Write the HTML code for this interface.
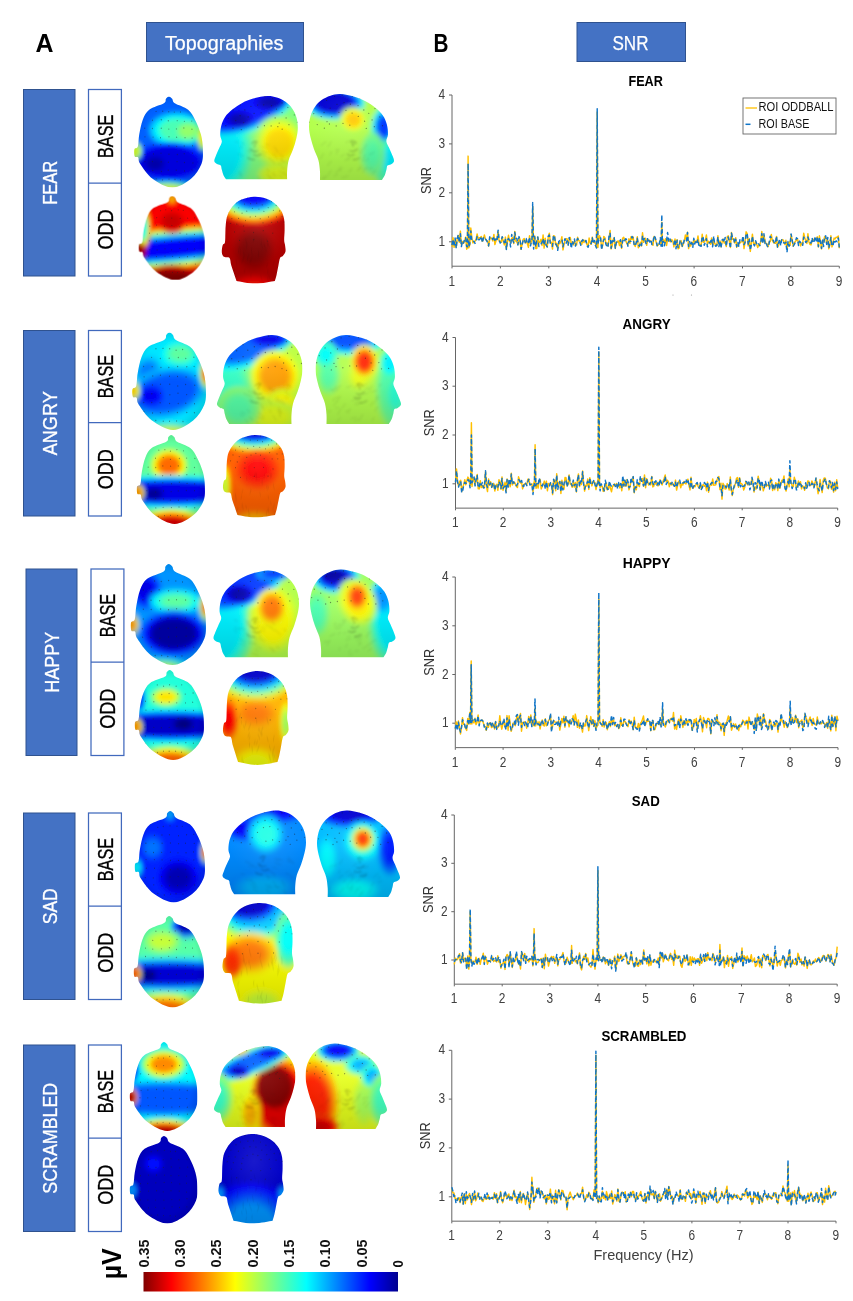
<!DOCTYPE html>
<html><head><meta charset="utf-8"><title>Figure</title>
<style>html,body{margin:0;padding:0;background:#fff}svg{display:block;font-family:"Liberation Sans", sans-serif}</style>
</head><body>
<svg width="853" height="1301" viewBox="0 0 853 1301">
<rect width="853" height="1301" fill="#fff"/>
<text x="44.5" y="51.7" font-size="25" fill="#000" font-weight="bold" text-anchor="middle" textLength="18" lengthAdjust="spacingAndGlyphs">A</text>
<text x="441" y="52" font-size="25" fill="#000" font-weight="bold" text-anchor="middle" textLength="15" lengthAdjust="spacingAndGlyphs">B</text>
<rect x="146.5" y="22.5" width="157" height="39" fill="#4472C4" stroke="#2F528F" stroke-width="1"/>
<text x="224.2" y="50" font-size="20" fill="#fff" font-weight="normal" text-anchor="middle" textLength="118.5" lengthAdjust="spacingAndGlyphs" stroke="#fff" stroke-width="0.25">Topographies</text>
<rect x="577" y="22.5" width="108.5" height="39" fill="#4472C4" stroke="#2F528F" stroke-width="1"/>
<text x="630.5" y="50" font-size="20" fill="#fff" font-weight="normal" text-anchor="middle" textLength="36" lengthAdjust="spacingAndGlyphs" stroke="#fff" stroke-width="0.25">SNR</text>
<rect x="23.5" y="89.5" width="51.5" height="186.5" fill="#4472C4" stroke="#2F528F" stroke-width="1"/>
<text x="56.75" y="182.75" font-size="21" fill="#fff" font-weight="normal" text-anchor="middle" transform="rotate(-90 56.75 182.75)" textLength="44" lengthAdjust="spacingAndGlyphs" stroke="#fff" stroke-width="0.3">FEAR</text>
<rect x="88.5" y="89.5" width="32.900000000000006" height="186.5" fill="#fff" stroke="#4169BD" stroke-width="1.25"/>
<line x1="88.5" x2="121.4" y1="183" y2="183" stroke="#4169BD" stroke-width="1.25"/>
<text x="112.75" y="136.25" font-size="21.5" fill="#000" font-weight="normal" text-anchor="middle" transform="rotate(-90 112.75 136.25)" textLength="43.5" lengthAdjust="spacingAndGlyphs" stroke="#000" stroke-width="0.35">BASE</text>
<text x="112.75" y="229.5" font-size="21.5" fill="#000" font-weight="normal" text-anchor="middle" transform="rotate(-90 112.75 229.5)" textLength="40" lengthAdjust="spacingAndGlyphs" stroke="#000" stroke-width="0.35">ODD</text>
<rect x="23.5" y="330.5" width="51.5" height="185.5" fill="#4472C4" stroke="#2F528F" stroke-width="1"/>
<text x="56.75" y="423.25" font-size="21" fill="#fff" font-weight="normal" text-anchor="middle" transform="rotate(-90 56.75 423.25)" textLength="64" lengthAdjust="spacingAndGlyphs" stroke="#fff" stroke-width="0.3">ANGRY</text>
<rect x="88.5" y="330.5" width="32.900000000000006" height="185.5" fill="#fff" stroke="#4169BD" stroke-width="1.25"/>
<line x1="88.5" x2="121.4" y1="422.5" y2="422.5" stroke="#4169BD" stroke-width="1.25"/>
<text x="112.75" y="376.5" font-size="21.5" fill="#000" font-weight="normal" text-anchor="middle" transform="rotate(-90 112.75 376.5)" textLength="43.5" lengthAdjust="spacingAndGlyphs" stroke="#000" stroke-width="0.35">BASE</text>
<text x="112.75" y="469.25" font-size="21.5" fill="#000" font-weight="normal" text-anchor="middle" transform="rotate(-90 112.75 469.25)" textLength="40" lengthAdjust="spacingAndGlyphs" stroke="#000" stroke-width="0.35">ODD</text>
<rect x="26" y="569" width="51" height="186.5" fill="#4472C4" stroke="#2F528F" stroke-width="1"/>
<text x="59.0" y="662.25" font-size="21" fill="#fff" font-weight="normal" text-anchor="middle" transform="rotate(-90 59.0 662.25)" textLength="61" lengthAdjust="spacingAndGlyphs" stroke="#fff" stroke-width="0.3">HAPPY</text>
<rect x="91" y="569" width="32.900000000000006" height="186.5" fill="#fff" stroke="#4169BD" stroke-width="1.25"/>
<line x1="91" x2="123.9" y1="662" y2="662" stroke="#4169BD" stroke-width="1.25"/>
<text x="115.25" y="615.5" font-size="21.5" fill="#000" font-weight="normal" text-anchor="middle" transform="rotate(-90 115.25 615.5)" textLength="43.5" lengthAdjust="spacingAndGlyphs" stroke="#000" stroke-width="0.35">BASE</text>
<text x="115.25" y="708.75" font-size="21.5" fill="#000" font-weight="normal" text-anchor="middle" transform="rotate(-90 115.25 708.75)" textLength="40" lengthAdjust="spacingAndGlyphs" stroke="#000" stroke-width="0.35">ODD</text>
<rect x="23.5" y="813" width="51.5" height="186.5" fill="#4472C4" stroke="#2F528F" stroke-width="1"/>
<text x="56.75" y="906.25" font-size="21" fill="#fff" font-weight="normal" text-anchor="middle" transform="rotate(-90 56.75 906.25)" textLength="36" lengthAdjust="spacingAndGlyphs" stroke="#fff" stroke-width="0.3">SAD</text>
<rect x="88.5" y="813" width="32.900000000000006" height="186.5" fill="#fff" stroke="#4169BD" stroke-width="1.25"/>
<line x1="88.5" x2="121.4" y1="906" y2="906" stroke="#4169BD" stroke-width="1.25"/>
<text x="112.75" y="859.5" font-size="21.5" fill="#000" font-weight="normal" text-anchor="middle" transform="rotate(-90 112.75 859.5)" textLength="43.5" lengthAdjust="spacingAndGlyphs" stroke="#000" stroke-width="0.35">BASE</text>
<text x="112.75" y="952.75" font-size="21.5" fill="#000" font-weight="normal" text-anchor="middle" transform="rotate(-90 112.75 952.75)" textLength="40" lengthAdjust="spacingAndGlyphs" stroke="#000" stroke-width="0.35">ODD</text>
<rect x="23.5" y="1045" width="51.5" height="186.5" fill="#4472C4" stroke="#2F528F" stroke-width="1"/>
<text x="56.75" y="1138.25" font-size="21" fill="#fff" font-weight="normal" text-anchor="middle" transform="rotate(-90 56.75 1138.25)" textLength="111" lengthAdjust="spacingAndGlyphs" stroke="#fff" stroke-width="0.3">SCRAMBLED</text>
<rect x="88.5" y="1045" width="32.900000000000006" height="186.5" fill="#fff" stroke="#4169BD" stroke-width="1.25"/>
<line x1="88.5" x2="121.4" y1="1138" y2="1138" stroke="#4169BD" stroke-width="1.25"/>
<text x="112.75" y="1091.5" font-size="21.5" fill="#000" font-weight="normal" text-anchor="middle" transform="rotate(-90 112.75 1091.5)" textLength="43.5" lengthAdjust="spacingAndGlyphs" stroke="#000" stroke-width="0.35">BASE</text>
<text x="112.75" y="1184.75" font-size="21.5" fill="#000" font-weight="normal" text-anchor="middle" transform="rotate(-90 112.75 1184.75)" textLength="40" lengthAdjust="spacingAndGlyphs" stroke="#000" stroke-width="0.35">ODD</text>
<text x="645.65" y="86" font-size="15.3" fill="#000" font-weight="bold" text-anchor="middle" textLength="34.5" lengthAdjust="spacingAndGlyphs">FEAR</text>
<path d="M449,95 H452 V266.2083333333333 H839.3" fill="none" stroke="#666" stroke-width="1"/>
<path d="M449,241.8 H452 M449,192.8 H452 M449,143.9 H452 M452.0,266.2083333333333 V268.4083333333333 M500.4,266.2083333333333 V268.4083333333333 M548.8,266.2083333333333 V268.4083333333333 M597.2,266.2083333333333 V268.4083333333333 M645.6,266.2083333333333 V268.4083333333333 M694.1,266.2083333333333 V268.4083333333333 M742.5,266.2083333333333 V268.4083333333333 M790.9,266.2083333333333 V268.4083333333333 M839.3,266.2083333333333 V268.4083333333333 " fill="none" stroke="#666" stroke-width="1"/>
<text x="445.2" y="245.75" font-size="14.3" fill="#404040" font-weight="normal" text-anchor="end" textLength="6.6" lengthAdjust="spacingAndGlyphs">1</text>
<text x="445.2" y="196.83333333333334" font-size="14.3" fill="#404040" font-weight="normal" text-anchor="end" textLength="6.6" lengthAdjust="spacingAndGlyphs">2</text>
<text x="445.2" y="147.91666666666669" font-size="14.3" fill="#404040" font-weight="normal" text-anchor="end" textLength="6.6" lengthAdjust="spacingAndGlyphs">3</text>
<text x="445.2" y="99.0" font-size="14.3" fill="#404040" font-weight="normal" text-anchor="end" textLength="6.6" lengthAdjust="spacingAndGlyphs">4</text>
<text x="451.8" y="285.5083333333333" font-size="14.3" fill="#404040" font-weight="normal" text-anchor="middle" textLength="6.6" lengthAdjust="spacingAndGlyphs">1</text>
<text x="500.21250000000003" y="285.5083333333333" font-size="14.3" fill="#404040" font-weight="normal" text-anchor="middle" textLength="6.6" lengthAdjust="spacingAndGlyphs">2</text>
<text x="548.625" y="285.5083333333333" font-size="14.3" fill="#404040" font-weight="normal" text-anchor="middle" textLength="6.6" lengthAdjust="spacingAndGlyphs">3</text>
<text x="597.0374999999999" y="285.5083333333333" font-size="14.3" fill="#404040" font-weight="normal" text-anchor="middle" textLength="6.6" lengthAdjust="spacingAndGlyphs">4</text>
<text x="645.4499999999999" y="285.5083333333333" font-size="14.3" fill="#404040" font-weight="normal" text-anchor="middle" textLength="6.6" lengthAdjust="spacingAndGlyphs">5</text>
<text x="693.8625" y="285.5083333333333" font-size="14.3" fill="#404040" font-weight="normal" text-anchor="middle" textLength="6.6" lengthAdjust="spacingAndGlyphs">6</text>
<text x="742.2749999999999" y="285.5083333333333" font-size="14.3" fill="#404040" font-weight="normal" text-anchor="middle" textLength="6.6" lengthAdjust="spacingAndGlyphs">7</text>
<text x="790.6874999999999" y="285.5083333333333" font-size="14.3" fill="#404040" font-weight="normal" text-anchor="middle" textLength="6.6" lengthAdjust="spacingAndGlyphs">8</text>
<text x="839.0999999999999" y="285.5083333333333" font-size="14.3" fill="#404040" font-weight="normal" text-anchor="middle" textLength="6.6" lengthAdjust="spacingAndGlyphs">9</text>
<text x="430.7" y="180.60416666666666" font-size="14.5" fill="#333" font-weight="normal" text-anchor="middle" transform="rotate(-90 430.7 180.60416666666666)" textLength="27" lengthAdjust="spacingAndGlyphs">SNR</text>
<polyline points="452.0,246.8 453.0,237.6 454.1,247.3 455.1,239.8 456.2,246.8 457.2,238.8 458.3,235.4 459.3,242.2 460.4,231.1 461.4,245.0 462.5,241.4 463.5,243.2 464.6,240.6 465.6,237.2 466.7,249.2 467.4,247.7 468.1,156.1 468.8,247.7 468.7,247.9 469.8,245.0 470.8,228.0 471.9,238.2 472.9,242.9 474.0,242.1 475.0,241.3 476.1,239.4 477.1,234.0 478.2,238.9 479.2,237.8 480.3,237.6 481.3,236.5 482.4,241.2 483.4,238.6 484.4,234.9 485.5,239.4 486.5,240.6 487.6,241.0 488.6,246.0 489.7,239.3 490.7,237.7 491.8,238.5 492.8,241.0 493.9,234.4 494.9,244.6 496.0,240.7 497.0,238.1 498.1,231.6 499.1,241.0 500.2,241.2 501.2,242.2 502.2,237.1 503.3,241.5 504.3,244.9 505.4,237.1 506.4,249.2 507.5,240.8 508.5,235.3 509.6,241.7 510.6,242.4 511.7,238.4 512.7,237.6 513.8,243.5 514.8,231.4 515.9,241.3 516.9,242.1 517.9,244.6 519.0,238.8 520.0,239.0 521.1,249.3 522.1,244.3 523.2,239.3 524.2,238.5 525.3,243.1 526.3,240.0 527.4,243.7 528.4,247.4 529.5,235.7 530.5,243.7 531.6,241.0 532.0,239.3 532.7,206.5 533.4,237.8 533.6,245.0 534.7,235.9 535.7,248.4 536.8,248.4 537.8,237.1 538.9,242.5 539.9,242.3 541.0,239.3 542.0,245.5 543.1,234.9 544.1,248.1 545.2,238.2 546.2,244.6 547.3,246.7 548.3,236.5 549.3,233.2 550.4,242.3 551.4,242.3 552.5,249.1 553.5,235.8 554.6,236.2 555.6,244.7 556.7,243.3 557.7,248.8 558.8,241.8 559.8,243.7 560.9,241.0 561.9,236.7 563.0,249.9 564.0,244.6 565.0,240.3 566.1,238.6 567.1,238.8 568.2,244.9 569.2,238.6 570.3,237.5 571.3,244.2 572.4,242.2 573.4,244.9 574.5,240.8 575.5,245.2 576.6,244.9 577.6,237.2 578.7,240.8 579.7,240.9 580.8,243.1 581.8,244.4 582.8,239.5 583.9,242.6 584.9,240.3 586.0,240.9 587.0,244.9 588.1,245.9 589.1,238.0 590.2,242.9 591.2,244.3 592.3,237.1 593.3,242.3 594.4,242.3 595.4,243.4 596.5,247.0 596.5,247.5 597.2,112.1 597.9,247.5 598.5,240.3 599.6,235.7 600.6,238.6 601.7,248.2 602.7,245.6 603.8,236.4 604.8,237.4 605.9,243.4 606.9,243.1 608.0,245.9 609.0,239.7 610.1,230.4 611.1,248.9 612.2,245.7 613.2,239.4 614.2,237.9 615.3,248.5 616.3,242.7 617.4,241.2 618.4,241.0 619.5,245.5 620.5,240.3 621.6,248.4 622.6,238.3 623.7,237.2 624.7,240.1 625.8,240.8 626.8,243.4 627.9,245.0 628.9,238.8 629.9,243.3 631.0,236.7 632.0,239.6 633.1,236.8 634.1,244.2 635.2,246.5 636.2,242.5 637.3,236.8 638.3,247.8 639.4,246.2 640.4,242.3 641.5,245.9 642.5,232.7 643.6,242.3 644.6,238.7 645.6,238.2 646.7,245.3 647.7,239.7 648.8,239.8 649.8,241.6 650.9,240.7 651.9,243.2 653.0,245.3 654.0,236.4 655.1,238.2 656.1,241.8 657.2,246.1 658.2,244.8 659.3,244.2 660.3,240.1 661.1,245.0 661.8,222.2 662.5,245.0 662.4,238.4 663.4,239.9 664.5,242.2 665.5,238.8 666.6,245.5 667.6,238.8 668.7,240.1 669.7,241.3 670.8,241.9 671.8,239.6 672.9,241.2 673.9,246.9 675.0,239.0 676.0,245.5 677.1,239.7 678.1,248.8 679.1,248.1 680.2,241.2 681.2,240.8 682.3,246.5 683.3,243.9 684.4,240.6 685.4,235.0 686.5,240.1 687.5,232.3 688.6,248.6 689.6,243.9 690.7,246.1 691.7,242.3 692.8,244.2 693.8,239.8 694.8,242.0 695.9,240.9 696.9,242.5 698.0,235.9 699.0,244.1 700.1,244.7 701.1,245.7 702.2,234.3 703.2,242.2 704.3,242.0 705.3,240.1 706.4,234.9 707.4,244.2 708.5,241.3 709.5,242.0 710.5,244.3 711.6,237.9 712.6,245.5 713.7,240.6 714.7,243.6 715.8,244.6 716.8,245.8 717.9,235.8 718.9,243.9 720.0,240.9 721.0,246.8 722.1,241.9 723.1,239.1 724.2,243.1 725.2,241.8 726.3,246.5 727.3,236.5 728.3,235.8 729.4,241.1 730.4,247.5 731.5,232.5 732.5,239.2 733.6,239.4 734.6,242.9 735.7,237.7 736.7,247.3 737.8,244.0 738.8,244.7 739.9,243.1 740.9,241.9 742.0,241.7 743.0,237.9 744.0,248.6 745.1,241.8 746.1,231.8 747.2,233.7 748.2,246.0 749.3,238.7 750.3,251.4 751.4,242.5 752.4,234.2 753.5,243.4 754.5,245.0 755.6,241.4 756.6,243.9 757.7,247.5 758.7,244.9 759.7,245.5 760.8,240.9 761.8,231.5 762.9,242.1 763.9,235.1 765.0,240.5 766.0,243.8 767.1,243.9 768.1,246.7 769.2,241.7 770.2,241.7 771.3,234.4 772.3,240.3 773.4,242.3 774.4,243.1 775.4,243.3 776.5,236.4 777.5,247.3 778.6,245.1 779.6,240.8 780.7,242.0 781.7,239.9 782.8,239.6 783.8,241.4 784.9,244.6 785.9,240.3 787.0,248.9 788.0,244.1 789.1,242.0 790.1,245.3 791.1,234.8 792.2,240.2 793.2,246.2 794.3,243.1 795.3,241.5 796.4,240.3 797.4,238.7 798.5,242.8 799.5,242.2 800.6,245.9 801.6,243.1 802.7,243.1 803.7,233.2 804.8,237.9 805.8,240.6 806.9,243.5 807.9,233.7 808.9,241.7 810.0,244.4 811.0,245.0 812.1,239.9 813.1,240.2 814.2,239.0 815.2,238.6 816.3,239.3 817.3,236.8 818.4,246.9 819.4,235.8 820.5,241.2 821.5,248.8 822.6,240.3 823.6,242.5 824.6,236.7 825.7,237.5 826.7,243.6 827.8,240.4 828.8,248.8 829.9,244.7 830.9,235.7 832.0,246.9 833.0,242.9 834.1,238.1 835.1,238.9 836.2,237.2 837.2,237.4 838.3,236.0 839.3,248.2" fill="none" stroke="#FFC000" stroke-width="1.45" stroke-linejoin="round"/>
<polyline points="452.0,245.1 453.0,239.4 454.1,246.3 455.1,238.0 456.2,248.3 457.2,238.5 458.3,234.7 459.3,242.6 460.4,233.8 461.4,246.6 462.5,241.1 463.5,243.0 464.6,239.5 465.6,237.7 466.7,246.3 467.4,246.8 468.1,163.5 468.8,246.8 468.7,246.6 469.8,243.9 470.8,230.9 471.9,241.5 472.9,241.4 474.0,241.3 475.0,243.4 476.1,241.5 477.1,236.5 478.2,239.5 479.2,239.8 480.3,238.7 481.3,236.3 482.4,242.8 483.4,238.3 484.4,237.0 485.5,238.9 486.5,240.4 487.6,242.3 488.6,245.9 489.7,236.8 490.7,236.4 491.8,237.8 492.8,239.6 493.9,236.5 494.9,240.2 496.0,239.0 497.0,241.1 498.1,230.2 499.1,239.7 500.2,243.1 501.2,241.4 502.2,236.7 503.3,238.9 504.3,242.7 505.4,238.6 506.4,249.5 507.5,239.9 508.5,238.6 509.6,240.5 510.6,246.9 511.7,234.5 512.7,240.2 513.8,242.7 514.8,232.3 515.9,238.3 516.9,238.4 517.9,245.0 519.0,236.6 520.0,239.0 521.1,249.2 522.1,244.8 523.2,240.5 524.2,239.0 525.3,242.6 526.3,238.6 527.4,243.8 528.4,243.1 529.5,237.3 530.5,245.8 531.6,240.8 532.0,239.3 532.7,202.6 533.4,237.8 533.6,249.1 534.7,236.7 535.7,246.8 536.8,240.3 537.8,236.9 538.9,246.5 539.9,245.2 541.0,244.0 542.0,242.4 543.1,238.6 544.1,245.1 545.2,240.8 546.2,245.4 547.3,247.0 548.3,236.2 549.3,235.1 550.4,244.1 551.4,244.7 552.5,246.3 553.5,235.3 554.6,236.8 555.6,244.0 556.7,245.2 557.7,250.3 558.8,241.5 559.8,240.5 560.9,240.0 561.9,239.3 563.0,246.8 564.0,241.5 565.0,238.7 566.1,243.3 567.1,240.7 568.2,245.1 569.2,237.5 570.3,241.6 571.3,248.4 572.4,240.9 573.4,243.8 574.5,239.0 575.5,246.1 576.6,240.9 577.6,238.4 578.7,240.8 579.7,241.5 580.8,245.3 581.8,240.7 582.8,239.8 583.9,242.3 584.9,241.8 586.0,240.6 587.0,245.8 588.1,247.2 589.1,243.4 590.2,243.8 591.2,243.6 592.3,237.8 593.3,243.4 594.4,240.4 595.4,245.3 596.5,248.1 596.5,244.2 597.2,108.7 597.9,244.2 598.5,241.0 599.6,238.2 600.6,237.7 601.7,249.9 602.7,243.1 603.8,239.8 604.8,239.0 605.9,244.1 606.9,246.4 608.0,247.5 609.0,236.0 610.1,233.3 611.1,248.3 612.2,241.0 613.2,241.3 614.2,237.6 615.3,248.2 616.3,242.5 617.4,242.0 618.4,242.3 619.5,241.8 620.5,239.7 621.6,247.4 622.6,241.6 623.7,238.9 624.7,240.7 625.8,238.7 626.8,240.0 627.9,246.2 628.9,241.5 629.9,241.2 631.0,241.2 632.0,236.4 633.1,238.2 634.1,244.3 635.2,246.1 636.2,242.7 637.3,238.3 638.3,244.5 639.4,246.2 640.4,242.9 641.5,245.6 642.5,235.7 643.6,240.0 644.6,237.8 645.6,242.7 646.7,244.4 647.7,237.6 648.8,240.7 649.8,242.0 650.9,239.6 651.9,244.5 653.0,242.4 654.0,235.5 655.1,237.3 656.1,240.5 657.2,245.6 658.2,242.8 659.3,243.9 660.3,237.8 661.1,246.2 661.8,214.8 662.5,246.2 662.4,241.2 663.4,241.4 664.5,245.7 665.5,240.4 666.6,240.7 667.6,232.5 668.7,241.1 669.7,238.2 670.8,241.0 671.8,241.8 672.9,242.3 673.9,244.2 675.0,239.4 676.0,248.7 677.1,240.3 678.1,247.5 679.1,246.9 680.2,240.6 681.2,240.7 682.3,246.3 683.3,243.9 684.4,239.6 685.4,241.3 686.5,240.8 687.5,232.4 688.6,246.5 689.6,241.5 690.7,245.5 691.7,242.4 692.8,247.3 693.8,238.3 694.8,244.0 695.9,240.0 696.9,242.4 698.0,239.3 699.0,247.3 700.1,245.5 701.1,246.3 702.2,236.2 703.2,237.8 704.3,245.3 705.3,242.2 706.4,238.7 707.4,246.8 708.5,243.4 709.5,242.7 710.5,241.9 711.6,238.5 712.6,246.8 713.7,236.2 714.7,244.8 715.8,246.2 716.8,245.4 717.9,237.0 718.9,246.6 720.0,241.1 721.0,248.0 722.1,239.9 723.1,239.3 724.2,242.2 725.2,237.5 726.3,246.2 727.3,238.1 728.3,237.1 729.4,242.0 730.4,248.2 731.5,233.1 732.5,237.9 733.6,237.9 734.6,243.1 735.7,239.2 736.7,246.6 737.8,242.4 738.8,246.2 739.9,239.8 740.9,241.6 742.0,241.1 743.0,235.9 744.0,244.6 745.1,242.4 746.1,234.1 747.2,233.4 748.2,244.2 749.3,239.5 750.3,250.2 751.4,244.6 752.4,236.2 753.5,243.6 754.5,245.9 755.6,240.8 756.6,243.6 757.7,245.4 758.7,243.8 759.7,245.8 760.8,243.4 761.8,233.6 762.9,243.4 763.9,233.7 765.0,243.4 766.0,242.2 767.1,245.8 768.1,247.2 769.2,243.0 770.2,236.2 771.3,237.9 772.3,240.4 773.4,240.2 774.4,243.5 775.4,243.2 776.5,236.0 777.5,247.1 778.6,242.8 779.6,239.3 780.7,245.7 781.7,239.8 782.8,242.6 783.8,242.8 784.9,243.3 785.9,242.3 787.0,252.3 788.0,241.5 789.1,246.3 790.1,243.8 791.1,233.9 792.2,240.1 793.2,246.2 794.3,244.4 795.3,242.3 796.4,237.8 797.4,238.5 798.5,245.5 799.5,241.1 800.6,242.7 801.6,242.1 802.7,245.3 803.7,237.1 804.8,239.8 805.8,242.4 806.9,241.3 807.9,236.9 808.9,239.9 810.0,242.5 811.0,243.2 812.1,237.9 813.1,242.9 814.2,241.7 815.2,236.3 816.3,240.9 817.3,237.5 818.4,246.6 819.4,237.6 820.5,242.0 821.5,248.4 822.6,240.2 823.6,246.5 824.6,236.3 825.7,235.8 826.7,244.4 827.8,237.4 828.8,247.8 829.9,243.0 830.9,237.5 832.0,245.8 833.0,245.7 834.1,239.8 835.1,242.1 836.2,240.9 837.2,241.8 838.3,237.9 839.3,247.4" fill="none" stroke="#0F74C8" stroke-width="1.45" stroke-dasharray="4.2 2.6" stroke-linejoin="round"/>
<text x="646.6" y="328.5" font-size="15.3" fill="#000" font-weight="bold" text-anchor="middle" textLength="48" lengthAdjust="spacingAndGlyphs">ANGRY</text>
<path d="M452.5,337.5 H455.5 V508.125 H837.7" fill="none" stroke="#666" stroke-width="1"/>
<path d="M452.5,483.8 H455.5 M452.5,435.0 H455.5 M452.5,386.2 H455.5 M455.5,508.125 V510.325 M503.3,508.125 V510.325 M551.0,508.125 V510.325 M598.8,508.125 V510.325 M646.6,508.125 V510.325 M694.4,508.125 V510.325 M742.2,508.125 V510.325 M789.9,508.125 V510.325 M837.7,508.125 V510.325 " fill="none" stroke="#666" stroke-width="1"/>
<text x="448.7" y="487.75" font-size="14.3" fill="#404040" font-weight="normal" text-anchor="end" textLength="6.6" lengthAdjust="spacingAndGlyphs">1</text>
<text x="448.7" y="439.0" font-size="14.3" fill="#404040" font-weight="normal" text-anchor="end" textLength="6.6" lengthAdjust="spacingAndGlyphs">2</text>
<text x="448.7" y="390.25" font-size="14.3" fill="#404040" font-weight="normal" text-anchor="end" textLength="6.6" lengthAdjust="spacingAndGlyphs">3</text>
<text x="448.7" y="341.5" font-size="14.3" fill="#404040" font-weight="normal" text-anchor="end" textLength="6.6" lengthAdjust="spacingAndGlyphs">4</text>
<text x="455.3" y="527.425" font-size="14.3" fill="#404040" font-weight="normal" text-anchor="middle" textLength="6.6" lengthAdjust="spacingAndGlyphs">1</text>
<text x="503.075" y="527.425" font-size="14.3" fill="#404040" font-weight="normal" text-anchor="middle" textLength="6.6" lengthAdjust="spacingAndGlyphs">2</text>
<text x="550.8499999999999" y="527.425" font-size="14.3" fill="#404040" font-weight="normal" text-anchor="middle" textLength="6.6" lengthAdjust="spacingAndGlyphs">3</text>
<text x="598.625" y="527.425" font-size="14.3" fill="#404040" font-weight="normal" text-anchor="middle" textLength="6.6" lengthAdjust="spacingAndGlyphs">4</text>
<text x="646.4" y="527.425" font-size="14.3" fill="#404040" font-weight="normal" text-anchor="middle" textLength="6.6" lengthAdjust="spacingAndGlyphs">5</text>
<text x="694.175" y="527.425" font-size="14.3" fill="#404040" font-weight="normal" text-anchor="middle" textLength="6.6" lengthAdjust="spacingAndGlyphs">6</text>
<text x="741.95" y="527.425" font-size="14.3" fill="#404040" font-weight="normal" text-anchor="middle" textLength="6.6" lengthAdjust="spacingAndGlyphs">7</text>
<text x="789.725" y="527.425" font-size="14.3" fill="#404040" font-weight="normal" text-anchor="middle" textLength="6.6" lengthAdjust="spacingAndGlyphs">8</text>
<text x="837.5" y="527.425" font-size="14.3" fill="#404040" font-weight="normal" text-anchor="middle" textLength="6.6" lengthAdjust="spacingAndGlyphs">9</text>
<text x="434.2" y="422.8125" font-size="14.5" fill="#333" font-weight="normal" text-anchor="middle" transform="rotate(-90 434.2 422.8125)" textLength="27" lengthAdjust="spacingAndGlyphs">SNR</text>
<polyline points="455.5,481.5 456.5,468.9 457.6,482.9 458.6,486.0 459.6,481.4 460.7,480.2 461.7,491.5 462.7,487.5 463.8,484.1 464.8,479.7 465.8,484.8 466.9,480.5 467.9,477.1 468.9,478.6 470.0,485.6 470.7,484.3 471.4,422.8 472.1,484.3 472.0,486.5 473.1,478.0 474.1,478.9 475.1,485.1 476.2,478.9 477.2,474.5 478.2,488.7 479.3,488.9 480.3,480.7 481.3,487.6 482.4,485.4 483.4,488.0 484.4,486.1 485.5,471.9 486.5,486.5 487.5,491.6 488.6,479.0 489.6,485.3 490.6,481.7 491.7,487.4 492.7,485.6 493.7,483.3 494.8,491.0 495.8,485.4 496.8,484.2 497.9,490.3 498.9,479.7 499.9,481.0 501.0,489.2 502.0,476.9 503.0,490.3 504.0,486.2 505.1,482.1 506.1,491.4 507.1,478.9 508.2,486.3 509.2,480.7 510.2,486.8 511.3,473.3 512.3,485.0 513.3,483.1 514.4,482.0 515.4,484.1 516.4,486.5 517.5,487.5 518.5,476.7 519.5,479.8 520.6,483.1 521.6,482.4 522.6,488.9 523.7,484.7 524.7,483.7 525.7,483.9 526.8,485.0 527.8,479.2 528.8,479.2 529.9,484.7 530.9,484.8 531.9,483.7 533.0,491.9 534.0,482.0 534.4,486.0 535.1,444.8 535.8,486.0 536.1,488.3 537.1,483.5 538.1,488.1 539.2,480.4 540.2,479.6 541.2,489.0 542.3,486.4 543.3,484.2 544.3,481.1 545.4,486.3 546.4,481.1 547.4,490.8 548.5,483.4 549.5,485.3 550.5,483.0 551.6,486.0 552.6,494.6 553.6,480.7 554.7,480.1 555.7,490.7 556.7,473.8 557.8,486.7 558.8,482.9 559.8,481.4 560.9,493.5 561.9,480.2 562.9,488.6 564.0,489.2 565.0,477.5 566.0,477.7 567.1,485.9 568.1,484.3 569.1,474.9 570.2,484.0 571.2,484.5 572.2,487.3 573.3,481.6 574.3,487.1 575.3,482.4 576.4,492.0 577.4,479.9 578.4,473.9 579.5,486.6 580.5,481.6 581.5,484.6 582.6,471.0 583.6,482.9 584.6,491.1 585.7,485.3 586.7,485.9 587.7,479.0 588.8,489.4 589.8,477.7 590.8,481.5 591.9,485.9 592.9,482.0 593.9,481.2 595.0,483.2 596.0,489.6 597.0,484.3 598.1,478.9 598.1,484.8 598.8,352.1 599.5,484.8 600.1,487.4 601.1,485.9 602.2,486.2 603.2,491.4 604.2,491.0 605.3,484.4 606.3,483.1 607.3,489.9 608.4,488.8 609.4,483.4 610.4,488.3 611.5,491.8 612.5,486.4 613.5,485.6 614.6,483.9 615.6,486.6 616.6,483.4 617.7,486.5 618.7,483.5 619.7,487.9 620.8,483.8 621.8,490.8 622.8,478.4 623.9,486.2 624.9,480.5 625.9,486.3 627.0,479.5 628.0,483.9 629.0,489.9 630.1,486.4 631.1,480.2 632.1,481.7 633.2,476.7 634.2,492.8 635.2,486.4 636.3,489.8 637.3,482.9 638.3,484.8 639.4,486.7 640.4,478.3 641.4,479.3 642.5,478.5 643.5,486.1 644.5,474.9 645.6,487.7 646.6,478.6 647.6,481.2 648.7,485.1 649.7,483.1 650.7,484.9 651.8,476.4 652.8,486.9 653.8,486.1 654.9,481.7 655.9,484.2 656.9,482.2 658.0,485.9 659.0,484.2 660.0,479.7 661.1,483.3 662.1,485.0 663.1,481.1 664.2,478.3 665.2,474.9 666.2,481.9 667.3,480.2 668.3,481.4 669.3,486.8 670.4,482.8 671.4,484.9 672.4,483.2 673.5,485.8 674.5,485.4 675.5,480.1 676.6,490.1 677.6,485.5 678.6,481.3 679.7,483.1 680.7,487.7 681.7,484.0 682.8,485.1 683.8,481.4 684.8,483.2 685.9,484.0 686.9,481.0 687.9,479.2 689.0,485.5 690.0,489.9 691.0,477.2 692.1,486.6 693.1,488.4 694.1,486.0 695.1,486.8 696.2,484.3 697.2,483.0 698.2,486.7 699.3,488.4 700.3,483.5 701.3,488.9 702.4,485.6 703.4,484.6 704.4,486.3 705.5,485.1 706.5,490.7 707.5,482.1 708.6,492.2 709.6,486.2 710.6,483.5 711.7,485.3 712.7,478.9 713.7,485.2 714.8,485.1 715.8,484.8 716.8,480.5 717.9,477.6 718.9,476.5 719.9,489.6 721.0,483.3 722.0,499.1 723.0,483.2 724.1,485.4 725.1,489.1 726.1,488.8 727.2,483.4 728.2,486.6 729.2,490.0 730.3,476.9 731.3,489.8 732.3,495.5 733.4,488.3 734.4,487.2 735.4,483.4 736.5,478.3 737.5,477.5 738.5,487.3 739.6,477.7 740.6,483.7 741.6,483.7 742.7,485.1 743.7,490.1 744.7,487.6 745.8,481.3 746.8,483.0 747.8,485.0 748.9,482.3 749.9,484.9 750.9,483.7 752.0,478.8 753.0,482.6 754.0,492.0 755.1,486.8 756.1,489.1 757.1,484.3 758.2,476.2 759.2,482.1 760.2,490.1 761.3,483.1 762.3,484.3 763.3,490.9 764.4,487.4 765.4,483.2 766.4,486.4 767.5,484.9 768.5,485.4 769.5,487.9 770.6,478.3 771.6,480.9 772.6,490.5 773.7,485.5 774.7,489.7 775.7,482.8 776.8,483.5 777.8,490.6 778.8,479.9 779.9,488.1 780.9,483.5 781.9,480.2 783.0,480.3 784.0,476.0 785.0,487.6 786.1,491.1 787.1,485.0 788.1,479.0 789.2,486.8 789.2,481.3 789.9,469.1 790.6,479.9 791.2,482.7 792.2,486.0 793.3,486.6 794.3,477.3 795.3,481.3 796.4,488.2 797.4,486.5 798.4,480.9 799.5,485.0 800.5,481.8 801.5,488.9 802.6,486.0 803.6,486.7 804.6,490.3 805.7,485.1 806.7,487.2 807.7,481.0 808.8,481.3 809.8,485.8 810.8,485.1 811.9,481.0 812.9,483.4 813.9,487.0 815.0,482.8 816.0,478.4 817.0,485.8 818.1,493.7 819.1,489.3 820.1,479.4 821.2,487.0 822.2,492.5 823.2,480.2 824.3,477.9 825.3,478.1 826.3,483.4 827.4,488.0 828.4,488.8 829.4,481.0 830.5,481.1 831.5,489.2 832.5,484.6 833.6,492.1 834.6,482.3 835.6,490.7 836.7,479.7 837.7,487.8" fill="none" stroke="#FFC000" stroke-width="1.45" stroke-linejoin="round"/>
<polyline points="455.5,482.3 456.5,470.8 457.6,482.2 458.6,487.0 459.6,482.8 460.7,481.4 461.7,492.6 462.7,490.8 463.8,484.6 464.8,482.3 465.8,483.4 466.9,483.3 467.9,479.7 468.9,480.2 470.0,487.7 470.7,481.3 471.4,435.0 472.1,479.9 472.0,482.8 473.1,479.9 474.1,477.0 475.1,485.9 476.2,479.1 477.2,475.5 478.2,487.8 479.3,486.3 480.3,482.1 481.3,485.0 482.4,482.5 483.4,487.7 484.4,487.8 485.5,470.8 486.5,484.3 487.5,487.4 488.6,480.6 489.6,484.4 490.6,482.9 491.7,487.2 492.7,483.6 493.7,482.9 494.8,490.3 495.8,486.1 496.8,484.7 497.9,487.1 498.9,481.5 499.9,483.4 501.0,488.5 502.0,478.5 503.0,488.5 504.0,487.1 505.1,486.0 506.1,492.8 507.1,479.6 508.2,487.1 509.2,478.7 510.2,485.5 511.3,474.1 512.3,484.0 513.3,481.8 514.4,483.3 515.4,483.1 516.4,485.7 517.5,484.1 518.5,479.8 519.5,480.2 520.6,483.7 521.6,480.5 522.6,485.6 523.7,486.6 524.7,482.3 525.7,483.2 526.8,485.7 527.8,481.9 528.8,479.3 529.9,484.9 530.9,484.5 531.9,483.9 533.0,494.5 534.0,483.5 534.4,485.8 535.1,448.6 535.8,485.8 536.1,484.1 537.1,483.8 538.1,485.3 539.2,477.9 540.2,482.0 541.2,485.0 542.3,486.0 543.3,483.0 544.3,483.6 545.4,489.2 546.4,481.8 547.4,487.1 548.5,485.4 549.5,486.0 550.5,482.7 551.6,484.5 552.6,493.0 553.6,479.3 554.7,482.8 555.7,489.9 556.7,475.1 557.8,489.3 558.8,483.9 559.8,481.4 560.9,491.7 561.9,482.0 562.9,489.9 564.0,483.6 565.0,479.9 566.0,480.9 567.1,486.8 568.1,482.8 569.1,475.1 570.2,483.6 571.2,483.5 572.2,486.0 573.3,480.1 574.3,485.5 575.3,484.2 576.4,491.3 577.4,481.1 578.4,474.7 579.5,486.2 580.5,481.0 581.5,483.4 582.6,471.7 583.6,483.9 584.6,489.2 585.7,485.0 586.7,483.9 587.7,481.3 588.8,487.6 589.8,478.0 590.8,484.7 591.9,484.3 592.9,482.3 593.9,479.9 595.0,484.7 596.0,487.9 597.0,484.5 598.1,481.1 598.1,483.2 598.8,347.2 599.5,483.2 600.1,490.8 601.1,483.8 602.2,486.1 603.2,487.5 604.2,490.8 605.3,480.3 606.3,484.6 607.3,489.2 608.4,489.0 609.4,481.0 610.4,484.6 611.5,486.3 612.5,486.5 613.5,484.7 614.6,484.4 615.6,487.0 616.6,484.5 617.7,488.8 618.7,482.5 619.7,485.1 620.8,483.5 621.8,488.1 622.8,475.6 623.9,485.8 624.9,480.1 625.9,485.6 627.0,479.2 628.0,481.7 629.0,487.7 630.1,486.5 631.1,477.5 632.1,481.8 633.2,476.6 634.2,492.1 635.2,487.1 636.3,487.3 637.3,479.6 638.3,484.2 639.4,484.0 640.4,476.0 641.4,481.2 642.5,481.2 643.5,485.9 644.5,477.9 645.6,486.3 646.6,478.4 647.6,483.3 648.7,482.2 649.7,484.4 650.7,482.0 651.8,476.9 652.8,482.9 653.8,485.3 654.9,482.0 655.9,480.8 656.9,485.1 658.0,482.8 659.0,486.0 660.0,479.4 661.1,482.1 662.1,484.3 663.1,482.5 664.2,481.3 665.2,476.4 666.2,484.5 667.3,482.4 668.3,481.7 669.3,482.6 670.4,483.8 671.4,483.9 672.4,481.5 673.5,484.8 674.5,486.3 675.5,482.2 676.6,487.4 677.6,483.9 678.6,480.6 679.7,480.1 680.7,484.5 681.7,483.2 682.8,483.0 683.8,482.6 684.8,482.2 685.9,479.0 686.9,482.2 687.9,479.4 689.0,485.6 690.0,487.0 691.0,478.4 692.1,489.2 693.1,487.3 694.1,485.7 695.1,486.3 696.2,483.7 697.2,482.6 698.2,486.5 699.3,488.2 700.3,482.6 701.3,489.5 702.4,487.4 703.4,484.6 704.4,482.5 705.5,484.2 706.5,487.5 707.5,481.9 708.6,490.4 709.6,484.7 710.6,484.4 711.7,482.5 712.7,483.0 713.7,483.6 714.8,484.1 715.8,481.3 716.8,481.3 717.9,477.5 718.9,478.7 719.9,486.7 721.0,486.6 722.0,495.7 723.0,484.7 724.1,484.7 725.1,485.5 726.1,487.6 727.2,484.3 728.2,484.3 729.2,488.7 730.3,479.6 731.3,489.4 732.3,494.5 733.4,488.9 734.4,485.3 735.4,485.3 736.5,481.1 737.5,479.6 738.5,487.4 739.6,478.6 740.6,486.8 741.6,484.2 742.7,486.3 743.7,486.3 744.7,485.6 745.8,481.4 746.8,481.9 747.8,484.9 748.9,482.1 749.9,489.8 750.9,486.1 752.0,477.3 753.0,482.3 754.0,490.6 755.1,482.6 756.1,483.6 757.1,488.1 758.2,478.0 759.2,480.2 760.2,489.7 761.3,480.7 762.3,483.0 763.3,488.3 764.4,487.3 765.4,481.5 766.4,485.0 767.5,483.3 768.5,482.3 769.5,489.0 770.6,480.7 771.6,480.0 772.6,489.7 773.7,485.3 774.7,488.1 775.7,485.0 776.8,483.1 777.8,489.3 778.8,479.1 779.9,488.7 780.9,482.7 781.9,480.7 783.0,482.2 784.0,477.9 785.0,487.9 786.1,491.0 787.1,483.7 788.1,481.6 789.2,484.8 789.2,481.3 789.9,460.8 790.6,479.9 791.2,485.1 792.2,488.5 793.3,483.6 794.3,479.1 795.3,479.1 796.4,489.9 797.4,490.0 798.4,481.7 799.5,484.7 800.5,482.3 801.5,486.7 802.6,485.1 803.6,486.1 804.6,488.8 805.7,482.8 806.7,488.3 807.7,485.5 808.8,482.0 809.8,485.3 810.8,486.7 811.9,483.3 812.9,484.0 813.9,487.7 815.0,483.8 816.0,477.9 817.0,483.5 818.1,488.5 819.1,490.8 820.1,483.5 821.2,485.8 822.2,491.1 823.2,482.4 824.3,480.9 825.3,478.5 826.3,484.0 827.4,485.2 828.4,487.9 829.4,480.8 830.5,483.0 831.5,487.8 832.5,482.5 833.6,490.6 834.6,483.6 835.6,489.4 836.7,482.0 837.7,489.1" fill="none" stroke="#0F74C8" stroke-width="1.45" stroke-dasharray="4.2 2.6" stroke-linejoin="round"/>
<text x="646.65" y="568" font-size="15.3" fill="#000" font-weight="bold" text-anchor="middle" textLength="48" lengthAdjust="spacingAndGlyphs">HAPPY</text>
<path d="M452.3,577 H455.3 V747.625 H838" fill="none" stroke="#666" stroke-width="1"/>
<path d="M452.3,723.2 H455.3 M452.3,674.5 H455.3 M452.3,625.8 H455.3 M455.3,747.625 V749.825 M503.1,747.625 V749.825 M551.0,747.625 V749.825 M598.8,747.625 V749.825 M646.6,747.625 V749.825 M694.5,747.625 V749.825 M742.3,747.625 V749.825 M790.2,747.625 V749.825 M838.0,747.625 V749.825 " fill="none" stroke="#666" stroke-width="1"/>
<text x="448.5" y="727.25" font-size="14.3" fill="#404040" font-weight="normal" text-anchor="end" textLength="6.6" lengthAdjust="spacingAndGlyphs">1</text>
<text x="448.5" y="678.5" font-size="14.3" fill="#404040" font-weight="normal" text-anchor="end" textLength="6.6" lengthAdjust="spacingAndGlyphs">2</text>
<text x="448.5" y="629.75" font-size="14.3" fill="#404040" font-weight="normal" text-anchor="end" textLength="6.6" lengthAdjust="spacingAndGlyphs">3</text>
<text x="448.5" y="581.0" font-size="14.3" fill="#404040" font-weight="normal" text-anchor="end" textLength="6.6" lengthAdjust="spacingAndGlyphs">4</text>
<text x="455.1" y="766.925" font-size="14.3" fill="#404040" font-weight="normal" text-anchor="middle" textLength="6.6" lengthAdjust="spacingAndGlyphs">1</text>
<text x="502.9375" y="766.925" font-size="14.3" fill="#404040" font-weight="normal" text-anchor="middle" textLength="6.6" lengthAdjust="spacingAndGlyphs">2</text>
<text x="550.775" y="766.925" font-size="14.3" fill="#404040" font-weight="normal" text-anchor="middle" textLength="6.6" lengthAdjust="spacingAndGlyphs">3</text>
<text x="598.6125" y="766.925" font-size="14.3" fill="#404040" font-weight="normal" text-anchor="middle" textLength="6.6" lengthAdjust="spacingAndGlyphs">4</text>
<text x="646.4499999999999" y="766.925" font-size="14.3" fill="#404040" font-weight="normal" text-anchor="middle" textLength="6.6" lengthAdjust="spacingAndGlyphs">5</text>
<text x="694.2874999999999" y="766.925" font-size="14.3" fill="#404040" font-weight="normal" text-anchor="middle" textLength="6.6" lengthAdjust="spacingAndGlyphs">6</text>
<text x="742.125" y="766.925" font-size="14.3" fill="#404040" font-weight="normal" text-anchor="middle" textLength="6.6" lengthAdjust="spacingAndGlyphs">7</text>
<text x="789.9625" y="766.925" font-size="14.3" fill="#404040" font-weight="normal" text-anchor="middle" textLength="6.6" lengthAdjust="spacingAndGlyphs">8</text>
<text x="837.8" y="766.925" font-size="14.3" fill="#404040" font-weight="normal" text-anchor="middle" textLength="6.6" lengthAdjust="spacingAndGlyphs">9</text>
<text x="434.0" y="662.3125" font-size="14.5" fill="#333" font-weight="normal" text-anchor="middle" transform="rotate(-90 434.0 662.3125)" textLength="27" lengthAdjust="spacingAndGlyphs">SNR</text>
<polyline points="455.3,728.5 456.3,721.9 457.4,728.3 458.4,721.0 459.4,726.6 460.5,734.0 461.5,727.7 462.5,717.7 463.6,724.4 464.6,724.6 465.6,728.5 466.7,730.4 467.7,718.5 468.7,724.1 469.8,712.4 470.5,723.9 471.2,660.9 471.9,723.9 471.8,717.8 472.9,720.6 473.9,723.1 475.0,718.2 476.0,724.6 477.0,722.5 478.1,715.0 479.1,723.3 480.1,721.6 481.2,720.6 482.2,720.1 483.2,722.5 484.3,725.9 485.3,727.1 486.3,730.3 487.4,723.8 488.4,727.3 489.4,722.9 490.5,722.8 491.5,727.6 492.5,726.7 493.6,724.0 494.6,729.0 495.6,721.5 496.7,728.6 497.7,727.5 498.7,726.5 499.8,715.7 500.8,724.1 501.8,729.2 502.9,724.1 503.9,720.7 504.9,725.7 506.0,728.2 507.0,715.6 508.1,730.2 509.1,715.8 510.1,723.2 511.2,731.3 512.2,727.9 513.2,723.0 514.3,723.9 515.3,725.7 516.3,719.4 517.4,714.7 518.4,722.5 519.4,717.0 520.5,713.5 521.5,731.2 522.5,722.4 523.6,722.4 524.6,721.8 525.6,723.0 526.7,728.2 527.7,723.7 528.7,716.4 529.8,722.9 530.8,715.0 531.8,726.0 532.9,720.7 533.9,725.8 534.3,725.9 535.0,708.6 535.7,725.9 536.0,720.8 537.0,721.9 538.0,725.1 539.1,721.6 540.1,729.0 541.1,723.2 542.2,719.9 543.2,725.3 544.3,726.0 545.3,718.7 546.3,725.8 547.4,723.7 548.4,720.9 549.4,719.5 550.5,715.1 551.5,729.6 552.5,726.9 553.6,720.3 554.6,721.9 555.6,722.2 556.7,722.1 557.7,725.2 558.7,720.6 559.8,730.1 560.8,724.7 561.8,718.4 562.9,722.7 563.9,716.2 564.9,727.2 566.0,717.5 567.0,721.7 568.0,720.8 569.1,726.8 570.1,721.3 571.1,723.2 572.2,719.9 573.2,715.6 574.2,724.9 575.3,714.1 576.3,719.1 577.4,727.3 578.4,719.9 579.4,728.2 580.5,725.2 581.5,726.5 582.5,732.1 583.6,723.0 584.6,726.0 585.6,725.8 586.7,715.6 587.7,722.3 588.7,730.6 589.8,723.1 590.8,716.6 591.8,724.5 592.9,719.7 593.9,726.5 594.9,720.6 596.0,728.9 597.0,726.1 598.0,725.3 598.1,720.8 598.8,598.9 599.5,719.4 600.1,722.4 601.1,723.6 602.2,726.4 603.2,719.6 604.2,727.1 605.3,723.3 606.3,722.6 607.3,729.7 608.4,724.8 609.4,721.6 610.4,726.6 611.5,718.7 612.5,723.7 613.6,719.9 614.6,725.7 615.6,724.3 616.7,726.3 617.7,724.5 618.7,728.6 619.8,726.8 620.8,717.8 621.8,725.4 622.9,725.7 623.9,720.6 624.9,721.4 626.0,723.2 627.0,725.1 628.0,726.7 629.1,719.7 630.1,723.1 631.1,720.9 632.2,724.1 633.2,729.6 634.2,717.2 635.3,727.2 636.3,727.4 637.3,728.3 638.4,723.5 639.4,729.4 640.4,723.5 641.5,722.0 642.5,719.2 643.5,716.0 644.6,725.0 645.6,724.7 646.6,720.2 647.7,721.5 648.7,720.9 649.8,722.0 650.8,730.7 651.8,723.1 652.9,720.5 653.9,729.9 654.9,729.6 656.0,725.8 657.0,723.5 658.0,722.1 659.1,724.8 660.1,722.7 661.1,725.7 661.9,721.9 662.6,708.6 663.3,721.9 663.2,721.1 664.2,724.7 665.3,727.0 666.3,723.4 667.3,721.0 668.4,720.4 669.4,722.8 670.4,718.8 671.5,718.2 672.5,721.1 673.5,712.5 674.6,729.0 675.6,724.9 676.6,729.4 677.7,722.1 678.7,719.2 679.7,725.5 680.8,715.8 681.8,720.6 682.9,727.4 683.9,720.7 684.9,725.2 686.0,720.9 687.0,723.8 688.0,720.3 689.1,722.2 690.1,720.7 691.1,720.2 692.2,730.4 693.2,727.0 694.2,719.4 695.3,722.9 696.3,718.5 697.3,729.5 698.4,721.7 699.4,721.5 700.4,715.7 701.5,722.8 702.5,731.8 703.5,717.5 704.6,720.7 705.6,722.6 706.6,727.7 707.7,718.5 708.7,718.5 709.7,720.7 710.8,733.9 711.8,720.3 712.8,720.8 713.9,722.2 714.9,723.9 715.9,722.8 717.0,714.7 718.0,724.3 719.1,722.1 720.1,723.3 721.1,730.7 722.2,723.6 723.2,725.4 724.2,735.4 725.3,723.0 726.3,724.9 727.3,719.9 728.4,716.0 729.4,720.9 730.4,716.7 731.5,730.3 732.5,727.3 733.5,723.6 734.6,727.4 735.6,724.0 736.6,728.6 737.7,726.8 738.7,730.6 739.7,724.4 740.8,726.9 741.8,723.8 742.8,720.1 743.9,721.5 744.9,725.0 745.9,721.1 747.0,720.4 748.0,729.0 749.0,717.1 750.1,722.1 751.1,724.5 752.2,721.8 753.2,724.8 754.2,729.7 755.3,719.7 756.3,730.2 757.3,714.0 758.4,718.7 759.4,722.6 760.4,716.4 761.5,728.1 762.5,723.0 763.5,713.7 764.6,719.5 765.6,721.1 766.6,726.7 767.7,729.0 768.7,728.7 769.7,719.4 770.8,721.3 771.8,729.8 772.8,726.0 773.9,723.9 774.9,726.6 775.9,723.0 777.0,722.7 778.0,732.1 779.0,723.7 780.1,722.4 781.1,715.2 782.1,721.5 783.2,722.7 784.2,727.2 785.2,721.4 786.3,724.6 787.3,727.6 788.4,723.6 789.4,723.0 789.5,722.4 790.2,708.6 790.9,722.4 791.5,723.2 792.5,717.6 793.5,722.2 794.6,720.1 795.6,715.3 796.6,722.6 797.7,718.8 798.7,727.7 799.7,721.7 800.8,721.2 801.8,719.9 802.8,727.4 803.9,726.7 804.9,714.0 805.9,717.2 807.0,720.1 808.0,724.1 809.0,720.3 810.1,716.9 811.1,721.6 812.1,725.4 813.2,718.4 814.2,723.2 815.2,724.4 816.3,725.2 817.3,717.0 818.3,723.4 819.4,722.8 820.4,723.6 821.5,723.7 822.5,721.3 823.5,723.1 824.6,723.9 825.6,726.5 826.6,722.6 827.7,728.2 828.7,719.1 829.7,721.5 830.8,730.9 831.8,715.3 832.8,726.7 833.9,723.6 834.9,717.0 835.9,730.7 837.0,716.2 838.0,720.8" fill="none" stroke="#FFC000" stroke-width="1.45" stroke-linejoin="round"/>
<polyline points="455.3,728.7 456.3,723.6 457.4,730.6 458.4,722.1 459.4,728.1 460.5,732.0 461.5,727.2 462.5,719.8 463.6,722.6 464.6,724.3 465.6,729.5 466.7,727.3 467.7,720.5 468.7,724.8 469.8,712.7 470.5,722.4 471.2,664.8 471.9,722.4 471.8,720.8 472.9,720.0 473.9,721.6 475.0,719.1 476.0,722.5 477.0,721.8 478.1,715.8 479.1,725.8 480.1,721.1 481.2,720.0 482.2,720.2 483.2,721.4 484.3,727.1 485.3,726.0 486.3,729.7 487.4,723.0 488.4,726.2 489.4,723.9 490.5,723.1 491.5,727.3 492.5,722.3 493.6,724.9 494.6,727.7 495.6,721.7 496.7,729.4 497.7,726.2 498.7,725.9 499.8,720.7 500.8,723.9 501.8,725.9 502.9,723.1 503.9,718.4 504.9,726.3 506.0,729.6 507.0,717.9 508.1,727.3 509.1,719.1 510.1,725.8 511.2,730.0 512.2,729.2 513.2,722.2 514.3,721.3 515.3,725.8 516.3,715.8 517.4,714.5 518.4,725.2 519.4,718.3 520.5,715.2 521.5,727.3 522.5,723.5 523.6,722.5 524.6,725.5 525.6,722.1 526.7,724.6 527.7,727.5 528.7,718.5 529.8,723.2 530.8,716.5 531.8,726.6 532.9,719.9 533.9,723.4 534.3,725.0 535.0,698.9 535.7,725.0 536.0,720.7 537.0,721.5 538.0,724.2 539.1,724.3 540.1,727.1 541.1,722.8 542.2,719.8 543.2,723.7 544.3,722.0 545.3,719.5 546.3,724.2 547.4,725.0 548.4,721.1 549.4,720.5 550.5,713.2 551.5,732.2 552.5,723.1 553.6,720.5 554.6,724.4 555.6,724.3 556.7,722.8 557.7,725.7 558.7,717.3 559.8,727.2 560.8,721.3 561.8,720.9 562.9,719.9 563.9,718.6 564.9,725.7 566.0,716.7 567.0,720.8 568.0,721.1 569.1,724.6 570.1,719.8 571.1,724.1 572.2,718.8 573.2,719.6 574.2,724.9 575.3,720.3 576.3,721.4 577.4,724.8 578.4,726.6 579.4,727.1 580.5,722.5 581.5,726.3 582.5,729.2 583.6,721.5 584.6,721.8 585.6,721.8 586.7,718.9 587.7,723.7 588.7,728.0 589.8,720.5 590.8,721.2 591.8,723.4 592.9,720.1 593.9,726.3 594.9,723.6 596.0,730.3 597.0,723.0 598.0,723.6 598.1,720.8 598.8,592.6 599.5,719.4 600.1,722.9 601.1,724.2 602.2,724.9 603.2,721.5 604.2,726.5 605.3,721.9 606.3,722.6 607.3,729.4 608.4,725.8 609.4,722.0 610.4,725.2 611.5,715.1 612.5,724.6 613.6,717.4 614.6,724.0 615.6,722.4 616.7,726.6 617.7,724.6 618.7,728.1 619.8,722.5 620.8,720.1 621.8,724.3 622.9,726.3 623.9,719.1 624.9,719.1 626.0,723.5 627.0,725.6 628.0,723.3 629.1,720.8 630.1,725.0 631.1,721.8 632.2,724.7 633.2,729.5 634.2,720.1 635.3,727.0 636.3,728.6 637.3,729.3 638.4,728.1 639.4,730.9 640.4,725.4 641.5,724.0 642.5,723.5 643.5,720.0 644.6,726.8 645.6,721.7 646.6,722.0 647.7,718.7 648.7,722.1 649.8,721.5 650.8,730.4 651.8,719.7 652.9,720.7 653.9,729.5 654.9,728.2 656.0,723.8 657.0,723.5 658.0,720.6 659.1,725.5 660.1,716.9 661.1,726.9 661.9,725.2 662.6,702.8 663.3,725.2 663.2,723.8 664.2,725.0 665.3,725.4 666.3,721.5 667.3,722.4 668.4,719.8 669.4,722.5 670.4,721.0 671.5,718.8 672.5,719.5 673.5,716.4 674.6,725.8 675.6,724.6 676.6,726.1 677.7,725.4 678.7,720.2 679.7,728.5 680.8,719.1 681.8,722.4 682.9,724.7 683.9,720.0 684.9,723.8 686.0,718.7 687.0,723.0 688.0,725.4 689.1,719.5 690.1,720.5 691.1,718.4 692.2,730.3 693.2,729.0 694.2,722.0 695.3,721.8 696.3,722.3 697.3,732.0 698.4,723.9 699.4,720.0 700.4,719.2 701.5,722.8 702.5,728.7 703.5,721.2 704.6,720.7 705.6,724.8 706.6,722.3 707.7,719.2 708.7,721.5 709.7,722.2 710.8,733.8 711.8,719.4 712.8,721.4 713.9,725.6 714.9,717.8 715.9,723.9 717.0,716.7 718.0,724.0 719.1,724.8 720.1,724.1 721.1,728.8 722.2,724.7 723.2,723.1 724.2,731.4 725.3,723.1 726.3,725.3 727.3,722.4 728.4,720.0 729.4,721.9 730.4,716.7 731.5,728.1 732.5,725.7 733.5,725.4 734.6,726.5 735.6,724.5 736.6,726.9 737.7,729.9 738.7,725.5 739.7,726.0 740.8,726.9 741.8,724.0 742.8,721.9 743.9,721.8 744.9,723.3 745.9,723.2 747.0,721.7 748.0,723.9 749.0,721.9 750.1,721.8 751.1,725.9 752.2,721.6 753.2,723.0 754.2,733.4 755.3,717.4 756.3,731.0 757.3,716.1 758.4,717.2 759.4,724.7 760.4,717.1 761.5,729.5 762.5,726.2 763.5,714.4 764.6,720.8 765.6,726.0 766.6,725.2 767.7,729.9 768.7,726.1 769.7,720.7 770.8,722.3 771.8,730.5 772.8,724.6 773.9,722.0 774.9,724.6 775.9,720.5 777.0,721.3 778.0,729.4 779.0,722.4 780.1,725.1 781.1,713.2 782.1,719.2 783.2,719.2 784.2,724.4 785.2,724.7 786.3,722.8 787.3,727.9 788.4,724.2 789.4,723.0 789.5,723.7 790.2,701.3 790.9,723.7 791.5,725.4 792.5,719.5 793.5,723.1 794.6,721.9 795.6,715.9 796.6,719.9 797.7,719.5 798.7,726.3 799.7,723.4 800.8,722.2 801.8,720.9 802.8,730.6 803.9,729.5 804.9,713.2 805.9,717.7 807.0,723.7 808.0,726.5 809.0,721.0 810.1,720.1 811.1,719.9 812.1,724.5 813.2,722.4 814.2,723.8 815.2,728.6 816.3,729.2 817.3,719.0 818.3,725.0 819.4,724.5 820.4,721.8 821.5,723.1 822.5,720.4 823.5,722.7 824.6,727.4 825.6,723.2 826.6,723.0 827.7,728.4 828.7,716.2 829.7,724.1 830.8,730.2 831.8,715.5 832.8,726.3 833.9,721.1 834.9,716.1 835.9,726.9 837.0,718.6 838.0,720.4" fill="none" stroke="#0F74C8" stroke-width="1.45" stroke-dasharray="4.2 2.6" stroke-linejoin="round"/>
<text x="645.75" y="806" font-size="15.3" fill="#000" font-weight="bold" text-anchor="middle" textLength="28" lengthAdjust="spacingAndGlyphs">SAD</text>
<path d="M451.3,815 H454.3 V984.1666666666666 H837.2" fill="none" stroke="#666" stroke-width="1"/>
<path d="M451.3,960.0 H454.3 M451.3,911.7 H454.3 M451.3,863.3 H454.3 M454.3,984.1666666666666 V986.3666666666667 M502.2,984.1666666666666 V986.3666666666667 M550.0,984.1666666666666 V986.3666666666667 M597.9,984.1666666666666 V986.3666666666667 M645.8,984.1666666666666 V986.3666666666667 M693.6,984.1666666666666 V986.3666666666667 M741.5,984.1666666666666 V986.3666666666667 M789.3,984.1666666666666 V986.3666666666667 M837.2,984.1666666666666 V986.3666666666667 " fill="none" stroke="#666" stroke-width="1"/>
<text x="447.5" y="964.0" font-size="14.3" fill="#404040" font-weight="normal" text-anchor="end" textLength="6.6" lengthAdjust="spacingAndGlyphs">1</text>
<text x="447.5" y="915.6666666666666" font-size="14.3" fill="#404040" font-weight="normal" text-anchor="end" textLength="6.6" lengthAdjust="spacingAndGlyphs">2</text>
<text x="447.5" y="867.3333333333334" font-size="14.3" fill="#404040" font-weight="normal" text-anchor="end" textLength="6.6" lengthAdjust="spacingAndGlyphs">3</text>
<text x="447.5" y="819.0" font-size="14.3" fill="#404040" font-weight="normal" text-anchor="end" textLength="6.6" lengthAdjust="spacingAndGlyphs">4</text>
<text x="454.1" y="1003.4666666666666" font-size="14.3" fill="#404040" font-weight="normal" text-anchor="middle" textLength="6.6" lengthAdjust="spacingAndGlyphs">1</text>
<text x="501.96250000000003" y="1003.4666666666666" font-size="14.3" fill="#404040" font-weight="normal" text-anchor="middle" textLength="6.6" lengthAdjust="spacingAndGlyphs">2</text>
<text x="549.8249999999999" y="1003.4666666666666" font-size="14.3" fill="#404040" font-weight="normal" text-anchor="middle" textLength="6.6" lengthAdjust="spacingAndGlyphs">3</text>
<text x="597.6875" y="1003.4666666666666" font-size="14.3" fill="#404040" font-weight="normal" text-anchor="middle" textLength="6.6" lengthAdjust="spacingAndGlyphs">4</text>
<text x="645.55" y="1003.4666666666666" font-size="14.3" fill="#404040" font-weight="normal" text-anchor="middle" textLength="6.6" lengthAdjust="spacingAndGlyphs">5</text>
<text x="693.4125" y="1003.4666666666666" font-size="14.3" fill="#404040" font-weight="normal" text-anchor="middle" textLength="6.6" lengthAdjust="spacingAndGlyphs">6</text>
<text x="741.275" y="1003.4666666666666" font-size="14.3" fill="#404040" font-weight="normal" text-anchor="middle" textLength="6.6" lengthAdjust="spacingAndGlyphs">7</text>
<text x="789.1375" y="1003.4666666666666" font-size="14.3" fill="#404040" font-weight="normal" text-anchor="middle" textLength="6.6" lengthAdjust="spacingAndGlyphs">8</text>
<text x="837.0" y="1003.4666666666666" font-size="14.3" fill="#404040" font-weight="normal" text-anchor="middle" textLength="6.6" lengthAdjust="spacingAndGlyphs">9</text>
<text x="433.0" y="899.5833333333333" font-size="14.5" fill="#333" font-weight="normal" text-anchor="middle" transform="rotate(-90 433.0 899.5833333333333)" textLength="27" lengthAdjust="spacingAndGlyphs">SNR</text>
<polyline points="454.3,964.3 455.3,958.3 456.4,959.8 457.4,959.6 458.4,957.3 459.5,953.7 460.5,963.0 461.5,961.3 462.6,952.9 463.6,961.5 464.6,958.3 465.7,958.1 466.7,967.7 467.8,956.0 468.8,969.1 469.5,958.8 470.2,911.7 470.9,958.8 470.9,960.0 471.9,963.5 472.9,961.1 474.0,961.5 475.0,962.1 476.0,957.2 477.1,964.3 478.1,959.5 479.1,958.3 480.2,964.3 481.2,959.3 482.2,958.4 483.3,953.2 484.3,963.1 485.3,956.1 486.4,959.4 487.4,964.2 488.5,961.1 489.5,961.2 490.5,961.5 491.6,957.5 492.6,957.1 493.6,961.6 494.7,960.1 495.7,960.9 496.7,961.9 497.8,955.8 498.8,961.9 499.8,960.1 500.9,968.2 501.9,964.2 502.9,963.3 504.0,961.3 505.0,969.4 506.0,957.2 507.1,954.4 508.1,956.0 509.1,965.3 510.2,952.4 511.2,959.6 512.3,967.5 513.3,959.7 514.3,961.5 515.4,960.6 516.4,953.7 517.4,960.0 518.5,964.1 519.5,961.5 520.5,969.0 521.6,952.0 522.6,954.2 523.6,958.7 524.7,953.4 525.7,961.7 526.7,958.8 527.8,960.0 528.8,961.9 529.8,959.5 530.9,959.7 531.9,957.0 532.9,965.9 533.4,960.8 534.1,928.6 534.8,960.8 535.0,954.9 536.1,962.7 537.1,962.4 538.1,962.5 539.2,959.7 540.2,959.4 541.2,958.4 542.3,967.5 543.3,957.9 544.3,968.8 545.4,954.2 546.4,960.0 547.4,958.1 548.5,966.1 549.5,961.4 550.5,958.1 551.6,956.4 552.6,958.5 553.6,956.5 554.7,963.3 555.7,958.9 556.8,957.3 557.8,965.8 558.8,959.5 559.9,959.3 560.9,956.8 561.9,955.9 563.0,952.6 564.0,960.8 565.0,963.9 566.1,962.9 567.1,957.3 568.1,960.4 569.2,962.9 570.2,964.0 570.9,963.3 571.6,945.5 572.3,963.3 572.3,957.7 573.3,958.6 574.3,958.5 575.4,961.8 576.4,960.5 577.4,963.8 578.5,958.7 579.5,953.0 580.6,967.3 581.6,969.9 582.6,961.5 583.7,956.2 584.7,959.4 585.7,953.4 586.8,961.3 587.8,958.0 588.8,963.7 589.9,965.8 590.9,967.2 591.9,965.2 593.0,949.5 594.0,962.0 595.0,969.1 596.1,959.2 597.1,960.5 597.2,958.1 597.9,870.6 598.6,958.1 599.2,955.8 600.2,960.3 601.3,959.8 602.3,961.4 603.3,956.9 604.4,958.1 605.4,963.8 606.4,960.6 607.5,962.7 608.5,965.3 609.5,959.3 610.6,959.5 611.6,965.7 612.6,962.3 613.7,961.3 614.7,956.2 615.7,969.1 616.8,963.0 617.8,954.1 618.8,961.5 619.9,958.3 620.9,954.8 621.9,959.5 623.0,956.5 624.0,956.7 625.1,955.4 626.1,954.5 627.1,962.9 628.2,964.0 629.2,963.9 630.2,958.9 631.3,952.3 632.3,960.5 633.3,964.7 634.4,966.1 635.4,966.0 636.4,957.6 637.5,965.9 638.5,966.3 639.5,960.0 640.6,964.5 641.6,960.1 642.6,962.8 643.7,949.9 644.7,960.4 645.8,958.1 646.8,963.9 647.8,957.0 648.9,965.8 649.9,955.6 650.9,965.2 652.0,961.1 653.0,961.1 654.0,959.6 655.1,961.9 656.1,961.1 657.1,962.7 658.2,957.9 659.2,963.8 660.2,953.2 661.3,958.0 662.3,953.1 663.3,961.8 664.4,957.7 665.4,954.4 666.4,958.0 667.5,960.0 668.5,960.8 669.6,955.5 670.6,953.3 671.6,959.4 672.7,958.0 673.7,965.3 674.7,950.3 675.8,958.9 676.8,955.5 677.8,958.4 678.9,956.0 679.9,956.5 680.9,965.4 682.0,967.3 683.0,961.6 684.0,956.8 685.1,961.4 686.1,960.1 687.1,954.9 688.2,963.0 689.2,965.0 690.2,956.7 691.3,965.3 692.3,957.0 693.4,961.4 694.4,958.0 695.4,960.4 696.5,959.6 697.5,958.8 698.5,958.7 699.6,965.3 700.6,955.5 701.6,963.3 702.7,960.4 703.7,956.3 704.7,961.1 705.8,954.1 706.8,960.6 707.8,952.6 708.9,958.8 709.9,958.0 710.9,958.1 712.0,960.7 713.0,953.6 714.1,956.8 715.1,962.2 716.1,959.2 717.2,957.2 718.2,957.7 719.2,960.2 719.2,961.8 719.9,944.5 720.6,961.8 721.3,961.7 722.3,959.5 723.4,956.6 724.4,967.6 725.4,960.4 726.5,963.8 727.5,955.4 728.5,966.3 729.6,958.3 730.6,958.6 731.6,956.8 732.7,968.4 733.7,963.9 734.7,959.5 735.8,961.3 736.8,955.5 737.9,962.0 738.9,959.4 739.9,956.9 741.0,959.9 742.0,948.0 743.0,965.8 744.1,955.8 745.1,957.1 746.1,959.7 747.2,955.9 748.2,958.7 749.2,961.5 750.3,958.6 751.3,954.7 752.3,961.8 753.4,960.6 754.4,957.9 755.4,966.5 756.5,965.5 757.5,961.8 758.6,957.1 759.6,966.8 760.6,959.1 761.7,967.7 762.7,955.5 763.7,956.2 764.8,958.0 765.8,960.6 766.8,955.8 767.9,954.4 768.9,960.2 769.9,965.8 771.0,957.6 772.0,962.0 773.0,965.8 774.1,963.1 775.1,950.9 776.1,957.1 777.2,966.0 778.2,961.7 779.2,961.0 780.3,965.3 781.3,960.4 782.4,959.8 783.4,956.8 784.4,960.7 785.5,967.9 786.5,960.1 787.5,963.3 788.6,955.4 789.6,952.0 790.6,966.9 791.7,963.8 792.7,959.4 793.7,963.4 794.8,964.2 795.8,961.9 796.8,964.9 797.9,953.3 798.9,956.3 799.9,962.2 801.0,958.9 802.0,964.9 803.0,961.8 804.1,966.1 805.1,957.3 806.2,961.8 807.2,968.4 808.2,962.0 809.3,960.2 810.3,964.5 811.3,964.8 812.4,963.1 813.4,960.9 814.4,962.2 815.5,959.0 816.5,961.9 817.5,960.3 818.6,957.5 819.6,958.9 820.6,961.3 821.7,960.5 822.7,956.0 823.7,955.4 824.8,956.8 825.8,961.1 826.9,958.2 827.9,954.5 828.9,955.4 830.0,961.0 831.0,954.5 832.0,959.9 833.1,963.7 834.1,965.0 835.1,960.3 836.2,957.0 837.2,946.6" fill="none" stroke="#FFC000" stroke-width="1.45" stroke-linejoin="round"/>
<polyline points="454.3,962.1 455.3,959.6 456.4,959.4 457.4,959.5 458.4,955.9 459.5,955.2 460.5,961.1 461.5,962.7 462.6,952.7 463.6,961.8 464.6,958.3 465.7,958.7 466.7,969.7 467.8,956.4 468.8,966.6 469.5,957.7 470.2,909.2 470.9,957.7 470.9,959.4 471.9,966.0 472.9,960.6 474.0,964.3 475.0,963.1 476.0,960.1 477.1,964.8 478.1,957.5 479.1,961.5 480.2,960.5 481.2,960.0 482.2,957.6 483.3,954.2 484.3,964.4 485.3,957.0 486.4,958.6 487.4,960.3 488.5,961.3 489.5,960.7 490.5,961.9 491.6,955.5 492.6,960.0 493.6,958.6 494.7,959.8 495.7,957.8 496.7,962.4 497.8,959.7 498.8,956.7 499.8,959.4 500.9,966.9 501.9,964.8 502.9,962.6 504.0,959.2 505.0,968.9 506.0,957.1 507.1,956.5 508.1,955.9 509.1,967.7 510.2,951.8 511.2,961.2 512.3,966.8 513.3,956.8 514.3,961.5 515.4,958.5 516.4,951.4 517.4,958.6 518.5,964.7 519.5,959.7 520.5,967.1 521.6,951.6 522.6,956.5 523.6,960.7 524.7,955.5 525.7,963.3 526.7,956.2 527.8,960.2 528.8,959.3 529.8,958.6 530.9,959.5 531.9,956.3 532.9,964.7 533.4,959.7 534.1,933.4 534.8,959.7 535.0,957.2 536.1,964.8 537.1,959.6 538.1,959.4 539.2,960.1 540.2,960.5 541.2,958.6 542.3,967.5 543.3,958.8 544.3,965.1 545.4,957.7 546.4,958.4 547.4,957.3 548.5,962.9 549.5,962.1 550.5,956.5 551.6,958.5 552.6,961.6 553.6,958.8 554.7,961.1 555.7,960.6 556.8,954.4 557.8,964.3 558.8,959.1 559.9,957.4 560.9,957.1 561.9,957.4 563.0,954.0 564.0,959.5 565.0,965.3 566.1,959.6 567.1,959.1 568.1,960.3 569.2,963.2 570.2,965.9 570.9,960.2 571.6,950.3 572.3,960.2 572.3,958.5 573.3,961.0 574.3,959.1 575.4,960.7 576.4,956.3 577.4,963.4 578.5,959.1 579.5,954.0 580.6,967.1 581.6,967.8 582.6,960.0 583.7,958.6 584.7,959.5 585.7,954.4 586.8,961.8 587.8,961.6 588.8,964.8 589.9,963.4 590.9,962.9 591.9,965.7 593.0,954.1 594.0,961.8 595.0,968.0 596.1,957.9 597.1,959.0 597.2,960.7 597.9,866.7 598.6,960.7 599.2,955.4 600.2,960.7 601.3,959.5 602.3,962.9 603.3,957.4 604.4,956.1 605.4,962.2 606.4,960.0 607.5,959.7 608.5,964.9 609.5,959.0 610.6,962.6 611.6,968.7 612.6,958.9 613.7,958.5 614.7,958.2 615.7,971.1 616.8,962.3 617.8,956.1 618.8,959.8 619.9,958.5 620.9,956.2 621.9,961.0 623.0,959.8 624.0,958.9 625.1,957.5 626.1,952.2 627.1,958.2 628.2,963.8 629.2,963.4 630.2,958.8 631.3,951.8 632.3,960.1 633.3,962.2 634.4,968.0 635.4,960.9 636.4,958.0 637.5,964.6 638.5,963.3 639.5,960.0 640.6,961.9 641.6,958.9 642.6,963.9 643.7,952.3 644.7,959.8 645.8,956.6 646.8,962.2 647.8,956.8 648.9,962.9 649.9,954.7 650.9,961.8 652.0,962.0 653.0,962.7 654.0,960.0 655.1,959.4 656.1,959.0 657.1,962.8 658.2,959.5 659.2,967.6 660.2,952.2 661.3,956.5 662.3,951.5 663.3,959.3 664.4,958.4 665.4,954.1 666.4,958.1 667.5,959.7 668.5,960.1 669.6,957.4 670.6,954.0 671.6,955.5 672.7,958.2 673.7,961.6 674.7,954.3 675.8,957.3 676.8,959.2 677.8,959.0 678.9,956.3 679.9,959.7 680.9,962.8 682.0,964.6 683.0,958.1 684.0,955.4 685.1,959.5 686.1,959.6 687.1,954.3 688.2,964.9 689.2,962.9 690.2,962.8 691.3,962.2 692.3,961.1 693.4,962.4 694.4,960.7 695.4,963.5 696.5,958.9 697.5,961.9 698.5,958.9 699.6,962.9 700.6,954.3 701.6,960.3 702.7,958.9 703.7,954.6 704.7,961.4 705.8,952.9 706.8,956.1 707.8,954.6 708.9,958.3 709.9,960.2 710.9,958.3 712.0,959.1 713.0,954.2 714.1,956.9 715.1,964.8 716.1,960.8 717.2,955.4 718.2,961.1 719.2,962.2 719.2,965.6 719.9,950.3 720.6,965.6 721.3,962.1 722.3,960.1 723.4,957.1 724.4,962.4 725.4,962.4 726.5,963.9 727.5,957.9 728.5,961.6 729.6,960.5 730.6,959.1 731.6,958.9 732.7,966.4 733.7,962.1 734.7,956.7 735.8,963.8 736.8,953.1 737.9,961.6 738.9,958.6 739.9,955.7 741.0,962.9 742.0,951.4 743.0,967.3 744.1,957.9 745.1,959.8 746.1,963.3 747.2,958.0 748.2,958.6 749.2,963.7 750.3,959.8 751.3,961.3 752.3,961.3 753.4,961.2 754.4,961.7 755.4,962.3 756.5,961.9 757.5,958.5 758.6,956.6 759.6,963.0 760.6,960.1 761.7,965.2 762.7,956.6 763.7,954.1 764.8,956.0 765.8,959.8 766.8,956.4 767.9,954.7 768.9,963.3 769.9,964.6 771.0,959.3 772.0,962.3 773.0,970.7 774.1,959.9 775.1,946.3 776.1,957.1 777.2,963.1 778.2,961.5 779.2,961.4 780.3,960.0 781.3,960.4 782.4,958.3 783.4,954.6 784.4,957.7 785.5,967.6 786.5,960.0 787.5,964.6 788.6,955.9 789.6,948.4 790.6,966.8 791.7,965.0 792.7,959.9 793.7,960.4 794.8,959.7 795.8,958.6 796.8,964.4 797.9,958.4 798.9,957.3 799.9,962.0 801.0,961.7 802.0,963.7 803.0,960.5 804.1,964.0 805.1,957.1 806.2,958.2 807.2,966.5 808.2,960.9 809.3,959.7 810.3,963.6 811.3,962.2 812.4,963.4 813.4,961.8 814.4,963.4 815.5,962.9 816.5,961.4 817.5,960.4 818.6,957.4 819.6,960.9 820.6,963.2 821.7,960.5 822.7,957.6 823.7,955.1 824.8,959.0 825.8,961.6 826.9,957.1 827.9,954.9 828.9,956.3 830.0,961.8 831.0,955.6 832.0,963.0 833.1,963.7 834.1,965.9 835.1,960.1 836.2,958.2 837.2,952.3" fill="none" stroke="#0F74C8" stroke-width="1.45" stroke-dasharray="4.2 2.6" stroke-linejoin="round"/>
<text x="643.9" y="1041.3" font-size="15.3" fill="#000" font-weight="bold" text-anchor="middle" textLength="85" lengthAdjust="spacingAndGlyphs">SCRAMBLED</text>
<path d="M448.8,1050.3 H451.8 V1221.1583333333333 H836" fill="none" stroke="#666" stroke-width="1"/>
<path d="M448.8,1196.8 H451.8 M448.8,1147.9 H451.8 M448.8,1099.1 H451.8 M451.8,1221.1583333333333 V1223.3583333333333 M499.8,1221.1583333333333 V1223.3583333333333 M547.9,1221.1583333333333 V1223.3583333333333 M595.9,1221.1583333333333 V1223.3583333333333 M643.9,1221.1583333333333 V1223.3583333333333 M691.9,1221.1583333333333 V1223.3583333333333 M740.0,1221.1583333333333 V1223.3583333333333 M788.0,1221.1583333333333 V1223.3583333333333 M836.0,1221.1583333333333 V1223.3583333333333 " fill="none" stroke="#666" stroke-width="1"/>
<text x="445.0" y="1200.75" font-size="14.3" fill="#404040" font-weight="normal" text-anchor="end" textLength="6.6" lengthAdjust="spacingAndGlyphs">1</text>
<text x="445.0" y="1151.9333333333334" font-size="14.3" fill="#404040" font-weight="normal" text-anchor="end" textLength="6.6" lengthAdjust="spacingAndGlyphs">2</text>
<text x="445.0" y="1103.1166666666666" font-size="14.3" fill="#404040" font-weight="normal" text-anchor="end" textLength="6.6" lengthAdjust="spacingAndGlyphs">3</text>
<text x="445.0" y="1054.3" font-size="14.3" fill="#404040" font-weight="normal" text-anchor="end" textLength="6.6" lengthAdjust="spacingAndGlyphs">4</text>
<text x="451.6" y="1240.4583333333333" font-size="14.3" fill="#404040" font-weight="normal" text-anchor="middle" textLength="6.6" lengthAdjust="spacingAndGlyphs">1</text>
<text x="499.625" y="1240.4583333333333" font-size="14.3" fill="#404040" font-weight="normal" text-anchor="middle" textLength="6.6" lengthAdjust="spacingAndGlyphs">2</text>
<text x="547.65" y="1240.4583333333333" font-size="14.3" fill="#404040" font-weight="normal" text-anchor="middle" textLength="6.6" lengthAdjust="spacingAndGlyphs">3</text>
<text x="595.675" y="1240.4583333333333" font-size="14.3" fill="#404040" font-weight="normal" text-anchor="middle" textLength="6.6" lengthAdjust="spacingAndGlyphs">4</text>
<text x="643.6999999999999" y="1240.4583333333333" font-size="14.3" fill="#404040" font-weight="normal" text-anchor="middle" textLength="6.6" lengthAdjust="spacingAndGlyphs">5</text>
<text x="691.7249999999999" y="1240.4583333333333" font-size="14.3" fill="#404040" font-weight="normal" text-anchor="middle" textLength="6.6" lengthAdjust="spacingAndGlyphs">6</text>
<text x="739.75" y="1240.4583333333333" font-size="14.3" fill="#404040" font-weight="normal" text-anchor="middle" textLength="6.6" lengthAdjust="spacingAndGlyphs">7</text>
<text x="787.775" y="1240.4583333333333" font-size="14.3" fill="#404040" font-weight="normal" text-anchor="middle" textLength="6.6" lengthAdjust="spacingAndGlyphs">8</text>
<text x="835.8" y="1240.4583333333333" font-size="14.3" fill="#404040" font-weight="normal" text-anchor="middle" textLength="6.6" lengthAdjust="spacingAndGlyphs">9</text>
<text x="430.5" y="1135.7291666666665" font-size="14.5" fill="#333" font-weight="normal" text-anchor="middle" transform="rotate(-90 430.5 1135.7291666666665)" textLength="27" lengthAdjust="spacingAndGlyphs">SNR</text>
<polyline points="451.8,1188.2 452.8,1192.7 453.9,1193.0 454.9,1198.0 456.0,1198.6 457.0,1199.5 458.0,1200.0 459.1,1197.6 460.1,1202.5 461.1,1197.6 462.2,1196.0 463.2,1203.9 464.3,1193.9 465.3,1203.6 466.3,1194.4 467.4,1199.7 468.4,1195.8 469.5,1193.5 470.5,1198.6 471.5,1204.6 472.6,1195.8 473.6,1200.0 474.6,1192.4 475.7,1200.8 476.7,1198.3 477.8,1193.1 478.8,1197.0 479.8,1197.9 480.9,1197.0 481.9,1200.7 483.0,1201.5 484.0,1198.8 485.0,1195.9 486.1,1199.3 487.1,1198.7 488.1,1194.7 489.2,1199.4 490.2,1198.2 491.3,1197.5 492.3,1197.4 493.3,1199.1 494.4,1192.7 495.4,1198.5 496.5,1193.8 497.5,1202.8 498.5,1198.2 499.6,1197.1 500.6,1191.5 501.6,1199.4 502.7,1202.7 503.7,1198.6 504.8,1194.0 505.8,1195.4 506.8,1197.5 507.9,1195.1 508.9,1194.1 509.9,1200.3 511.0,1197.4 512.0,1200.5 513.1,1194.3 514.1,1190.3 515.1,1197.6 516.2,1196.6 517.2,1201.1 518.3,1197.7 519.3,1202.1 520.3,1191.5 521.4,1202.7 522.4,1197.7 523.4,1193.4 524.5,1197.0 525.5,1204.5 526.6,1197.5 527.6,1193.2 528.6,1199.3 529.7,1209.5 530.7,1199.8 531.2,1194.3 531.9,1177.2 532.6,1192.8 532.8,1186.2 533.8,1202.3 534.9,1197.3 535.9,1194.0 536.9,1188.5 538.0,1188.3 539.0,1189.0 540.1,1196.2 541.1,1191.3 542.1,1191.9 543.2,1195.3 544.2,1198.9 545.3,1195.6 546.3,1203.8 547.3,1194.8 548.4,1199.3 549.4,1198.6 550.4,1189.1 551.5,1201.5 552.5,1195.3 553.6,1200.2 554.6,1203.8 555.6,1190.2 556.7,1202.4 557.7,1195.1 558.8,1189.7 559.8,1193.1 560.8,1199.9 561.9,1190.3 562.9,1190.7 563.9,1194.9 565.0,1197.1 566.0,1198.9 567.1,1209.8 568.1,1198.1 569.1,1194.7 570.2,1192.1 571.2,1195.8 572.3,1197.5 573.3,1199.7 574.3,1196.9 575.4,1195.9 576.4,1195.3 577.4,1193.1 578.5,1196.0 579.5,1196.9 580.6,1193.6 581.6,1193.2 582.6,1187.2 583.7,1198.2 584.7,1200.7 585.8,1198.3 586.8,1194.7 587.8,1197.4 588.9,1192.3 589.9,1194.4 590.9,1197.3 592.0,1199.5 593.0,1199.6 594.1,1189.7 595.1,1194.7 595.2,1196.3 595.9,1055.2 596.6,1196.3 597.2,1196.8 598.2,1202.7 599.2,1196.8 600.3,1201.1 601.3,1198.2 602.4,1191.2 603.4,1198.4 604.4,1196.1 605.5,1199.8 606.5,1191.6 607.6,1196.2 608.6,1199.4 609.6,1194.2 610.7,1198.4 611.7,1190.9 612.7,1204.0 613.8,1199.5 614.8,1194.5 615.9,1196.8 616.9,1201.0 617.9,1189.0 619.0,1201.3 620.0,1201.9 621.1,1194.8 622.1,1191.9 623.1,1193.7 624.2,1195.0 625.2,1191.8 626.2,1202.0 627.3,1200.7 628.3,1197.1 629.4,1196.4 630.4,1192.3 631.4,1196.7 632.5,1191.5 633.5,1191.5 634.6,1197.2 635.6,1200.5 636.6,1194.9 637.7,1198.5 638.7,1196.1 639.7,1194.2 640.8,1191.5 641.8,1197.6 642.9,1200.7 643.9,1200.5 644.9,1193.4 646.0,1202.9 647.0,1196.7 648.1,1194.5 649.1,1199.2 650.1,1188.8 651.2,1194.3 652.2,1194.9 653.2,1193.4 654.3,1198.7 655.3,1191.3 656.4,1196.4 657.4,1201.5 658.4,1195.5 659.5,1193.8 660.5,1201.3 661.6,1198.7 662.6,1195.9 663.6,1193.6 664.7,1191.6 665.7,1194.4 666.7,1189.2 667.8,1196.1 668.8,1186.4 669.9,1190.9 670.9,1197.5 671.9,1195.8 673.0,1203.3 674.0,1198.5 675.1,1197.1 676.1,1194.3 677.1,1194.6 678.2,1196.1 679.2,1196.5 680.2,1189.8 681.3,1199.5 682.3,1198.7 683.4,1196.1 684.4,1196.9 685.4,1201.3 686.5,1192.6 687.5,1192.7 688.6,1191.0 689.6,1195.6 690.6,1193.4 691.7,1198.8 692.7,1196.8 693.7,1191.0 694.8,1194.4 695.8,1203.2 696.9,1195.6 697.9,1194.7 698.9,1197.4 700.0,1191.5 701.0,1196.6 702.0,1204.3 703.1,1194.5 704.1,1192.9 705.2,1203.4 706.2,1195.5 707.2,1197.3 708.3,1196.1 709.3,1193.6 710.4,1190.7 711.4,1197.8 712.4,1196.2 713.5,1197.8 714.5,1193.3 715.5,1187.8 716.6,1202.3 717.6,1202.9 718.7,1201.7 719.7,1198.0 720.7,1197.3 721.8,1191.6 722.8,1195.6 723.9,1197.3 724.9,1193.9 725.9,1190.9 727.0,1186.2 728.0,1200.9 729.0,1195.4 730.1,1195.6 731.1,1197.7 732.2,1199.5 733.2,1197.9 734.2,1194.1 735.3,1197.2 736.3,1197.2 737.4,1195.1 738.4,1196.3 739.4,1198.2 740.5,1200.0 741.5,1199.1 742.5,1194.3 743.6,1194.0 744.6,1196.1 745.7,1190.2 746.7,1191.3 747.7,1198.0 748.8,1196.0 749.8,1194.2 750.9,1197.3 751.9,1204.5 752.9,1202.6 754.0,1194.3 755.0,1197.4 756.0,1195.7 757.1,1199.6 758.1,1192.0 759.2,1203.4 760.2,1195.8 761.2,1198.8 762.3,1202.4 763.3,1195.6 764.4,1194.3 765.4,1193.8 766.4,1195.3 767.5,1199.7 768.5,1195.1 769.5,1195.6 770.6,1198.1 771.6,1199.3 772.7,1195.2 773.7,1196.4 774.7,1192.9 775.8,1192.7 776.8,1200.6 777.9,1203.7 778.9,1196.1 779.9,1195.0 781.0,1195.7 782.0,1194.3 783.0,1186.0 784.1,1191.6 785.1,1193.1 786.2,1198.8 787.2,1199.5 787.3,1201.3 788.0,1165.0 788.7,1201.3 789.3,1198.6 790.3,1193.0 791.3,1204.5 792.4,1192.1 793.4,1196.1 794.5,1190.6 795.5,1198.8 796.5,1201.9 797.6,1191.1 798.6,1187.5 799.7,1193.6 800.7,1196.5 801.7,1195.3 802.8,1200.7 803.8,1197.5 804.8,1197.8 805.9,1202.7 806.9,1198.5 808.0,1193.3 809.0,1199.9 810.0,1194.9 811.1,1192.1 812.1,1195.7 813.2,1201.6 814.2,1200.8 815.2,1199.7 816.3,1193.0 817.3,1192.8 818.3,1201.1 819.4,1198.2 820.4,1196.3 821.5,1192.4 822.5,1204.6 823.5,1196.1 824.6,1202.1 825.6,1188.2 826.7,1195.6 827.7,1199.3 828.7,1185.7 829.8,1191.6 830.8,1197.5 831.8,1195.8 832.9,1194.7 833.9,1192.3 835.0,1191.3 836.0,1194.8" fill="none" stroke="#FFC000" stroke-width="1.45" stroke-linejoin="round"/>
<polyline points="451.8,1187.3 452.8,1191.0 453.9,1196.5 454.9,1196.0 456.0,1203.3 457.0,1201.0 458.0,1198.0 459.1,1199.5 460.1,1201.9 461.1,1197.8 462.2,1193.1 463.2,1204.1 464.3,1194.0 465.3,1202.3 466.3,1191.7 467.4,1198.3 468.4,1196.8 469.5,1194.8 470.5,1197.2 471.5,1202.3 472.6,1193.5 473.6,1198.8 474.6,1191.0 475.7,1198.9 476.7,1198.6 477.8,1197.6 478.8,1193.3 479.8,1199.2 480.9,1196.1 481.9,1198.8 483.0,1200.4 484.0,1198.7 485.0,1193.6 486.1,1198.6 487.1,1192.9 488.1,1198.1 489.2,1197.3 490.2,1200.4 491.3,1197.7 492.3,1198.5 493.3,1196.5 494.4,1194.2 495.4,1199.2 496.5,1195.0 497.5,1202.4 498.5,1199.9 499.6,1197.3 500.6,1192.8 501.6,1199.7 502.7,1201.1 503.7,1197.7 504.8,1190.8 505.8,1193.4 506.8,1198.7 507.9,1197.5 508.9,1195.1 509.9,1198.7 511.0,1195.2 512.0,1198.9 513.1,1196.0 514.1,1190.4 515.1,1197.3 516.2,1199.7 517.2,1203.2 518.3,1193.8 519.3,1198.1 520.3,1192.6 521.4,1200.0 522.4,1199.8 523.4,1193.1 524.5,1197.3 525.5,1200.6 526.6,1198.8 527.6,1192.0 528.6,1199.9 529.7,1207.6 530.7,1201.2 531.2,1194.3 531.9,1182.1 532.6,1192.8 532.8,1187.6 533.8,1201.5 534.9,1197.7 535.9,1197.2 536.9,1188.2 538.0,1194.5 539.0,1188.2 540.1,1197.8 541.1,1191.0 542.1,1191.9 543.2,1197.5 544.2,1196.7 545.3,1195.4 546.3,1203.8 547.3,1195.2 548.4,1195.4 549.4,1195.0 550.4,1192.0 551.5,1202.8 552.5,1196.4 553.6,1196.8 554.6,1201.9 555.6,1192.0 556.7,1202.9 557.7,1195.8 558.8,1190.1 559.8,1196.1 560.8,1198.9 561.9,1191.9 562.9,1192.1 563.9,1196.4 565.0,1197.9 566.0,1196.5 567.1,1208.1 568.1,1198.5 569.1,1198.2 570.2,1197.0 571.2,1198.3 572.3,1197.9 573.3,1197.7 574.3,1197.5 575.4,1194.7 576.4,1193.5 577.4,1193.9 578.5,1196.0 579.5,1198.8 580.6,1194.4 581.6,1194.2 582.6,1189.8 583.7,1197.4 584.7,1201.7 585.8,1198.8 586.8,1196.7 587.8,1196.6 588.9,1192.9 589.9,1193.6 590.9,1200.4 592.0,1198.5 593.0,1200.4 594.1,1191.4 595.1,1196.3 595.2,1198.4 595.9,1051.3 596.6,1198.4 597.2,1195.8 598.2,1201.8 599.2,1195.9 600.3,1201.5 601.3,1201.8 602.4,1187.7 603.4,1195.0 604.4,1192.9 605.5,1197.2 606.5,1194.9 607.6,1200.7 608.6,1198.1 609.6,1196.9 610.7,1192.6 611.7,1194.2 612.7,1201.7 613.8,1198.0 614.8,1197.4 615.9,1197.6 616.9,1200.5 617.9,1189.6 619.0,1199.7 620.0,1202.1 621.1,1194.3 622.1,1191.3 623.1,1191.6 624.2,1198.5 625.2,1193.0 626.2,1201.6 627.3,1201.4 628.3,1194.0 629.4,1198.3 630.4,1191.7 631.4,1195.0 632.5,1195.0 633.5,1193.3 634.6,1198.6 635.6,1201.5 636.6,1192.7 637.7,1199.1 638.7,1197.8 639.7,1195.7 640.8,1194.7 641.8,1196.4 642.9,1200.0 643.9,1201.2 644.9,1193.7 646.0,1202.5 647.0,1194.3 648.1,1191.9 649.1,1199.9 650.1,1186.1 651.2,1192.6 652.2,1193.9 653.2,1190.5 654.3,1198.4 655.3,1191.8 656.4,1193.1 657.4,1202.4 658.4,1194.5 659.5,1200.0 660.5,1200.1 661.6,1198.3 662.6,1195.3 663.6,1193.2 664.7,1188.4 665.7,1199.8 666.7,1190.2 667.8,1199.4 668.8,1186.8 669.9,1192.3 670.9,1198.6 671.9,1196.7 673.0,1204.7 674.0,1196.2 675.1,1197.3 676.1,1191.5 677.1,1195.3 678.2,1195.7 679.2,1202.0 680.2,1190.5 681.3,1199.5 682.3,1200.4 683.4,1194.8 684.4,1196.0 685.4,1198.3 686.5,1192.3 687.5,1194.3 688.6,1190.0 689.6,1196.6 690.6,1197.7 691.7,1203.0 692.7,1199.8 693.7,1188.9 694.8,1196.4 695.8,1202.5 696.9,1194.2 697.9,1191.3 698.9,1196.4 700.0,1194.5 701.0,1196.5 702.0,1201.0 703.1,1193.0 704.1,1193.6 705.2,1203.1 706.2,1194.1 707.2,1196.9 708.3,1199.5 709.3,1192.9 710.4,1194.4 711.4,1198.8 712.4,1193.9 713.5,1199.9 714.5,1198.0 715.5,1187.8 716.6,1201.3 717.6,1202.6 718.7,1201.1 719.7,1199.4 720.7,1196.6 721.8,1193.5 722.8,1198.7 723.9,1198.5 724.9,1195.2 725.9,1194.6 727.0,1190.1 728.0,1203.8 729.0,1193.2 730.1,1197.9 731.1,1194.7 732.2,1199.0 733.2,1196.0 734.2,1195.0 735.3,1193.7 736.3,1195.9 737.4,1198.3 738.4,1197.4 739.4,1197.3 740.5,1199.7 741.5,1199.1 742.5,1194.0 743.6,1194.9 744.6,1194.4 745.7,1190.0 746.7,1188.6 747.7,1197.3 748.8,1194.5 749.8,1190.4 750.9,1199.4 751.9,1203.2 752.9,1202.7 754.0,1190.7 755.0,1193.1 756.0,1196.3 757.1,1197.5 758.1,1191.6 759.2,1203.4 760.2,1195.5 761.2,1196.8 762.3,1200.8 763.3,1196.4 764.4,1190.4 765.4,1196.8 766.4,1195.7 767.5,1199.3 768.5,1193.7 769.5,1196.9 770.6,1197.4 771.6,1198.3 772.7,1198.4 773.7,1193.0 774.7,1195.6 775.8,1194.2 776.8,1201.6 777.9,1202.6 778.9,1194.3 779.9,1193.0 781.0,1193.2 782.0,1195.8 783.0,1186.6 784.1,1190.4 785.1,1194.9 786.2,1200.2 787.2,1196.8 787.3,1200.6 788.0,1160.1 788.7,1200.6 789.3,1198.1 790.3,1193.8 791.3,1205.9 792.4,1192.3 793.4,1193.2 794.5,1194.7 795.5,1197.6 796.5,1203.9 797.6,1193.6 798.6,1187.2 799.7,1199.7 800.7,1194.8 801.7,1194.7 802.8,1201.7 803.8,1194.4 804.8,1197.0 805.9,1203.0 806.9,1197.2 808.0,1195.4 809.0,1201.3 810.0,1198.2 811.1,1193.8 812.1,1197.5 813.2,1201.2 814.2,1196.7 815.2,1199.5 816.3,1192.7 817.3,1193.5 818.3,1202.2 819.4,1199.0 820.4,1195.9 821.5,1188.4 822.5,1202.6 823.5,1197.9 824.6,1198.6 825.6,1191.0 826.7,1196.5 827.7,1200.8 828.7,1186.8 829.8,1194.5 830.8,1197.8 831.8,1197.3 832.9,1194.4 833.9,1192.4 835.0,1195.7 836.0,1191.9" fill="none" stroke="#0F74C8" stroke-width="1.45" stroke-dasharray="4.2 2.6" stroke-linejoin="round"/>
<rect x="743" y="98" width="93" height="36" fill="#fff" stroke="#666" stroke-width="0.9"/>
<line x1="745.5" x2="757" y1="108" y2="108" stroke="#FFC000" stroke-width="1.3"/>
<line x1="745.5" x2="750.5" y1="124.3" y2="124.3" stroke="#0F74C8" stroke-width="1.5"/>
<text x="758.5" y="110.5" font-size="12.3" fill="#111" font-weight="normal" text-anchor="start" textLength="75" lengthAdjust="spacingAndGlyphs">ROI ODDBALL</text>
<text x="758.5" y="128" font-size="12.3" fill="#111" font-weight="normal" text-anchor="start" textLength="51" lengthAdjust="spacingAndGlyphs">ROI BASE</text>
<text x="643.5" y="1259.5" font-size="15" fill="#404040" font-weight="normal" text-anchor="middle" textLength="100" lengthAdjust="spacingAndGlyphs">Frequency (Hz)</text>
<circle cx="673" cy="295" r="0.6" fill="#999"/><circle cx="691.5" cy="295" r="0.6" fill="#999"/>
<defs><linearGradient id="jet" x1="0" x2="1" y1="0" y2="0">
<stop offset="0" stop-color="#800000"/><stop offset="0.11" stop-color="#ff0000"/><stop offset="0.36" stop-color="#ffff00"/>
<stop offset="0.5" stop-color="#80ff80"/><stop offset="0.64" stop-color="#00ffff"/><stop offset="0.89" stop-color="#0000ff"/><stop offset="1" stop-color="#00008f"/>
</linearGradient></defs>
<rect x="143.5" y="1272" width="254.5" height="19.5" fill="url(#jet)"/>
<text x="148.9" y="1267.4" font-size="15.5" font-weight="bold" fill="#111" transform="rotate(-90 148.9 1267.4)" textLength="28" lengthAdjust="spacingAndGlyphs">0.35</text>
<text x="185.2" y="1267.4" font-size="15.5" font-weight="bold" fill="#111" transform="rotate(-90 185.2 1267.4)" textLength="28" lengthAdjust="spacingAndGlyphs">0.30</text>
<text x="221.5" y="1267.4" font-size="15.5" font-weight="bold" fill="#111" transform="rotate(-90 221.5 1267.4)" textLength="28" lengthAdjust="spacingAndGlyphs">0.25</text>
<text x="257.8" y="1267.4" font-size="15.5" font-weight="bold" fill="#111" transform="rotate(-90 257.8 1267.4)" textLength="28" lengthAdjust="spacingAndGlyphs">0.20</text>
<text x="294.1" y="1267.4" font-size="15.5" font-weight="bold" fill="#111" transform="rotate(-90 294.1 1267.4)" textLength="28" lengthAdjust="spacingAndGlyphs">0.15</text>
<text x="330.4" y="1267.4" font-size="15.5" font-weight="bold" fill="#111" transform="rotate(-90 330.4 1267.4)" textLength="28" lengthAdjust="spacingAndGlyphs">0.10</text>
<text x="366.7" y="1267.4" font-size="15.5" font-weight="bold" fill="#111" transform="rotate(-90 366.7 1267.4)" textLength="28" lengthAdjust="spacingAndGlyphs">0.05</text>
<text x="403.0" y="1267.4" font-size="15.5" font-weight="bold" fill="#111" transform="rotate(-90 403.0 1267.4)" textLength="7.3" lengthAdjust="spacingAndGlyphs">0</text>
<text x="121" y="1279.3" font-size="27.5" font-weight="bold" fill="#000" transform="rotate(-90 121 1279.3)" textLength="31" lengthAdjust="spacingAndGlyphs">µV</text>
<defs><clipPath id="c_top"><path d="M50.3,0.0 C51.8,0.0 53.5,1.2 55.0,2.5 C56.5,3.8 55.1,5.6 59.0,7.6 C62.9,9.6 73.4,11.6 78.3,14.6 C83.2,17.6 85.2,21.0 88.3,25.5 C91.4,30.0 95.0,36.2 96.9,41.6 C98.8,47.0 99.7,52.4 99.8,57.8 C99.9,63.2 100.6,68.7 97.7,74.1 C94.8,79.5 89.6,86.0 82.5,90.3 C75.4,94.6 64.6,100.0 55.3,100.0 C46.0,100.0 34.3,94.6 26.5,90.3 C18.7,86.0 12.1,78.0 8.6,74.1 C5.1,70.2 6.8,68.3 5.5,67.0 C4.2,65.7 1.4,67.5 0.5,66.0 C-0.4,64.5 -0.8,59.8 0.0,58.0 C0.8,56.2 3.8,57.7 5.0,55.0 C6.2,52.3 5.9,46.5 7.1,41.6 C8.3,36.7 9.8,30.0 12.2,25.5 C14.6,21.0 16.5,17.6 21.6,14.6 C26.7,11.6 38.9,9.6 43.0,7.6 C47.1,5.6 44.8,3.8 46.0,2.5 C47.2,1.2 48.8,0.0 50.3,0.0 Z"/></clipPath><clipPath id="c_side"><path d="M63.2,0.0 C58.5,0.2 51.5,1.8 46.5,3.2 C41.5,4.6 37.6,6.2 33.5,8.4 C29.4,10.6 25.3,13.3 21.9,16.1 C18.5,18.9 15.2,22.0 12.9,25.2 C10.7,28.4 9.4,31.9 8.4,35.5 C7.4,39.1 7.0,43.9 7.1,47.1 C7.2,50.3 9.2,52.2 9.0,54.8 C8.8,57.4 7.0,59.8 5.8,62.6 C4.6,65.4 2.9,69.0 1.9,71.6 C0.9,74.2 -0.3,76.4 0.0,78.1 C0.3,79.8 2.6,81.1 3.9,81.9 C5.2,82.8 6.9,82.1 7.7,83.2 C8.6,84.3 8.4,86.5 9.0,88.4 C9.6,90.3 10.1,92.9 11.0,94.8 C11.9,96.7 13.7,99.1 14.2,100.0 C26.3,100.0 74.9,100.0 87.1,100.0 C87.1,98.3 86.8,93.6 87.1,89.7 C87.4,85.8 87.8,81.1 89.0,76.8 C90.2,72.5 92.7,68.2 94.2,63.9 C95.7,59.6 97.1,55.3 98.1,51.0 C99.1,46.7 100.0,42.4 100.0,38.1 C100.0,33.8 99.3,29.1 98.1,25.2 C96.9,21.3 95.1,17.8 92.9,14.8 C90.8,11.8 88.2,9.2 85.2,7.1 C82.2,4.9 78.5,3.1 74.8,1.9 C71.1,0.7 67.9,-0.2 63.2,0.0 Z"/></clipPath><clipPath id="c_back"><path d="M51.0,0.0 C57.5,-0.2 63.8,0.8 69.2,2.1 C74.6,3.4 79.2,5.4 83.2,7.7 C87.2,10.0 90.5,12.8 93.0,15.9 C95.5,19.0 97.0,22.4 97.9,26.2 C98.8,30.0 98.6,34.6 98.6,38.5 C98.6,42.4 97.8,46.8 97.9,49.7 C98.0,52.6 99.0,53.7 99.3,55.9 C99.6,58.1 100.6,61.0 100.0,63.1 C99.4,65.2 97.2,67.0 95.8,68.2 C94.4,69.4 92.8,68.4 91.6,70.3 C90.4,72.2 89.7,76.3 88.8,79.5 C87.9,82.7 86.9,86.8 86.0,89.7 C85.1,92.6 83.7,95.7 83.2,96.9 C78.1,97.4 62.4,100.0 52.4,100.0 C42.4,100.0 28.0,97.4 23.1,96.9 C22.4,95.4 20.3,90.8 18.9,87.7 C17.5,84.6 15.9,81.4 14.7,78.5 C13.5,75.6 13.8,71.8 11.9,70.3 C10.0,68.8 5.5,70.2 3.5,69.2 C1.5,68.2 0.4,66.3 0.0,64.1 C-0.4,61.9 0.6,57.8 1.4,55.9 C2.2,54.0 4.2,55.2 4.9,52.8 C5.6,50.4 5.4,45.1 5.6,41.5 C5.8,37.9 5.7,34.7 6.3,31.3 C6.9,27.9 7.2,24.4 9.1,21.0 C11.0,17.6 14.0,13.7 17.5,10.8 C21.0,7.9 24.5,5.4 30.1,3.6 C35.7,1.8 44.5,0.2 51.0,0.0 Z"/></clipPath><filter id="bl" x="-30%" y="-30%" width="160%" height="160%"><feGaussianBlur stdDeviation="3.2"/></filter><filter id="bl1" x="-10%" y="-10%" width="120%" height="120%"><feGaussianBlur stdDeviation="1.0"/></filter><linearGradient id="shd" x1="0" x2="0" y1="0" y2="1"><stop offset="0.4" stop-color="#000" stop-opacity="0"/><stop offset="1" stop-color="#000" stop-opacity="0.14"/></linearGradient><radialGradient id="shr" cx="0.5" cy="0.5" r="0.56"><stop offset="0.72" stop-color="#000" stop-opacity="0"/><stop offset="1" stop-color="#000" stop-opacity="0.14"/></radialGradient><radialGradient id="hl" cx="0.55" cy="0.3" r="0.5"><stop offset="0" stop-color="#fff" stop-opacity="0.10"/><stop offset="1" stop-color="#fff" stop-opacity="0"/></radialGradient></defs><g transform="translate(134.4,96.4) scale(0.6860,0.9110)" clip-path="url(#c_top)"><g filter="url(#bl)"><rect x="-30" y="-30" width="160" height="160" fill="#0061ff"/><ellipse cx="62" cy="37" rx="42.0" ry="20.0" fill="#009eff"/><ellipse cx="62" cy="37" rx="39.3" ry="18.7" fill="#00b7ff"/><ellipse cx="62" cy="37" rx="36.6" ry="17.4" fill="#00d0ff"/><ellipse cx="62" cy="37" rx="33.9" ry="16.1" fill="#00e8ff"/><ellipse cx="62" cy="37" rx="31.2" ry="14.9" fill="#02fffd"/><ellipse cx="62" cy="37" rx="28.5" ry="13.6" fill="#1bffe4"/><ellipse cx="62" cy="37" rx="25.8" ry="12.3" fill="#34ffcb"/><ellipse cx="62" cy="37" rx="23.1" ry="11.0" fill="#4dffb3"/><ellipse cx="78" cy="38" rx="22.0" ry="12.0" fill="#38ffc7"/><ellipse cx="78" cy="38" rx="20.4" ry="11.1" fill="#45ffba"/><ellipse cx="78" cy="38" rx="18.9" ry="10.3" fill="#52ffad"/><ellipse cx="78" cy="38" rx="17.3" ry="9.4" fill="#5fffa0"/><ellipse cx="78" cy="38" rx="15.7" ry="8.6" fill="#6dff92"/><ellipse cx="78" cy="38" rx="14.1" ry="7.7" fill="#7aff85"/><ellipse cx="78" cy="38" rx="12.6" ry="6.9" fill="#87ff78"/><ellipse cx="78" cy="38" rx="11.0" ry="6.0" fill="#94ff6b"/><ellipse cx="99" cy="45" rx="7.0" ry="14.0" fill="#80ff80"/><ellipse cx="99" cy="45" rx="6.5" ry="13.0" fill="#92ff6d"/><ellipse cx="99" cy="45" rx="6.0" ry="12.0" fill="#a5ff5a"/><ellipse cx="99" cy="45" rx="5.5" ry="11.0" fill="#b8ff47"/><ellipse cx="99" cy="45" rx="5.0" ry="10.0" fill="#cbff34"/><ellipse cx="99" cy="45" rx="4.5" ry="9.0" fill="#deff21"/><ellipse cx="99" cy="45" rx="4.0" ry="8.0" fill="#f1ff0e"/><ellipse cx="99" cy="45" rx="3.5" ry="7.0" fill="#fffa00"/><ellipse cx="50" cy="72" rx="56.0" ry="22.0" fill="#004dff"/><ellipse cx="50" cy="72" rx="53.6" ry="21.1" fill="#003cff"/><ellipse cx="50" cy="72" rx="51.2" ry="20.1" fill="#002cff"/><ellipse cx="50" cy="72" rx="48.8" ry="19.2" fill="#001cff"/><ellipse cx="50" cy="72" rx="46.4" ry="18.2" fill="#000cff"/><ellipse cx="50" cy="72" rx="44.0" ry="17.3" fill="#0000fb"/><ellipse cx="50" cy="72" rx="41.6" ry="16.3" fill="#0000eb"/><ellipse cx="50" cy="72" rx="39.2" ry="15.4" fill="#0000db"/><ellipse cx="30" cy="74" rx="18.0" ry="10.0" fill="#0000db"/><ellipse cx="30" cy="74" rx="16.7" ry="9.3" fill="#0000d4"/><ellipse cx="30" cy="74" rx="15.4" ry="8.6" fill="#0000cd"/><ellipse cx="30" cy="74" rx="14.1" ry="7.9" fill="#0000c5"/><ellipse cx="30" cy="74" rx="12.9" ry="7.1" fill="#0000be"/><ellipse cx="30" cy="74" rx="11.6" ry="6.4" fill="#0000b7"/><ellipse cx="30" cy="74" rx="10.3" ry="5.7" fill="#0000b0"/><ellipse cx="30" cy="74" rx="9.0" ry="5.0" fill="#0000a8"/><ellipse cx="48" cy="105" rx="46.0" ry="12.0" fill="#00b3ff"/><ellipse cx="48" cy="105" rx="43.4" ry="11.3" fill="#00deff"/><ellipse cx="48" cy="105" rx="40.7" ry="10.6" fill="#0bfff4"/><ellipse cx="48" cy="105" rx="38.1" ry="9.9" fill="#37ffc8"/><ellipse cx="48" cy="105" rx="35.5" ry="9.3" fill="#62ff9d"/><ellipse cx="48" cy="105" rx="32.9" ry="8.6" fill="#8eff71"/><ellipse cx="48" cy="105" rx="30.2" ry="7.9" fill="#baff45"/><ellipse cx="48" cy="105" rx="27.6" ry="7.2" fill="#e5ff1a"/><ellipse cx="0" cy="60" rx="11.0" ry="10.0" fill="#4dffb3"/><ellipse cx="0" cy="60" rx="10.6" ry="9.6" fill="#5fffa0"/><ellipse cx="0" cy="60" rx="10.1" ry="9.2" fill="#72ff8d"/><ellipse cx="0" cy="60" rx="9.7" ry="8.8" fill="#85ff7a"/><ellipse cx="0" cy="60" rx="9.2" ry="8.4" fill="#98ff67"/><ellipse cx="0" cy="60" rx="8.8" ry="8.0" fill="#abff54"/><ellipse cx="0" cy="60" rx="8.4" ry="7.6" fill="#beff41"/><ellipse cx="0" cy="60" rx="7.9" ry="7.2" fill="#d1ff2e"/></g><rect x="0" y="0" width="100" height="100" fill="url(#shr)"/><g fill="#222" fill-opacity="0.5"><circle cx="31.6" cy="16.5" r="0.75"/><circle cx="41.3" cy="16.3" r="0.75"/><circle cx="50.1" cy="16.9" r="0.75"/><circle cx="58.1" cy="17.2" r="0.75"/><circle cx="67.1" cy="17.1" r="0.75"/><circle cx="26.2" cy="26.2" r="0.75"/><circle cx="39.2" cy="25.6" r="0.75"/><circle cx="49.4" cy="26.7" r="0.75"/><circle cx="62.4" cy="26.6" r="0.75"/><circle cx="72.8" cy="27.4" r="0.75"/><circle cx="83.6" cy="27.1" r="0.75"/><circle cx="15.1" cy="34.9" r="0.75"/><circle cx="26.2" cy="35.2" r="0.75"/><circle cx="39.1" cy="35.0" r="0.75"/><circle cx="50.2" cy="35.9" r="0.75"/><circle cx="61.2" cy="35.7" r="0.75"/><circle cx="72.1" cy="34.7" r="0.75"/><circle cx="83.9" cy="36.0" r="0.75"/><circle cx="15.4" cy="44.4" r="0.75"/><circle cx="27.2" cy="44.7" r="0.75"/><circle cx="38.1" cy="45.4" r="0.75"/><circle cx="50.4" cy="44.3" r="0.75"/><circle cx="61.6" cy="44.9" r="0.75"/><circle cx="73.8" cy="45.3" r="0.75"/><circle cx="84.1" cy="45.8" r="0.75"/><circle cx="14.7" cy="53.8" r="0.75"/><circle cx="27.5" cy="53.3" r="0.75"/><circle cx="38.5" cy="53.1" r="0.75"/><circle cx="50.3" cy="54.5" r="0.75"/><circle cx="61.6" cy="54.8" r="0.75"/><circle cx="72.6" cy="54.4" r="0.75"/><circle cx="84.7" cy="54.2" r="0.75"/><circle cx="15.4" cy="63.9" r="0.75"/><circle cx="27.9" cy="63.1" r="0.75"/><circle cx="38.8" cy="62.3" r="0.75"/><circle cx="50.4" cy="63.5" r="0.75"/><circle cx="62.5" cy="63.8" r="0.75"/><circle cx="72.6" cy="63.0" r="0.75"/><circle cx="84.8" cy="62.2" r="0.75"/><circle cx="15.4" cy="71.7" r="0.75"/><circle cx="26.2" cy="71.5" r="0.75"/><circle cx="39.0" cy="71.7" r="0.75"/><circle cx="49.5" cy="72.2" r="0.75"/><circle cx="62.2" cy="71.6" r="0.75"/><circle cx="72.9" cy="72.5" r="0.75"/><circle cx="85.3" cy="73.0" r="0.75"/><circle cx="16.2" cy="81.2" r="0.75"/><circle cx="26.8" cy="81.3" r="0.75"/><circle cx="39.3" cy="82.5" r="0.75"/><circle cx="49.3" cy="81.0" r="0.75"/><circle cx="61.0" cy="81.1" r="0.75"/><circle cx="73.0" cy="81.8" r="0.75"/><circle cx="84.0" cy="80.6" r="0.75"/><circle cx="31.8" cy="90.5" r="0.75"/><circle cx="41.1" cy="91.7" r="0.75"/><circle cx="50.4" cy="90.8" r="0.75"/><circle cx="59.2" cy="91.2" r="0.75"/><circle cx="67.1" cy="91.6" r="0.75"/></g></g><g transform="translate(214.3,95.9) scale(0.8360,0.8360)" clip-path="url(#c_side)"><g filter="url(#bl)"><rect x="-30" y="-30" width="160" height="160" fill="#80ff80"/><ellipse cx="8" cy="64" rx="38.0" ry="58.0" fill="#6bff94"/><ellipse cx="8" cy="64" rx="35.8" ry="54.7" fill="#5affa5"/><ellipse cx="8" cy="64" rx="33.7" ry="51.4" fill="#48ffb7"/><ellipse cx="8" cy="64" rx="31.5" ry="48.1" fill="#37ffc8"/><ellipse cx="8" cy="64" rx="29.3" ry="44.7" fill="#25ffda"/><ellipse cx="8" cy="64" rx="27.1" ry="41.4" fill="#14ffeb"/><ellipse cx="8" cy="64" rx="25.0" ry="38.1" fill="#02fffd"/><ellipse cx="8" cy="64" rx="22.8" ry="34.8" fill="#00f0ff"/><ellipse cx="40" cy="12" rx="66.0" ry="30.0" fill="#1affe5" transform="rotate(-24 40 12)"/><ellipse cx="40" cy="12" rx="63.2" ry="28.7" fill="#00f3ff" transform="rotate(-24 40 12)"/><ellipse cx="40" cy="12" rx="60.3" ry="27.4" fill="#00cdff" transform="rotate(-24 40 12)"/><ellipse cx="40" cy="12" rx="57.5" ry="26.1" fill="#00a7ff" transform="rotate(-24 40 12)"/><ellipse cx="40" cy="12" rx="54.7" ry="24.9" fill="#0081ff" transform="rotate(-24 40 12)"/><ellipse cx="40" cy="12" rx="51.9" ry="23.6" fill="#005bff" transform="rotate(-24 40 12)"/><ellipse cx="40" cy="12" rx="49.0" ry="22.3" fill="#0035ff" transform="rotate(-24 40 12)"/><ellipse cx="40" cy="12" rx="46.2" ry="21.0" fill="#000fff" transform="rotate(-24 40 12)"/><ellipse cx="66" cy="8" rx="20.0" ry="10.0" fill="#0005ff"/><ellipse cx="66" cy="8" rx="18.6" ry="9.3" fill="#0000f7"/><ellipse cx="66" cy="8" rx="17.1" ry="8.6" fill="#0000ea"/><ellipse cx="66" cy="8" rx="15.7" ry="7.9" fill="#0000dd"/><ellipse cx="66" cy="8" rx="14.3" ry="7.1" fill="#0000d0"/><ellipse cx="66" cy="8" rx="12.9" ry="6.4" fill="#0000c3"/><ellipse cx="66" cy="8" rx="11.4" ry="5.7" fill="#0000b5"/><ellipse cx="66" cy="8" rx="10.0" ry="5.0" fill="#0000a8"/><ellipse cx="30" cy="28" rx="18.0" ry="11.0" fill="#0005ff"/><ellipse cx="30" cy="28" rx="16.7" ry="10.2" fill="#0000f7"/><ellipse cx="30" cy="28" rx="15.4" ry="9.4" fill="#0000ea"/><ellipse cx="30" cy="28" rx="14.1" ry="8.6" fill="#0000dd"/><ellipse cx="30" cy="28" rx="12.9" ry="7.9" fill="#0000d0"/><ellipse cx="30" cy="28" rx="11.6" ry="7.1" fill="#0000c3"/><ellipse cx="30" cy="28" rx="10.3" ry="6.3" fill="#0000b5"/><ellipse cx="30" cy="28" rx="9.0" ry="5.5" fill="#0000a8"/><ellipse cx="78" cy="56" rx="31.0" ry="33.0" fill="#94ff6b"/><ellipse cx="78" cy="56" rx="28.8" ry="30.6" fill="#a8ff57"/><ellipse cx="78" cy="56" rx="26.6" ry="28.3" fill="#bdff42"/><ellipse cx="78" cy="56" rx="24.4" ry="25.9" fill="#d1ff2e"/><ellipse cx="78" cy="56" rx="22.1" ry="23.6" fill="#e5ff1a"/><ellipse cx="78" cy="56" rx="19.9" ry="21.2" fill="#faff05"/><ellipse cx="78" cy="56" rx="17.7" ry="18.9" fill="#fff000"/><ellipse cx="78" cy="56" rx="15.5" ry="16.5" fill="#ffdb00"/><ellipse cx="78" cy="94" rx="26.0" ry="14.0" fill="#bdff42"/><ellipse cx="78" cy="94" rx="24.1" ry="13.0" fill="#c3ff3c"/><ellipse cx="78" cy="94" rx="22.3" ry="12.0" fill="#c8ff37"/><ellipse cx="78" cy="94" rx="20.4" ry="11.0" fill="#ceff31"/><ellipse cx="78" cy="94" rx="18.6" ry="10.0" fill="#d4ff2b"/><ellipse cx="78" cy="94" rx="16.7" ry="9.0" fill="#daff25"/><ellipse cx="78" cy="94" rx="14.9" ry="8.0" fill="#e0ff1f"/><ellipse cx="78" cy="94" rx="13.0" ry="7.0" fill="#e5ff1a"/></g><rect x="0" y="0" width="100" height="100" fill="url(#shd)"/><rect x="0" y="0" width="100" height="100" fill="url(#hl)"/><path d="M70.4,91.7 q1.0,0.9 2.6,4.2 M61.3,57.6 q0.9,0.0 3.9,1.0 M25.3,55.0 q1.2,-0.9 3.3,1.1 M76.2,80.8 q1.6,0.3 4.0,1.4 M29.6,90.7 q0.9,1.3 1.9,5.0 M28.3,69.4 q2.2,0.1 6.4,3.1 M81.0,77.2 q1.3,1.0 5.4,1.8 M82.7,91.3 q0.9,0.7 2.7,3.4 M69.9,77.4 q0.4,2.9 2.5,3.9 M83.1,90.8 q2.6,2.2 3.7,6.0 M54.1,69.9 q0.9,-0.4 3.1,0.6 M64.9,95.2 q4.5,3.7 6.2,4.6 M44.6,64.3 q0.9,1.2 3.7,1.6 M77.8,90.3 q3.3,0.7 4.9,3.9 M63.0,93.2 q1.8,1.9 3.7,5.7 M70.9,69.0 q1.8,3.0 4.2,6.7 M80.7,85.4 q0.7,1.8 3.4,1.3 M72.0,61.1 q2.5,3.0 4.0,6.8 M56.0,60.5 q4.3,0.8 7.7,1.5 M79.9,73.2 q0.8,2.4 3.3,6.3 M40.2,65.1 q1.3,0.4 3.0,3.0 M78.4,69.9 q3.6,1.6 4.7,3.6 M78.9,76.1 q0.6,1.7 4.2,3.8 M33.4,55.2 q0.9,2.3 2.0,3.3 M56.5,68.7 q3.0,0.7 4.4,3.8 M56.7,65.4 q3.1,1.7 6.1,3.1 M69.1,93.3 q2.5,1.8 4.9,3.6 M64.9,74.0 q3.3,2.4 4.0,3.6 M76.3,94.6 q3.9,2.3 5.2,2.5 M30.5,60.1 q0.6,-0.3 2.7,2.0 M63.5,87.9 q1.5,2.2 1.7,3.4 M30.9,92.1 q2.1,1.6 1.5,3.8 M52.2,96.6 q0.7,1.7 1.9,3.3 M43.0,63.2 q1.4,1.8 5.8,3.2 " fill="none" stroke="#000" stroke-opacity="0.075" stroke-width="1.4" stroke-linecap="round" filter="url(#bl1)"/><path d="M45,57 q3,-4 6,-2 q-3,3 -3,6 M43,64 q4,4 9,2 M47,70 q3,3 8,0 M40,74 q4,3 8,2" fill="none" stroke="#000" stroke-opacity="0.22" stroke-width="1.4" stroke-linecap="round" filter="url(#bl1)"/><g fill="#222" fill-opacity="0.5"><circle cx="13.8" cy="35.6" r="0.75"/><circle cx="16.7" cy="26.8" r="0.75"/><circle cx="22.6" cy="16.8" r="0.75"/><circle cx="31.1" cy="10.9" r="0.75"/><circle cx="40.2" cy="4.1" r="0.75"/><circle cx="48.9" cy="0.9" r="0.75"/><circle cx="60.6" cy="0.9" r="0.75"/><circle cx="69.8" cy="3.2" r="0.75"/><circle cx="81.0" cy="8.4" r="0.75"/><circle cx="88.0" cy="13.6" r="0.75"/><circle cx="95.7" cy="22.8" r="0.75"/><circle cx="99.4" cy="31.4" r="0.75"/><circle cx="22.4" cy="38.6" r="0.75"/><circle cx="25.6" cy="29.5" r="0.75"/><circle cx="30.9" cy="23.7" r="0.75"/><circle cx="36.5" cy="16.8" r="0.75"/><circle cx="43.8" cy="12.5" r="0.75"/><circle cx="51.8" cy="10.9" r="0.75"/><circle cx="59.1" cy="10.7" r="0.75"/><circle cx="68.4" cy="11.7" r="0.75"/><circle cx="74.4" cy="15.7" r="0.75"/><circle cx="81.1" cy="20.0" r="0.75"/><circle cx="85.9" cy="26.4" r="0.75"/><circle cx="89.3" cy="34.4" r="0.75"/><circle cx="32.3" cy="40.3" r="0.75"/><circle cx="35.2" cy="31.9" r="0.75"/><circle cx="40.5" cy="25.2" r="0.75"/><circle cx="47.6" cy="20.8" r="0.75"/><circle cx="56.0" cy="20.3" r="0.75"/><circle cx="65.5" cy="20.7" r="0.75"/><circle cx="72.8" cy="26.3" r="0.75"/><circle cx="77.6" cy="32.5" r="0.75"/><circle cx="81.2" cy="39.8" r="0.75"/><circle cx="52.0" cy="37.3" r="0.75"/><circle cx="60.0" cy="35.6" r="0.75"/><circle cx="68.0" cy="36.0" r="0.75"/><circle cx="76.0" cy="36.8" r="0.75"/></g></g><g transform="translate(394,94) scale(-0.8500,0.8600)" clip-path="url(#c_side)"><g filter="url(#bl)"><rect x="-30" y="-30" width="160" height="160" fill="#b3ff4c"/><ellipse cx="4" cy="60" rx="26.0" ry="52.0" fill="#80ff80"/><ellipse cx="4" cy="60" rx="24.5" ry="49.0" fill="#6eff91"/><ellipse cx="4" cy="60" rx="23.0" ry="46.1" fill="#5dffa2"/><ellipse cx="4" cy="60" rx="21.5" ry="43.1" fill="#4bffb4"/><ellipse cx="4" cy="60" rx="20.1" ry="40.1" fill="#3affc5"/><ellipse cx="4" cy="60" rx="18.6" ry="37.1" fill="#28ffd7"/><ellipse cx="4" cy="60" rx="17.1" ry="34.2" fill="#17ffe8"/><ellipse cx="4" cy="60" rx="15.6" ry="31.2" fill="#05fffa"/><ellipse cx="70" cy="10" rx="36.0" ry="20.0" fill="#2effd1"/><ellipse cx="70" cy="10" rx="33.9" ry="18.9" fill="#00fbff"/><ellipse cx="70" cy="10" rx="31.9" ry="17.7" fill="#00caff"/><ellipse cx="70" cy="10" rx="29.8" ry="16.6" fill="#0098ff"/><ellipse cx="70" cy="10" rx="27.8" ry="15.4" fill="#0067ff"/><ellipse cx="70" cy="10" rx="25.7" ry="14.3" fill="#0035ff"/><ellipse cx="70" cy="10" rx="23.7" ry="13.1" fill="#0004ff"/><ellipse cx="70" cy="10" rx="21.6" ry="12.0" fill="#0000d1"/><ellipse cx="48" cy="30" rx="16.0" ry="15.0" fill="#a8ff57"/><ellipse cx="48" cy="30" rx="14.9" ry="13.9" fill="#bdff42"/><ellipse cx="48" cy="30" rx="13.7" ry="12.9" fill="#d1ff2e"/><ellipse cx="48" cy="30" rx="12.6" ry="11.8" fill="#e6ff19"/><ellipse cx="48" cy="30" rx="11.4" ry="10.7" fill="#faff05"/><ellipse cx="48" cy="30" rx="10.3" ry="9.6" fill="#fff000"/><ellipse cx="48" cy="30" rx="9.1" ry="8.6" fill="#ffdb00"/><ellipse cx="48" cy="30" rx="8.0" ry="7.5" fill="#ffc700"/><ellipse cx="12" cy="38" rx="14.0" ry="22.0" fill="#2effd1"/><ellipse cx="12" cy="38" rx="13.0" ry="20.4" fill="#0bfff4"/><ellipse cx="12" cy="38" rx="12.0" ry="18.9" fill="#00e7ff"/><ellipse cx="12" cy="38" rx="11.0" ry="17.3" fill="#00c4ff"/><ellipse cx="12" cy="38" rx="10.0" ry="15.7" fill="#00a1ff"/><ellipse cx="12" cy="38" rx="9.0" ry="14.1" fill="#007eff"/><ellipse cx="12" cy="38" rx="8.0" ry="12.6" fill="#005bff"/><ellipse cx="12" cy="38" rx="7.0" ry="11.0" fill="#0038ff"/><ellipse cx="5" cy="75" rx="15.0" ry="22.0" fill="#57ffa8"/><ellipse cx="5" cy="75" rx="13.9" ry="20.4" fill="#48ffb7"/><ellipse cx="5" cy="75" rx="12.9" ry="18.9" fill="#3affc5"/><ellipse cx="5" cy="75" rx="11.8" ry="17.3" fill="#2bffd4"/><ellipse cx="5" cy="75" rx="10.7" ry="15.7" fill="#1cffe3"/><ellipse cx="5" cy="75" rx="9.6" ry="14.1" fill="#0efff1"/><ellipse cx="5" cy="75" rx="8.6" ry="12.6" fill="#00feff"/><ellipse cx="5" cy="75" rx="7.5" ry="11.0" fill="#00f0ff"/><ellipse cx="25" cy="70" rx="14.0" ry="25.0" fill="#80ff80"/><ellipse cx="25" cy="70" rx="13.0" ry="23.2" fill="#7aff85"/><ellipse cx="25" cy="70" rx="12.0" ry="21.4" fill="#74ff8b"/><ellipse cx="25" cy="70" rx="11.0" ry="19.6" fill="#6eff91"/><ellipse cx="25" cy="70" rx="10.0" ry="17.9" fill="#68ff97"/><ellipse cx="25" cy="70" rx="9.0" ry="16.1" fill="#62ff9d"/><ellipse cx="25" cy="70" rx="8.0" ry="14.3" fill="#5dffa2"/><ellipse cx="25" cy="70" rx="7.0" ry="12.5" fill="#57ffa8"/></g><rect x="0" y="0" width="100" height="100" fill="url(#shd)"/><rect x="0" y="0" width="100" height="100" fill="url(#hl)"/><path d="M82.9,69.4 q2.0,2.5 3.3,5.7 M43.5,57.3 q2.3,-0.2 3.2,1.0 M32.1,58.5 q2.3,2.5 3.6,6.4 M37.0,67.3 q1.3,0.4 3.0,2.3 M81.6,95.9 q2.9,0.9 3.1,2.9 M44.1,55.0 q2.3,0.6 4.5,2.9 M53.3,55.2 q1.3,-0.6 3.1,1.5 M23.4,67.8 q2.8,2.0 5.4,2.4 M62.8,85.1 q0.6,3.7 2.3,4.4 M31.3,85.4 q2.1,2.4 2.1,2.4 M60.9,85.8 q1.0,1.6 1.9,3.2 M73.8,88.8 q2.7,3.1 3.0,5.1 M65.0,64.7 q1.4,-0.8 3.6,0.8 M73.8,78.5 q2.6,2.2 4.1,4.5 M22.2,88.5 q1.7,2.7 3.2,4.5 M26.1,85.9 q0.8,1.4 3.1,1.4 M34.7,86.1 q0.6,2.5 2.0,5.1 M64.4,87.2 q0.9,1.2 4.2,4.5 M37.7,86.2 q1.1,0.1 5.1,2.8 M38.7,83.2 q1.4,2.5 4.0,5.0 M50.8,74.6 q2.7,2.5 7.1,2.2 M80.0,55.7 q4.2,2.0 5.6,4.3 M38.7,63.8 q1.0,0.8 1.6,3.7 M54.5,95.0 q3.4,2.3 6.8,2.2 M65.6,64.7 q-0.2,0.9 2.4,4.9 M52.5,73.9 q1.2,0.3 3.3,1.7 M74.1,55.1 q0.9,4.2 4.1,5.9 M66.2,92.9 q1.8,2.6 4.3,2.2 M58.5,70.1 q0.4,0.1 3.6,2.6 M73.7,67.0 q0.2,2.0 1.7,3.9 M33.8,70.7 q2.4,3.8 2.9,6.8 M78.6,94.5 q1.1,2.9 4.8,4.5 M50.0,86.6 q0.1,2.9 2.9,3.3 M29.9,74.8 q2.6,2.6 3.9,2.3 " fill="none" stroke="#000" stroke-opacity="0.075" stroke-width="1.4" stroke-linecap="round" filter="url(#bl1)"/><path d="M45,57 q3,-4 6,-2 q-3,3 -3,6 M43,64 q4,4 9,2 M47,70 q3,3 8,0 M40,74 q4,3 8,2" fill="none" stroke="#000" stroke-opacity="0.22" stroke-width="1.4" stroke-linecap="round" filter="url(#bl1)"/><g fill="#222" fill-opacity="0.5"><circle cx="13.5" cy="36.9" r="0.75"/><circle cx="16.7" cy="26.7" r="0.75"/><circle cx="22.4" cy="17.0" r="0.75"/><circle cx="29.4" cy="9.7" r="0.75"/><circle cx="40.0" cy="4.9" r="0.75"/><circle cx="48.9" cy="2.7" r="0.75"/><circle cx="61.0" cy="1.2" r="0.75"/><circle cx="69.8" cy="2.7" r="0.75"/><circle cx="79.3" cy="7.4" r="0.75"/><circle cx="87.6" cy="13.8" r="0.75"/><circle cx="94.4" cy="22.7" r="0.75"/><circle cx="99.8" cy="32.7" r="0.75"/><circle cx="23.1" cy="38.0" r="0.75"/><circle cx="25.8" cy="30.1" r="0.75"/><circle cx="29.7" cy="22.5" r="0.75"/><circle cx="35.5" cy="18.6" r="0.75"/><circle cx="42.3" cy="13.4" r="0.75"/><circle cx="51.3" cy="11.8" r="0.75"/><circle cx="58.8" cy="10.1" r="0.75"/><circle cx="67.1" cy="12.0" r="0.75"/><circle cx="75.0" cy="16.5" r="0.75"/><circle cx="82.3" cy="21.5" r="0.75"/><circle cx="85.7" cy="26.3" r="0.75"/><circle cx="90.3" cy="35.6" r="0.75"/><circle cx="32.6" cy="40.0" r="0.75"/><circle cx="34.6" cy="31.7" r="0.75"/><circle cx="42.0" cy="26.1" r="0.75"/><circle cx="49.3" cy="22.2" r="0.75"/><circle cx="56.5" cy="19.0" r="0.75"/><circle cx="64.8" cy="21.3" r="0.75"/><circle cx="73.2" cy="26.4" r="0.75"/><circle cx="78.8" cy="32.2" r="0.75"/><circle cx="81.9" cy="39.7" r="0.75"/><circle cx="52.0" cy="36.2" r="0.75"/><circle cx="60.0" cy="34.2" r="0.75"/><circle cx="68.0" cy="37.1" r="0.75"/><circle cx="76.0" cy="34.9" r="0.75"/></g></g><g transform="translate(139,196) scale(0.6600,0.8400)" clip-path="url(#c_top)"><g filter="url(#bl)"><rect x="-30" y="-30" width="160" height="160" fill="#fa0000"/><ellipse cx="50" cy="62" rx="300.0" ry="27.0" fill="#ff0f00" transform="rotate(-4 50 62)"/><ellipse cx="50" cy="62" rx="274.3" ry="24.7" fill="#ff7b00" transform="rotate(-4 50 62)"/><ellipse cx="50" cy="62" rx="248.6" ry="22.4" fill="#ffe700" transform="rotate(-4 50 62)"/><ellipse cx="50" cy="62" rx="222.9" ry="20.1" fill="#abff54" transform="rotate(-4 50 62)"/><ellipse cx="50" cy="62" rx="197.1" ry="17.7" fill="#3fffc0" transform="rotate(-4 50 62)"/><ellipse cx="50" cy="62" rx="171.4" ry="15.4" fill="#00d3ff" transform="rotate(-4 50 62)"/><ellipse cx="50" cy="62" rx="145.7" ry="13.1" fill="#0067ff" transform="rotate(-4 50 62)"/><ellipse cx="50" cy="62" rx="120.0" ry="10.8" fill="#0000fa" transform="rotate(-4 50 62)"/><ellipse cx="6" cy="38" rx="12.0" ry="26.0" fill="#ff4c00"/><ellipse cx="6" cy="38" rx="11.1" ry="24.1" fill="#ff8700"/><ellipse cx="6" cy="38" rx="10.3" ry="22.3" fill="#ffc100"/><ellipse cx="6" cy="38" rx="9.4" ry="20.4" fill="#fffb00"/><ellipse cx="6" cy="38" rx="8.6" ry="18.6" fill="#c8ff37"/><ellipse cx="6" cy="38" rx="7.7" ry="16.7" fill="#8eff71"/><ellipse cx="6" cy="38" rx="6.9" ry="14.9" fill="#54ffab"/><ellipse cx="6" cy="38" rx="6.0" ry="13.0" fill="#1affe5"/><ellipse cx="50" cy="104" rx="50.0" ry="22.0" fill="#e50000"/><ellipse cx="50" cy="104" rx="47.1" ry="20.7" fill="#d70000"/><ellipse cx="50" cy="104" rx="44.3" ry="19.5" fill="#c80000"/><ellipse cx="50" cy="104" rx="41.4" ry="18.2" fill="#ba0000"/><ellipse cx="50" cy="104" rx="38.6" ry="17.0" fill="#ab0000"/><ellipse cx="50" cy="104" rx="35.7" ry="15.7" fill="#9d0000"/><ellipse cx="50" cy="104" rx="32.9" ry="14.5" fill="#8e0000"/><ellipse cx="50" cy="104" rx="30.0" ry="13.2" fill="#800000"/><ellipse cx="50" cy="3" rx="9.0" ry="7.0" fill="#ff1a00"/><ellipse cx="50" cy="3" rx="8.4" ry="6.5" fill="#ff3200"/><ellipse cx="50" cy="3" rx="7.7" ry="6.0" fill="#ff4b00"/><ellipse cx="50" cy="3" rx="7.1" ry="5.5" fill="#ff6400"/><ellipse cx="50" cy="3" rx="6.4" ry="5.0" fill="#ff7d00"/><ellipse cx="50" cy="3" rx="5.8" ry="4.5" fill="#ff9500"/><ellipse cx="50" cy="3" rx="5.1" ry="4.0" fill="#ffae00"/><ellipse cx="50" cy="3" rx="4.5" ry="3.5" fill="#ffc700"/><ellipse cx="0" cy="66" rx="11.0" ry="10.0" fill="#e50000"/><ellipse cx="0" cy="66" rx="10.6" ry="9.6" fill="#dd0000"/><ellipse cx="0" cy="66" rx="10.1" ry="9.2" fill="#d40000"/><ellipse cx="0" cy="66" rx="9.7" ry="8.8" fill="#cb0000"/><ellipse cx="0" cy="66" rx="9.2" ry="8.4" fill="#c30000"/><ellipse cx="0" cy="66" rx="8.8" ry="8.0" fill="#ba0000"/><ellipse cx="0" cy="66" rx="8.4" ry="7.6" fill="#b10000"/><ellipse cx="0" cy="66" rx="7.9" ry="7.2" fill="#a80000"/><ellipse cx="50" cy="30" rx="22.0" ry="14.0" fill="#fa0000"/><ellipse cx="50" cy="30" rx="20.4" ry="13.0" fill="#f30000"/><ellipse cx="50" cy="30" rx="18.9" ry="12.0" fill="#eb0000"/><ellipse cx="50" cy="30" rx="17.3" ry="11.0" fill="#e40000"/><ellipse cx="50" cy="30" rx="15.7" ry="10.0" fill="#dd0000"/><ellipse cx="50" cy="30" rx="14.1" ry="9.0" fill="#d50000"/><ellipse cx="50" cy="30" rx="12.6" ry="8.0" fill="#ce0000"/><ellipse cx="50" cy="30" rx="11.0" ry="7.0" fill="#c70000"/></g><rect x="0" y="0" width="100" height="100" fill="url(#shr)"/><g fill="#222" fill-opacity="0.5"><circle cx="32.8" cy="17.5" r="0.75"/><circle cx="40.6" cy="16.5" r="0.75"/><circle cx="49.5" cy="17.5" r="0.75"/><circle cx="59.4" cy="16.4" r="0.75"/><circle cx="67.1" cy="17.2" r="0.75"/><circle cx="26.8" cy="25.8" r="0.75"/><circle cx="38.7" cy="25.4" r="0.75"/><circle cx="49.6" cy="26.3" r="0.75"/><circle cx="62.4" cy="26.7" r="0.75"/><circle cx="73.8" cy="26.4" r="0.75"/><circle cx="84.0" cy="25.9" r="0.75"/><circle cx="16.4" cy="36.0" r="0.75"/><circle cx="26.6" cy="34.6" r="0.75"/><circle cx="38.5" cy="35.9" r="0.75"/><circle cx="49.8" cy="35.1" r="0.75"/><circle cx="61.8" cy="36.5" r="0.75"/><circle cx="72.5" cy="34.7" r="0.75"/><circle cx="84.2" cy="35.4" r="0.75"/><circle cx="15.9" cy="44.2" r="0.75"/><circle cx="27.6" cy="45.3" r="0.75"/><circle cx="38.5" cy="44.2" r="0.75"/><circle cx="50.9" cy="44.4" r="0.75"/><circle cx="62.1" cy="44.3" r="0.75"/><circle cx="72.4" cy="45.3" r="0.75"/><circle cx="84.1" cy="45.7" r="0.75"/><circle cx="15.5" cy="53.4" r="0.75"/><circle cx="26.4" cy="53.8" r="0.75"/><circle cx="38.8" cy="54.9" r="0.75"/><circle cx="49.3" cy="53.8" r="0.75"/><circle cx="60.9" cy="54.9" r="0.75"/><circle cx="72.3" cy="53.1" r="0.75"/><circle cx="83.6" cy="53.8" r="0.75"/><circle cx="16.3" cy="64.0" r="0.75"/><circle cx="27.5" cy="64.2" r="0.75"/><circle cx="39.4" cy="62.9" r="0.75"/><circle cx="49.4" cy="64.1" r="0.75"/><circle cx="62.0" cy="62.3" r="0.75"/><circle cx="73.3" cy="63.0" r="0.75"/><circle cx="84.2" cy="62.9" r="0.75"/><circle cx="14.8" cy="71.4" r="0.75"/><circle cx="26.6" cy="72.1" r="0.75"/><circle cx="39.4" cy="71.6" r="0.75"/><circle cx="50.9" cy="71.8" r="0.75"/><circle cx="61.2" cy="73.0" r="0.75"/><circle cx="73.6" cy="72.3" r="0.75"/><circle cx="83.6" cy="72.3" r="0.75"/><circle cx="15.2" cy="82.4" r="0.75"/><circle cx="26.4" cy="81.3" r="0.75"/><circle cx="39.3" cy="80.7" r="0.75"/><circle cx="49.8" cy="82.2" r="0.75"/><circle cx="62.0" cy="80.7" r="0.75"/><circle cx="72.1" cy="80.7" r="0.75"/><circle cx="85.3" cy="81.1" r="0.75"/><circle cx="32.5" cy="91.6" r="0.75"/><circle cx="40.7" cy="90.3" r="0.75"/><circle cx="50.9" cy="91.0" r="0.75"/><circle cx="58.5" cy="91.2" r="0.75"/><circle cx="67.6" cy="90.4" r="0.75"/></g></g><g transform="translate(221.8,196.7) scale(0.6370,0.8690)" clip-path="url(#c_back)"><g filter="url(#bl)"><rect x="-30" y="-30" width="160" height="160" fill="#b30000"/><ellipse cx="50" cy="-4" rx="74.0" ry="37.0" fill="#e50000"/><ellipse cx="50" cy="-4" rx="67.7" ry="33.8" fill="#ff5800"/><ellipse cx="50" cy="-4" rx="61.3" ry="30.7" fill="#ffca00"/><ellipse cx="50" cy="-4" rx="55.0" ry="27.5" fill="#c3ff3c"/><ellipse cx="50" cy="-4" rx="48.6" ry="24.3" fill="#51ffae"/><ellipse cx="50" cy="-4" rx="42.3" ry="21.1" fill="#00deff"/><ellipse cx="50" cy="-4" rx="35.9" ry="18.0" fill="#006dff"/><ellipse cx="50" cy="-4" rx="29.6" ry="14.8" fill="#0000fa"/><ellipse cx="50" cy="60" rx="36.0" ry="28.0" fill="#b30000"/><ellipse cx="50" cy="60" rx="33.4" ry="26.0" fill="#ab0000"/><ellipse cx="50" cy="60" rx="30.9" ry="24.0" fill="#a40000"/><ellipse cx="50" cy="60" rx="28.3" ry="22.0" fill="#9d0000"/><ellipse cx="50" cy="60" rx="25.7" ry="20.0" fill="#950000"/><ellipse cx="50" cy="60" rx="23.1" ry="18.0" fill="#8e0000"/><ellipse cx="50" cy="60" rx="20.6" ry="16.0" fill="#870000"/><ellipse cx="50" cy="60" rx="18.0" ry="14.0" fill="#800000"/><ellipse cx="50" cy="104" rx="40.0" ry="14.0" fill="#c70000"/><ellipse cx="50" cy="104" rx="37.1" ry="13.0" fill="#d10000"/><ellipse cx="50" cy="104" rx="34.3" ry="12.0" fill="#db0000"/><ellipse cx="50" cy="104" rx="31.4" ry="11.0" fill="#e50000"/><ellipse cx="50" cy="104" rx="28.6" ry="10.0" fill="#f00000"/><ellipse cx="50" cy="104" rx="25.7" ry="9.0" fill="#fa0000"/><ellipse cx="50" cy="104" rx="22.9" ry="8.0" fill="#ff0500"/><ellipse cx="50" cy="104" rx="20.0" ry="7.0" fill="#ff0f00"/></g><rect x="0" y="0" width="100" height="100" fill="url(#shd)"/><rect x="0" y="0" width="100" height="100" fill="url(#hl)"/><path d="M20.2,82.8 q0.0,1.4 -2.6,5.6 M35.0,68.8 q-2.1,2.7 -3.6,6.9 M47.5,69.7 q0.1,2.5 -1.7,3.5 M72.7,83.6 q-0.8,1.9 -0.5,4.6 M70.1,49.0 q0.3,1.9 2.1,6.4 M22.2,72.6 q1.9,5.3 1.4,7.8 M37.0,49.2 q1.8,2.3 2.3,5.0 M35.0,65.8 q0.3,4.2 -0.8,6.3 M62.5,51.1 q-0.6,1.7 -1.6,4.2 M67.2,55.0 q-0.5,3.2 1.1,4.1 M57.0,61.3 q0.5,3.2 0.9,7.9 M71.7,77.7 q-0.9,2.5 -1.7,3.1 M73.8,90.7 q-0.1,1.0 2.1,4.0 M82.3,74.2 q0.0,2.0 -2.1,4.4 M36.6,83.9 q-0.5,1.9 -1.6,3.2 M33.9,63.4 q0.0,2.2 1.5,3.7 M61.7,55.2 q1.7,1.1 2.3,4.0 M40.0,55.2 q-2.2,1.5 -1.7,5.5 M45.3,72.5 q-1.3,2.3 -0.5,3.4 M46.2,59.2 q0.2,4.0 1.6,7.6 M42.9,65.8 q-1.9,2.8 -3.0,7.4 M66.6,55.2 q1.6,4.2 3.7,6.5 M46.0,89.1 q-1.4,2.1 0.2,3.8 M61.0,90.5 q0.9,2.8 2.5,5.6 M29.3,59.2 q-1.3,3.8 -0.2,7.6 M71.5,93.3 q1.9,3.2 1.1,3.5 M50.9,47.7 q0.1,2.6 -2.1,4.5 M72.8,53.0 q-0.9,3.0 -1.2,3.9 M73.1,54.1 q0.8,2.0 1.5,4.8 M27.9,57.4 q-2.3,3.8 -1.7,7.3 " fill="none" stroke="#000" stroke-opacity="0.075" stroke-width="1.4" stroke-linecap="round" filter="url(#bl1)"/><g fill="#222" fill-opacity="0.5"><circle cx="4.7" cy="30.1" r="0.75"/><circle cx="6.7" cy="23.3" r="0.75"/><circle cx="10.1" cy="17.7" r="0.75"/><circle cx="15.8" cy="11.4" r="0.75"/><circle cx="22.6" cy="7.1" r="0.75"/><circle cx="31.0" cy="3.6" r="0.75"/><circle cx="40.3" cy="0.9" r="0.75"/><circle cx="49.2" cy="0.4" r="0.75"/><circle cx="59.9" cy="0.3" r="0.75"/><circle cx="69.9" cy="3.4" r="0.75"/><circle cx="77.9" cy="5.6" r="0.75"/><circle cx="85.3" cy="10.1" r="0.75"/><circle cx="90.5" cy="16.4" r="0.75"/><circle cx="94.6" cy="22.9" r="0.75"/><circle cx="97.7" cy="29.0" r="0.75"/><circle cx="13.4" cy="30.8" r="0.75"/><circle cx="15.8" cy="25.2" r="0.75"/><circle cx="19.9" cy="17.4" r="0.75"/><circle cx="26.6" cy="12.8" r="0.75"/><circle cx="35.8" cy="8.5" r="0.75"/><circle cx="45.1" cy="8.0" r="0.75"/><circle cx="54.8" cy="7.4" r="0.75"/><circle cx="63.4" cy="9.3" r="0.75"/><circle cx="72.8" cy="12.5" r="0.75"/><circle cx="80.9" cy="15.7" r="0.75"/><circle cx="86.0" cy="23.3" r="0.75"/><circle cx="87.6" cy="29.0" r="0.75"/><circle cx="23.6" cy="31.6" r="0.75"/><circle cx="26.4" cy="25.0" r="0.75"/><circle cx="31.8" cy="19.0" r="0.75"/><circle cx="39.2" cy="16.6" r="0.75"/><circle cx="48.0" cy="13.4" r="0.75"/><circle cx="58.3" cy="14.2" r="0.75"/><circle cx="66.1" cy="16.9" r="0.75"/><circle cx="73.3" cy="23.3" r="0.75"/><circle cx="78.4" cy="29.6" r="0.75"/><circle cx="34.4" cy="33.6" r="0.75"/><circle cx="37.1" cy="27.5" r="0.75"/><circle cx="44.5" cy="23.3" r="0.75"/><circle cx="53.1" cy="22.6" r="0.75"/><circle cx="60.3" cy="25.3" r="0.75"/><circle cx="64.7" cy="30.1" r="0.75"/><circle cx="20.0" cy="40.5" r="0.75"/><circle cx="35.0" cy="39.6" r="0.75"/><circle cx="50.0" cy="41.2" r="0.75"/><circle cx="65.0" cy="39.1" r="0.75"/><circle cx="80.0" cy="42.0" r="0.75"/><circle cx="28.0" cy="50.3" r="0.75"/><circle cx="50.0" cy="49.4" r="0.75"/><circle cx="72.0" cy="51.1" r="0.75"/></g></g><g transform="translate(132.5,332.5) scale(0.7350,0.9750)" clip-path="url(#c_top)"><g filter="url(#bl)"><rect x="-30" y="-30" width="160" height="160" fill="#00e5ff"/><ellipse cx="65" cy="22" rx="26.0" ry="13.0" fill="#00faff"/><ellipse cx="65" cy="22" rx="24.1" ry="12.1" fill="#09fff6"/><ellipse cx="65" cy="22" rx="22.3" ry="11.1" fill="#18ffe7"/><ellipse cx="65" cy="22" rx="20.4" ry="10.2" fill="#27ffd8"/><ellipse cx="65" cy="22" rx="18.6" ry="9.3" fill="#35ffca"/><ellipse cx="65" cy="22" rx="16.7" ry="8.4" fill="#44ffbb"/><ellipse cx="65" cy="22" rx="14.9" ry="7.4" fill="#52ffad"/><ellipse cx="65" cy="22" rx="13.0" ry="6.5" fill="#61ff9e"/><ellipse cx="22" cy="42" rx="20.0" ry="18.0" fill="#00d1ff"/><ellipse cx="22" cy="42" rx="18.6" ry="16.7" fill="#00c4ff"/><ellipse cx="22" cy="42" rx="17.1" ry="15.4" fill="#00b7ff"/><ellipse cx="22" cy="42" rx="15.7" ry="14.1" fill="#00aaff"/><ellipse cx="22" cy="42" rx="14.3" ry="12.9" fill="#009dff"/><ellipse cx="22" cy="42" rx="12.9" ry="11.6" fill="#0090ff"/><ellipse cx="22" cy="42" rx="11.4" ry="10.3" fill="#0082ff"/><ellipse cx="22" cy="42" rx="10.0" ry="9.0" fill="#0075ff"/><ellipse cx="46" cy="62" rx="56.0" ry="26.0" fill="#00d1ff" transform="rotate(-8 46 62)"/><ellipse cx="46" cy="62" rx="53.6" ry="24.9" fill="#00c0ff" transform="rotate(-8 46 62)"/><ellipse cx="46" cy="62" rx="51.2" ry="23.8" fill="#00aeff" transform="rotate(-8 46 62)"/><ellipse cx="46" cy="62" rx="48.8" ry="22.7" fill="#009dff" transform="rotate(-8 46 62)"/><ellipse cx="46" cy="62" rx="46.4" ry="21.5" fill="#008bff" transform="rotate(-8 46 62)"/><ellipse cx="46" cy="62" rx="44.0" ry="20.4" fill="#007aff" transform="rotate(-8 46 62)"/><ellipse cx="46" cy="62" rx="41.6" ry="19.3" fill="#0068ff" transform="rotate(-8 46 62)"/><ellipse cx="46" cy="62" rx="39.2" ry="18.2" fill="#0057ff" transform="rotate(-8 46 62)"/><ellipse cx="25" cy="65" rx="20.0" ry="13.0" fill="#0057ff"/><ellipse cx="25" cy="65" rx="18.6" ry="12.1" fill="#0048ff"/><ellipse cx="25" cy="65" rx="17.1" ry="11.1" fill="#003aff"/><ellipse cx="25" cy="65" rx="15.7" ry="10.2" fill="#002bff"/><ellipse cx="25" cy="65" rx="14.3" ry="9.3" fill="#001cff"/><ellipse cx="25" cy="65" rx="12.9" ry="8.4" fill="#000eff"/><ellipse cx="25" cy="65" rx="11.4" ry="7.4" fill="#0000fe"/><ellipse cx="25" cy="65" rx="10.0" ry="6.5" fill="#0000f0"/><ellipse cx="100" cy="42" rx="9.0" ry="15.0" fill="#4dffb3"/><ellipse cx="100" cy="42" rx="8.4" ry="13.9" fill="#7dff82"/><ellipse cx="100" cy="42" rx="7.7" ry="12.9" fill="#adff52"/><ellipse cx="100" cy="42" rx="7.1" ry="11.8" fill="#ddff22"/><ellipse cx="100" cy="42" rx="6.4" ry="10.7" fill="#fff100"/><ellipse cx="100" cy="42" rx="5.8" ry="9.6" fill="#ffc100"/><ellipse cx="100" cy="42" rx="5.1" ry="8.6" fill="#ff9100"/><ellipse cx="100" cy="42" rx="4.5" ry="7.5" fill="#ff6100"/><ellipse cx="0" cy="60" rx="11.0" ry="10.0" fill="#4dffb3"/><ellipse cx="0" cy="60" rx="10.6" ry="9.6" fill="#6bff94"/><ellipse cx="0" cy="60" rx="10.1" ry="9.2" fill="#8aff75"/><ellipse cx="0" cy="60" rx="9.7" ry="8.8" fill="#a8ff57"/><ellipse cx="0" cy="60" rx="9.2" ry="8.4" fill="#c7ff38"/><ellipse cx="0" cy="60" rx="8.8" ry="8.0" fill="#e6ff19"/><ellipse cx="0" cy="60" rx="8.4" ry="7.6" fill="#fffa00"/><ellipse cx="0" cy="60" rx="7.9" ry="7.2" fill="#ffdb00"/><ellipse cx="50" cy="105" rx="44.0" ry="12.0" fill="#05fffa"/><ellipse cx="50" cy="105" rx="40.9" ry="11.1" fill="#28ffd7"/><ellipse cx="50" cy="105" rx="37.7" ry="10.3" fill="#4bffb4"/><ellipse cx="50" cy="105" rx="34.6" ry="9.4" fill="#6eff91"/><ellipse cx="50" cy="105" rx="31.4" ry="8.6" fill="#91ff6e"/><ellipse cx="50" cy="105" rx="28.3" ry="7.7" fill="#b4ff4b"/><ellipse cx="50" cy="105" rx="25.1" ry="6.9" fill="#d7ff28"/><ellipse cx="50" cy="105" rx="22.0" ry="6.0" fill="#faff05"/></g><rect x="0" y="0" width="100" height="100" fill="url(#shr)"/><g fill="#222" fill-opacity="0.5"><circle cx="31.9" cy="16.6" r="0.75"/><circle cx="41.5" cy="16.3" r="0.75"/><circle cx="50.6" cy="16.7" r="0.75"/><circle cx="59.3" cy="18.2" r="0.75"/><circle cx="68.2" cy="17.5" r="0.75"/><circle cx="26.0" cy="25.5" r="0.75"/><circle cx="37.8" cy="26.6" r="0.75"/><circle cx="49.9" cy="26.4" r="0.75"/><circle cx="62.3" cy="25.7" r="0.75"/><circle cx="72.5" cy="26.7" r="0.75"/><circle cx="83.5" cy="25.4" r="0.75"/><circle cx="15.2" cy="34.8" r="0.75"/><circle cx="26.7" cy="35.0" r="0.75"/><circle cx="38.7" cy="35.8" r="0.75"/><circle cx="49.4" cy="35.8" r="0.75"/><circle cx="61.4" cy="34.9" r="0.75"/><circle cx="73.9" cy="35.1" r="0.75"/><circle cx="83.8" cy="34.8" r="0.75"/><circle cx="15.8" cy="45.5" r="0.75"/><circle cx="27.6" cy="44.6" r="0.75"/><circle cx="38.0" cy="43.8" r="0.75"/><circle cx="50.3" cy="44.9" r="0.75"/><circle cx="61.2" cy="45.1" r="0.75"/><circle cx="72.9" cy="45.7" r="0.75"/><circle cx="85.0" cy="44.3" r="0.75"/><circle cx="16.3" cy="53.1" r="0.75"/><circle cx="27.1" cy="53.8" r="0.75"/><circle cx="38.0" cy="53.1" r="0.75"/><circle cx="50.6" cy="53.0" r="0.75"/><circle cx="61.6" cy="54.9" r="0.75"/><circle cx="72.3" cy="53.4" r="0.75"/><circle cx="84.7" cy="54.0" r="0.75"/><circle cx="15.8" cy="63.8" r="0.75"/><circle cx="26.3" cy="62.8" r="0.75"/><circle cx="38.1" cy="62.3" r="0.75"/><circle cx="50.8" cy="63.8" r="0.75"/><circle cx="61.9" cy="62.2" r="0.75"/><circle cx="73.7" cy="63.7" r="0.75"/><circle cx="84.4" cy="63.7" r="0.75"/><circle cx="15.4" cy="71.9" r="0.75"/><circle cx="26.2" cy="71.9" r="0.75"/><circle cx="37.6" cy="72.1" r="0.75"/><circle cx="50.5" cy="72.8" r="0.75"/><circle cx="62.2" cy="72.8" r="0.75"/><circle cx="72.5" cy="72.5" r="0.75"/><circle cx="84.4" cy="73.0" r="0.75"/><circle cx="15.5" cy="81.1" r="0.75"/><circle cx="27.3" cy="82.5" r="0.75"/><circle cx="37.9" cy="82.4" r="0.75"/><circle cx="49.0" cy="81.1" r="0.75"/><circle cx="61.0" cy="82.1" r="0.75"/><circle cx="73.9" cy="82.1" r="0.75"/><circle cx="84.2" cy="82.4" r="0.75"/><circle cx="31.7" cy="90.3" r="0.75"/><circle cx="41.8" cy="91.1" r="0.75"/><circle cx="50.4" cy="91.1" r="0.75"/><circle cx="60.0" cy="90.7" r="0.75"/><circle cx="68.7" cy="91.2" r="0.75"/></g></g><g transform="translate(217,335) scale(0.8550,0.8900)" clip-path="url(#c_side)"><g filter="url(#bl)"><rect x="-30" y="-30" width="160" height="160" fill="#bdff42"/><ellipse cx="8" cy="62" rx="36.0" ry="58.0" fill="#94ff6b"/><ellipse cx="8" cy="62" rx="33.9" ry="54.7" fill="#87ff78"/><ellipse cx="8" cy="62" rx="31.9" ry="51.4" fill="#7aff85"/><ellipse cx="8" cy="62" rx="29.8" ry="48.1" fill="#6dff92"/><ellipse cx="8" cy="62" rx="27.8" ry="44.7" fill="#5fffa0"/><ellipse cx="8" cy="62" rx="25.7" ry="41.4" fill="#52ffad"/><ellipse cx="8" cy="62" rx="23.7" ry="38.1" fill="#45ffba"/><ellipse cx="8" cy="62" rx="21.6" ry="34.8" fill="#38ffc7"/><ellipse cx="40" cy="10" rx="62.0" ry="25.0" fill="#42ffbd" transform="rotate(-22 40 10)"/><ellipse cx="40" cy="10" rx="58.5" ry="23.6" fill="#22ffdd" transform="rotate(-22 40 10)"/><ellipse cx="40" cy="10" rx="54.9" ry="22.1" fill="#02fffd" transform="rotate(-22 40 10)"/><ellipse cx="40" cy="10" rx="51.4" ry="20.7" fill="#00e1ff" transform="rotate(-22 40 10)"/><ellipse cx="40" cy="10" rx="47.8" ry="19.3" fill="#00c1ff" transform="rotate(-22 40 10)"/><ellipse cx="40" cy="10" rx="44.3" ry="17.9" fill="#00a1ff" transform="rotate(-22 40 10)"/><ellipse cx="40" cy="10" rx="40.7" ry="16.4" fill="#0081ff" transform="rotate(-22 40 10)"/><ellipse cx="40" cy="10" rx="37.2" ry="15.0" fill="#0061ff" transform="rotate(-22 40 10)"/><ellipse cx="60" cy="5" rx="24.0" ry="10.0" fill="#0061ff"/><ellipse cx="60" cy="5" rx="22.3" ry="9.3" fill="#004fff"/><ellipse cx="60" cy="5" rx="20.6" ry="8.6" fill="#003eff"/><ellipse cx="60" cy="5" rx="18.9" ry="7.9" fill="#002cff"/><ellipse cx="60" cy="5" rx="17.1" ry="7.1" fill="#001bff"/><ellipse cx="60" cy="5" rx="15.4" ry="6.4" fill="#0009ff"/><ellipse cx="60" cy="5" rx="13.7" ry="5.7" fill="#0000f7"/><ellipse cx="60" cy="5" rx="12.0" ry="5.0" fill="#0000e6"/><ellipse cx="68" cy="46" rx="29.0" ry="29.0" fill="#d1ff2e"/><ellipse cx="68" cy="46" rx="27.1" ry="27.1" fill="#e5ff1a"/><ellipse cx="68" cy="46" rx="25.3" ry="25.3" fill="#faff05"/><ellipse cx="68" cy="46" rx="23.4" ry="23.4" fill="#fff000"/><ellipse cx="68" cy="46" rx="21.5" ry="21.5" fill="#ffdb00"/><ellipse cx="68" cy="46" rx="19.7" ry="19.7" fill="#ffc700"/><ellipse cx="68" cy="46" rx="17.8" ry="17.8" fill="#ffb300"/><ellipse cx="68" cy="46" rx="16.0" ry="16.0" fill="#ff9e00"/><ellipse cx="76" cy="78" rx="18.0" ry="18.0" fill="#d1ff2e"/><ellipse cx="76" cy="78" rx="16.7" ry="16.7" fill="#d8ff27"/><ellipse cx="76" cy="78" rx="15.4" ry="15.4" fill="#e0ff1f"/><ellipse cx="76" cy="78" rx="14.1" ry="14.1" fill="#e7ff18"/><ellipse cx="76" cy="78" rx="12.9" ry="12.9" fill="#eeff11"/><ellipse cx="76" cy="78" rx="11.6" ry="11.6" fill="#f6ff09"/><ellipse cx="76" cy="78" rx="10.3" ry="10.3" fill="#fdff02"/><ellipse cx="76" cy="78" rx="9.0" ry="9.0" fill="#fffa00"/><ellipse cx="66" cy="92" rx="30.0" ry="18.0" fill="#bdff42"/><ellipse cx="66" cy="92" rx="27.9" ry="16.7" fill="#c3ff3c"/><ellipse cx="66" cy="92" rx="25.7" ry="15.4" fill="#c8ff37"/><ellipse cx="66" cy="92" rx="23.6" ry="14.1" fill="#ceff31"/><ellipse cx="66" cy="92" rx="21.4" ry="12.9" fill="#d4ff2b"/><ellipse cx="66" cy="92" rx="19.3" ry="11.6" fill="#daff25"/><ellipse cx="66" cy="92" rx="17.1" ry="10.3" fill="#e0ff1f"/><ellipse cx="66" cy="92" rx="15.0" ry="9.0" fill="#e5ff1a"/><ellipse cx="25" cy="82" rx="26.0" ry="24.0" fill="#94ff6b"/><ellipse cx="25" cy="82" rx="24.1" ry="22.3" fill="#8bff74"/><ellipse cx="25" cy="82" rx="22.3" ry="20.6" fill="#82ff7d"/><ellipse cx="25" cy="82" rx="20.4" ry="18.9" fill="#7aff85"/><ellipse cx="25" cy="82" rx="18.6" ry="17.1" fill="#71ff8e"/><ellipse cx="25" cy="82" rx="16.7" ry="15.4" fill="#68ff97"/><ellipse cx="25" cy="82" rx="14.9" ry="13.7" fill="#5fffa0"/><ellipse cx="25" cy="82" rx="13.0" ry="12.0" fill="#57ffa8"/></g><rect x="0" y="0" width="100" height="100" fill="url(#shd)"/><rect x="0" y="0" width="100" height="100" fill="url(#hl)"/><path d="M75.2,73.4 q1.2,1.5 3.5,4.7 M60.6,58.3 q-0.6,0.5 1.6,3.4 M79.6,69.5 q0.1,1.1 3.0,1.0 M61.3,84.3 q1.2,0.9 1.9,2.7 M72.7,89.4 q1.8,2.7 1.5,3.0 M80.5,59.5 q0.2,1.7 3.3,1.4 M72.3,81.6 q0.9,1.5 3.1,5.3 M28.1,86.8 q1.9,-0.6 4.3,1.7 M37.9,66.9 q0.9,3.3 2.9,3.9 M53.2,90.8 q0.8,1.0 2.1,2.3 M69.9,69.6 q0.9,3.3 3.5,4.5 M27.6,89.4 q0.5,1.3 2.8,1.0 M82.6,55.2 q3.0,0.8 4.2,3.5 M52.7,69.6 q2.4,1.2 2.2,3.7 M35.3,84.4 q1.8,-0.1 2.7,2.3 M70.9,84.3 q1.2,2.3 3.3,5.2 M46.5,92.4 q2.2,0.1 7.2,1.9 M38.3,92.9 q3.0,0.8 3.7,3.2 M50.6,77.3 q2.4,2.3 3.9,5.6 M42.3,61.5 q2.3,1.8 3.1,5.5 M49.2,87.5 q1.2,2.4 2.6,2.6 M36.8,63.0 q3.9,0.5 5.7,3.1 M31.7,65.4 q1.4,0.9 4.9,2.8 M33.7,96.0 q2.4,0.2 2.1,2.8 M45.8,96.3 q1.6,1.9 3.6,5.6 M61.6,59.5 q0.9,0.6 4.6,1.9 M71.0,84.1 q2.2,0.9 4.7,4.0 M59.4,72.0 q2.0,3.3 4.4,6.1 M68.4,72.7 q4.2,2.2 6.1,2.7 M65.4,90.8 q1.8,1.8 3.9,4.8 M61.0,59.1 q3.5,2.4 5.6,4.0 M37.5,72.8 q2.2,2.4 4.9,3.7 M79.7,62.7 q1.9,2.6 4.5,5.2 M82.4,56.6 q2.2,2.6 2.8,2.6 " fill="none" stroke="#000" stroke-opacity="0.075" stroke-width="1.4" stroke-linecap="round" filter="url(#bl1)"/><path d="M45,57 q3,-4 6,-2 q-3,3 -3,6 M43,64 q4,4 9,2 M47,70 q3,3 8,0 M40,74 q4,3 8,2" fill="none" stroke="#000" stroke-opacity="0.22" stroke-width="1.4" stroke-linecap="round" filter="url(#bl1)"/><g fill="#222" fill-opacity="0.5"><circle cx="14.0" cy="35.8" r="0.75"/><circle cx="17.2" cy="26.7" r="0.75"/><circle cx="23.0" cy="17.7" r="0.75"/><circle cx="30.4" cy="10.9" r="0.75"/><circle cx="39.3" cy="4.7" r="0.75"/><circle cx="50.3" cy="1.3" r="0.75"/><circle cx="60.4" cy="1.1" r="0.75"/><circle cx="71.0" cy="2.6" r="0.75"/><circle cx="81.1" cy="7.4" r="0.75"/><circle cx="87.5" cy="13.8" r="0.75"/><circle cx="94.6" cy="21.6" r="0.75"/><circle cx="98.8" cy="32.0" r="0.75"/><circle cx="23.7" cy="37.9" r="0.75"/><circle cx="25.3" cy="29.8" r="0.75"/><circle cx="30.5" cy="24.3" r="0.75"/><circle cx="36.0" cy="17.1" r="0.75"/><circle cx="43.7" cy="13.2" r="0.75"/><circle cx="50.5" cy="10.3" r="0.75"/><circle cx="59.9" cy="11.2" r="0.75"/><circle cx="67.8" cy="12.1" r="0.75"/><circle cx="75.2" cy="15.1" r="0.75"/><circle cx="82.5" cy="20.4" r="0.75"/><circle cx="86.9" cy="27.9" r="0.75"/><circle cx="90.5" cy="34.7" r="0.75"/><circle cx="32.3" cy="39.9" r="0.75"/><circle cx="34.9" cy="32.6" r="0.75"/><circle cx="40.8" cy="26.2" r="0.75"/><circle cx="48.1" cy="21.0" r="0.75"/><circle cx="56.5" cy="19.7" r="0.75"/><circle cx="64.8" cy="20.3" r="0.75"/><circle cx="73.3" cy="25.0" r="0.75"/><circle cx="77.9" cy="31.5" r="0.75"/><circle cx="81.3" cy="39.7" r="0.75"/><circle cx="52.0" cy="36.5" r="0.75"/><circle cx="60.0" cy="36.6" r="0.75"/><circle cx="68.0" cy="35.4" r="0.75"/><circle cx="76.0" cy="37.7" r="0.75"/></g></g><g transform="translate(401,335) scale(-0.8550,0.8900)" clip-path="url(#c_side)"><g filter="url(#bl)"><rect x="-30" y="-30" width="160" height="160" fill="#b3ff4c"/><ellipse cx="4" cy="58" rx="26.0" ry="52.0" fill="#94ff6b"/><ellipse cx="4" cy="58" rx="24.5" ry="49.0" fill="#87ff78"/><ellipse cx="4" cy="58" rx="23.0" ry="46.1" fill="#7aff85"/><ellipse cx="4" cy="58" rx="21.5" ry="43.1" fill="#6dff92"/><ellipse cx="4" cy="58" rx="20.1" ry="40.1" fill="#5fffa0"/><ellipse cx="4" cy="58" rx="18.6" ry="37.1" fill="#52ffad"/><ellipse cx="4" cy="58" rx="17.1" ry="34.2" fill="#45ffba"/><ellipse cx="4" cy="58" rx="15.6" ry="31.2" fill="#38ffc7"/><ellipse cx="60" cy="6" rx="42.0" ry="17.0" fill="#42ffbd"/><ellipse cx="60" cy="6" rx="39.0" ry="15.8" fill="#1fffe0"/><ellipse cx="60" cy="6" rx="36.0" ry="14.6" fill="#00fbff"/><ellipse cx="60" cy="6" rx="33.0" ry="13.4" fill="#00d8ff"/><ellipse cx="60" cy="6" rx="30.0" ry="12.1" fill="#00b5ff"/><ellipse cx="60" cy="6" rx="27.0" ry="10.9" fill="#0092ff"/><ellipse cx="60" cy="6" rx="24.0" ry="9.7" fill="#006fff"/><ellipse cx="60" cy="6" rx="21.0" ry="8.5" fill="#004dff"/><ellipse cx="85" cy="45" rx="14.0" ry="22.0" fill="#94ff6b"/><ellipse cx="85" cy="45" rx="13.0" ry="20.4" fill="#8bff74"/><ellipse cx="85" cy="45" rx="12.0" ry="18.9" fill="#82ff7d"/><ellipse cx="85" cy="45" rx="11.0" ry="17.3" fill="#7aff85"/><ellipse cx="85" cy="45" rx="10.0" ry="15.7" fill="#71ff8e"/><ellipse cx="85" cy="45" rx="9.0" ry="14.1" fill="#68ff97"/><ellipse cx="85" cy="45" rx="8.0" ry="12.6" fill="#5fffa0"/><ellipse cx="85" cy="45" rx="7.0" ry="11.0" fill="#57ffa8"/><ellipse cx="45" cy="40" rx="16.0" ry="24.0" fill="#bdff42" transform="rotate(-25 45 40)"/><ellipse cx="45" cy="40" rx="14.9" ry="22.3" fill="#c5ff3a" transform="rotate(-25 45 40)"/><ellipse cx="45" cy="40" rx="13.7" ry="20.6" fill="#ceff31" transform="rotate(-25 45 40)"/><ellipse cx="45" cy="40" rx="12.6" ry="18.9" fill="#d7ff28" transform="rotate(-25 45 40)"/><ellipse cx="45" cy="40" rx="11.4" ry="17.1" fill="#e0ff1f" transform="rotate(-25 45 40)"/><ellipse cx="45" cy="40" rx="10.3" ry="15.4" fill="#e8ff17" transform="rotate(-25 45 40)"/><ellipse cx="45" cy="40" rx="9.1" ry="13.7" fill="#f1ff0e" transform="rotate(-25 45 40)"/><ellipse cx="45" cy="40" rx="8.0" ry="12.0" fill="#faff05" transform="rotate(-25 45 40)"/><ellipse cx="43" cy="30" rx="16.0" ry="19.0" fill="#d1ff2e"/><ellipse cx="43" cy="30" rx="14.9" ry="17.6" fill="#f7ff08"/><ellipse cx="43" cy="30" rx="13.7" ry="16.3" fill="#ffe100"/><ellipse cx="43" cy="30" rx="12.6" ry="14.9" fill="#ffbb00"/><ellipse cx="43" cy="30" rx="11.4" ry="13.6" fill="#ff9500"/><ellipse cx="43" cy="30" rx="10.3" ry="12.2" fill="#ff6f00"/><ellipse cx="43" cy="30" rx="9.1" ry="10.9" fill="#ff4a00"/><ellipse cx="43" cy="30" rx="8.0" ry="9.5" fill="#ff2400"/><ellipse cx="6" cy="66" rx="14.0" ry="27.0" fill="#6bff94"/><ellipse cx="6" cy="66" rx="13.0" ry="25.1" fill="#62ff9d"/><ellipse cx="6" cy="66" rx="12.0" ry="23.1" fill="#5affa5"/><ellipse cx="6" cy="66" rx="11.0" ry="21.2" fill="#51ffae"/><ellipse cx="6" cy="66" rx="10.0" ry="19.3" fill="#48ffb7"/><ellipse cx="6" cy="66" rx="9.0" ry="17.4" fill="#3fffc0"/><ellipse cx="6" cy="66" rx="8.0" ry="15.4" fill="#37ffc8"/><ellipse cx="6" cy="66" rx="7.0" ry="13.5" fill="#2effd1"/><ellipse cx="13" cy="32" rx="12.0" ry="17.0" fill="#57ffa8"/><ellipse cx="13" cy="32" rx="11.1" ry="15.8" fill="#48ffb7"/><ellipse cx="13" cy="32" rx="10.3" ry="14.6" fill="#3affc5"/><ellipse cx="13" cy="32" rx="9.4" ry="13.4" fill="#2bffd4"/><ellipse cx="13" cy="32" rx="8.6" ry="12.1" fill="#1cffe3"/><ellipse cx="13" cy="32" rx="7.7" ry="10.9" fill="#0efff1"/><ellipse cx="13" cy="32" rx="6.9" ry="9.7" fill="#00feff"/><ellipse cx="13" cy="32" rx="6.0" ry="8.5" fill="#00f0ff"/><ellipse cx="88" cy="22" rx="14.0" ry="15.0" fill="#57ffa8"/><ellipse cx="88" cy="22" rx="13.0" ry="13.9" fill="#4bffb4"/><ellipse cx="88" cy="22" rx="12.0" ry="12.9" fill="#3fffc0"/><ellipse cx="88" cy="22" rx="11.0" ry="11.8" fill="#34ffcb"/><ellipse cx="88" cy="22" rx="10.0" ry="10.7" fill="#28ffd7"/><ellipse cx="88" cy="22" rx="9.0" ry="9.6" fill="#1cffe3"/><ellipse cx="88" cy="22" rx="8.0" ry="8.6" fill="#11ffee"/><ellipse cx="88" cy="22" rx="7.0" ry="7.5" fill="#05fffa"/></g><rect x="0" y="0" width="100" height="100" fill="url(#shd)"/><rect x="0" y="0" width="100" height="100" fill="url(#hl)"/><path d="M75.0,57.4 q2.8,2.2 3.8,6.5 M73.5,81.6 q2.9,0.8 3.0,0.6 M37.5,59.3 q2.8,0.2 4.0,1.3 M31.5,93.0 q2.2,1.9 2.1,3.2 M70.4,83.1 q2.6,2.2 3.1,6.2 M65.0,77.3 q2.7,2.3 3.0,4.2 M38.4,64.8 q1.3,0.8 5.2,1.7 M31.0,75.6 q3.3,0.3 4.4,3.7 M74.1,74.7 q3.3,1.8 4.6,4.4 M48.0,95.3 q3.4,-0.6 6.0,1.6 M59.8,83.7 q2.4,2.2 1.9,4.2 M52.0,92.7 q3.6,0.2 6.4,1.4 M75.4,70.4 q3.0,0.9 4.4,3.5 M49.0,72.7 q2.0,3.4 5.2,4.9 M47.0,76.2 q3.9,1.7 5.0,2.5 M71.1,68.9 q2.2,1.5 3.9,2.2 M70.6,56.7 q2.4,1.6 4.4,6.0 M40.6,55.3 q3.9,1.9 7.1,2.8 M70.9,93.2 q2.5,2.8 4.2,4.4 M59.0,83.6 q2.8,2.0 5.8,2.4 M28.3,62.6 q4.6,1.2 6.7,1.5 M44.9,89.5 q0.8,1.8 3.1,4.9 M48.2,68.4 q3.8,0.5 5.0,3.6 M57.2,56.7 q3.6,2.3 6.7,2.1 M49.7,55.6 q3.8,3.1 5.0,3.3 M51.5,72.3 q2.1,-0.2 6.0,1.7 M23.0,55.2 q2.5,0.2 2.3,2.8 M75.9,60.4 q2.5,1.3 6.5,1.3 M33.6,57.1 q2.9,3.4 3.6,5.5 M27.2,81.4 q2.9,1.4 3.2,4.2 M81.8,85.1 q2.0,1.2 3.0,0.6 M26.9,68.1 q2.2,1.5 2.3,3.1 M25.7,70.4 q2.4,0.8 3.7,3.6 M71.4,70.3 q1.8,2.0 4.1,4.6 " fill="none" stroke="#000" stroke-opacity="0.075" stroke-width="1.4" stroke-linecap="round" filter="url(#bl1)"/><path d="M45,57 q3,-4 6,-2 q-3,3 -3,6 M43,64 q4,4 9,2 M47,70 q3,3 8,0 M40,74 q4,3 8,2" fill="none" stroke="#000" stroke-opacity="0.22" stroke-width="1.4" stroke-linecap="round" filter="url(#bl1)"/><g fill="#222" fill-opacity="0.5"><circle cx="14.5" cy="37.5" r="0.75"/><circle cx="17.6" cy="26.7" r="0.75"/><circle cx="22.1" cy="16.8" r="0.75"/><circle cx="31.0" cy="10.7" r="0.75"/><circle cx="39.9" cy="4.6" r="0.75"/><circle cx="49.6" cy="2.8" r="0.75"/><circle cx="60.7" cy="1.5" r="0.75"/><circle cx="70.1" cy="3.2" r="0.75"/><circle cx="80.9" cy="7.5" r="0.75"/><circle cx="88.8" cy="14.5" r="0.75"/><circle cx="95.6" cy="23.2" r="0.75"/><circle cx="98.6" cy="31.2" r="0.75"/><circle cx="22.8" cy="38.0" r="0.75"/><circle cx="25.9" cy="31.0" r="0.75"/><circle cx="30.8" cy="22.5" r="0.75"/><circle cx="36.6" cy="18.2" r="0.75"/><circle cx="43.8" cy="13.6" r="0.75"/><circle cx="50.6" cy="11.7" r="0.75"/><circle cx="60.0" cy="11.0" r="0.75"/><circle cx="68.4" cy="11.9" r="0.75"/><circle cx="74.3" cy="15.7" r="0.75"/><circle cx="82.2" cy="20.1" r="0.75"/><circle cx="87.1" cy="28.1" r="0.75"/><circle cx="89.3" cy="35.0" r="0.75"/><circle cx="33.0" cy="39.7" r="0.75"/><circle cx="35.0" cy="31.4" r="0.75"/><circle cx="41.6" cy="26.1" r="0.75"/><circle cx="48.5" cy="20.5" r="0.75"/><circle cx="57.6" cy="20.4" r="0.75"/><circle cx="64.9" cy="21.4" r="0.75"/><circle cx="73.7" cy="26.2" r="0.75"/><circle cx="78.4" cy="31.9" r="0.75"/><circle cx="81.5" cy="39.2" r="0.75"/><circle cx="52.0" cy="34.8" r="0.75"/><circle cx="60.0" cy="34.7" r="0.75"/><circle cx="68.0" cy="36.8" r="0.75"/><circle cx="76.0" cy="35.5" r="0.75"/></g></g><g transform="translate(137,435) scale(0.6800,0.8900)" clip-path="url(#c_top)"><g filter="url(#bl)"><rect x="-30" y="-30" width="160" height="160" fill="#61ff9e"/><ellipse cx="47" cy="34" rx="28.0" ry="19.0" fill="#94ff6b"/><ellipse cx="47" cy="34" rx="26.0" ry="17.6" fill="#b8ff47"/><ellipse cx="47" cy="34" rx="24.0" ry="16.3" fill="#ddff22"/><ellipse cx="47" cy="34" rx="22.0" ry="14.9" fill="#fffd00"/><ellipse cx="47" cy="34" rx="20.0" ry="13.6" fill="#ffd800"/><ellipse cx="47" cy="34" rx="18.0" ry="12.2" fill="#ffb400"/><ellipse cx="47" cy="34" rx="16.0" ry="10.9" fill="#ff9000"/><ellipse cx="47" cy="34" rx="14.0" ry="9.5" fill="#ff6b00"/><ellipse cx="50" cy="64" rx="150.0" ry="19.0" fill="#2effd1"/><ellipse cx="50" cy="64" rx="140.4" ry="17.8" fill="#00feff"/><ellipse cx="50" cy="64" rx="130.7" ry="16.6" fill="#00d0ff"/><ellipse cx="50" cy="64" rx="121.1" ry="15.3" fill="#00a1ff"/><ellipse cx="50" cy="64" rx="111.4" ry="14.1" fill="#0072ff"/><ellipse cx="50" cy="64" rx="101.8" ry="12.9" fill="#0044ff"/><ellipse cx="50" cy="64" rx="92.1" ry="11.7" fill="#0015ff"/><ellipse cx="50" cy="64" rx="82.5" ry="10.5" fill="#0000e6"/><ellipse cx="25" cy="66" rx="17.0" ry="9.0" fill="#0000e6"/><ellipse cx="25" cy="66" rx="15.8" ry="8.4" fill="#0000da"/><ellipse cx="25" cy="66" rx="14.6" ry="7.7" fill="#0000ce"/><ellipse cx="25" cy="66" rx="13.4" ry="7.1" fill="#0000c3"/><ellipse cx="25" cy="66" rx="12.1" ry="6.4" fill="#0000b7"/><ellipse cx="25" cy="66" rx="10.9" ry="5.8" fill="#0000ab"/><ellipse cx="25" cy="66" rx="9.7" ry="5.1" fill="#0000a0"/><ellipse cx="25" cy="66" rx="8.5" ry="4.5" fill="#000094"/><ellipse cx="50" cy="109" rx="58.0" ry="27.0" fill="#94ff6b"/><ellipse cx="50" cy="109" rx="54.7" ry="25.5" fill="#ceff31"/><ellipse cx="50" cy="109" rx="51.4" ry="23.9" fill="#fff600"/><ellipse cx="50" cy="109" rx="48.1" ry="22.4" fill="#ffbb00"/><ellipse cx="50" cy="109" rx="44.7" ry="20.8" fill="#ff8100"/><ellipse cx="50" cy="109" rx="41.4" ry="19.3" fill="#ff4700"/><ellipse cx="50" cy="109" rx="38.1" ry="17.7" fill="#ff0c00"/><ellipse cx="50" cy="109" rx="34.8" ry="16.2" fill="#d10000"/><ellipse cx="0" cy="65" rx="11.0" ry="10.0" fill="#80ff80"/><ellipse cx="0" cy="65" rx="10.6" ry="9.6" fill="#a0ff5f"/><ellipse cx="0" cy="65" rx="10.1" ry="9.2" fill="#c0ff3f"/><ellipse cx="0" cy="65" rx="9.7" ry="8.8" fill="#e0ff1f"/><ellipse cx="0" cy="65" rx="9.2" ry="8.4" fill="#fffe00"/><ellipse cx="0" cy="65" rx="8.8" ry="8.0" fill="#ffde00"/><ellipse cx="0" cy="65" rx="8.4" ry="7.6" fill="#ffbe00"/><ellipse cx="0" cy="65" rx="7.9" ry="7.2" fill="#ff9e00"/></g><rect x="0" y="0" width="100" height="100" fill="url(#shr)"/><g fill="#222" fill-opacity="0.5"><circle cx="32.1" cy="17.0" r="0.75"/><circle cx="41.0" cy="16.5" r="0.75"/><circle cx="49.1" cy="18.2" r="0.75"/><circle cx="58.7" cy="16.4" r="0.75"/><circle cx="68.3" cy="17.8" r="0.75"/><circle cx="27.2" cy="26.1" r="0.75"/><circle cx="38.5" cy="25.4" r="0.75"/><circle cx="49.1" cy="27.4" r="0.75"/><circle cx="62.2" cy="26.4" r="0.75"/><circle cx="73.1" cy="25.9" r="0.75"/><circle cx="85.1" cy="26.3" r="0.75"/><circle cx="16.4" cy="36.1" r="0.75"/><circle cx="27.6" cy="36.5" r="0.75"/><circle cx="38.0" cy="34.7" r="0.75"/><circle cx="49.4" cy="35.0" r="0.75"/><circle cx="60.7" cy="34.7" r="0.75"/><circle cx="73.1" cy="36.3" r="0.75"/><circle cx="84.4" cy="36.5" r="0.75"/><circle cx="16.3" cy="43.9" r="0.75"/><circle cx="27.2" cy="44.6" r="0.75"/><circle cx="37.7" cy="45.7" r="0.75"/><circle cx="49.5" cy="44.9" r="0.75"/><circle cx="61.8" cy="45.7" r="0.75"/><circle cx="73.3" cy="44.6" r="0.75"/><circle cx="84.4" cy="44.1" r="0.75"/><circle cx="16.4" cy="55.0" r="0.75"/><circle cx="26.4" cy="53.1" r="0.75"/><circle cx="38.0" cy="53.7" r="0.75"/><circle cx="50.8" cy="54.8" r="0.75"/><circle cx="62.2" cy="53.1" r="0.75"/><circle cx="73.6" cy="54.4" r="0.75"/><circle cx="84.8" cy="55.0" r="0.75"/><circle cx="14.6" cy="62.5" r="0.75"/><circle cx="27.5" cy="64.1" r="0.75"/><circle cx="38.9" cy="62.8" r="0.75"/><circle cx="50.2" cy="63.7" r="0.75"/><circle cx="60.7" cy="62.8" r="0.75"/><circle cx="72.5" cy="62.4" r="0.75"/><circle cx="84.5" cy="62.5" r="0.75"/><circle cx="15.0" cy="71.7" r="0.75"/><circle cx="27.4" cy="71.4" r="0.75"/><circle cx="38.9" cy="71.8" r="0.75"/><circle cx="49.1" cy="73.3" r="0.75"/><circle cx="60.9" cy="73.3" r="0.75"/><circle cx="73.7" cy="73.2" r="0.75"/><circle cx="83.8" cy="72.3" r="0.75"/><circle cx="14.7" cy="82.5" r="0.75"/><circle cx="27.7" cy="81.9" r="0.75"/><circle cx="38.4" cy="81.3" r="0.75"/><circle cx="50.6" cy="81.6" r="0.75"/><circle cx="61.8" cy="80.9" r="0.75"/><circle cx="72.4" cy="80.7" r="0.75"/><circle cx="84.9" cy="81.7" r="0.75"/><circle cx="31.3" cy="91.5" r="0.75"/><circle cx="40.5" cy="90.6" r="0.75"/><circle cx="49.3" cy="90.3" r="0.75"/><circle cx="59.7" cy="90.5" r="0.75"/><circle cx="67.3" cy="90.8" r="0.75"/></g></g><g transform="translate(223,435) scale(0.6250,0.8250)" clip-path="url(#c_back)"><g filter="url(#bl)"><rect x="-30" y="-30" width="160" height="160" fill="#ff6100"/><ellipse cx="50" cy="-6" rx="72.0" ry="28.0" fill="#ff7500"/><ellipse cx="50" cy="-6" rx="65.8" ry="25.6" fill="#ffd500"/><ellipse cx="50" cy="-6" rx="59.7" ry="23.2" fill="#c8ff37"/><ellipse cx="50" cy="-6" rx="53.5" ry="20.8" fill="#68ff97"/><ellipse cx="50" cy="-6" rx="47.3" ry="18.4" fill="#08fff7"/><ellipse cx="50" cy="-6" rx="41.1" ry="16.0" fill="#00a7ff"/><ellipse cx="50" cy="-6" rx="35.0" ry="13.6" fill="#0047ff"/><ellipse cx="50" cy="-6" rx="28.8" ry="11.2" fill="#0000e5"/><ellipse cx="55" cy="42" rx="36.0" ry="24.0" fill="#ff4c00"/><ellipse cx="55" cy="42" rx="33.4" ry="22.3" fill="#ff4200"/><ellipse cx="55" cy="42" rx="30.9" ry="20.6" fill="#ff3800"/><ellipse cx="55" cy="42" rx="28.3" ry="18.9" fill="#ff2e00"/><ellipse cx="55" cy="42" rx="25.7" ry="17.1" fill="#ff2400"/><ellipse cx="55" cy="42" rx="23.1" ry="15.4" fill="#ff1a00"/><ellipse cx="55" cy="42" rx="20.6" ry="13.7" fill="#ff0f00"/><ellipse cx="55" cy="42" rx="18.0" ry="12.0" fill="#ff0500"/><ellipse cx="3" cy="62" rx="9.0" ry="26.0" fill="#ffb300"/><ellipse cx="3" cy="62" rx="8.4" ry="24.1" fill="#ffc500"/><ellipse cx="3" cy="62" rx="7.7" ry="22.3" fill="#ffd800"/><ellipse cx="3" cy="62" rx="7.1" ry="20.4" fill="#ffeb00"/><ellipse cx="3" cy="62" rx="6.4" ry="18.6" fill="#fffe00"/><ellipse cx="3" cy="62" rx="5.8" ry="16.7" fill="#edff12"/><ellipse cx="3" cy="62" rx="5.1" ry="14.9" fill="#daff25"/><ellipse cx="3" cy="62" rx="4.5" ry="13.0" fill="#c7ff38"/><ellipse cx="50" cy="103" rx="36.0" ry="11.0" fill="#ff7500"/><ellipse cx="50" cy="103" rx="33.4" ry="10.2" fill="#ff7e00"/><ellipse cx="50" cy="103" rx="30.9" ry="9.4" fill="#ff8700"/><ellipse cx="50" cy="103" rx="28.3" ry="8.6" fill="#ff9000"/><ellipse cx="50" cy="103" rx="25.7" ry="7.9" fill="#ff9800"/><ellipse cx="50" cy="103" rx="23.1" ry="7.1" fill="#ffa100"/><ellipse cx="50" cy="103" rx="20.6" ry="6.3" fill="#ffaa00"/><ellipse cx="50" cy="103" rx="18.0" ry="5.5" fill="#ffb300"/></g><rect x="0" y="0" width="100" height="100" fill="url(#shd)"/><rect x="0" y="0" width="100" height="100" fill="url(#hl)"/><path d="M40.4,90.2 q0.2,4.8 3.1,7.3 M62.8,55.6 q-0.7,1.3 0.1,4.4 M43.3,94.6 q-3.1,2.7 -3.8,6.6 M77.4,47.9 q0.9,0.7 -1.0,4.3 M71.6,62.0 q1.6,1.5 1.1,2.8 M31.9,66.8 q-0.6,0.8 -1.7,3.7 M31.5,83.5 q-1.7,0.7 -0.9,3.9 M58.9,69.8 q0.8,2.6 0.9,3.9 M71.9,74.1 q1.2,1.3 1.0,3.2 M66.2,47.8 q0.3,3.3 -1.5,4.4 M51.6,45.8 q-0.0,1.7 -2.2,4.9 M31.9,86.6 q-0.1,2.2 0.5,3.8 M20.3,71.0 q-1.0,3.4 0.3,5.6 M72.3,88.3 q0.3,4.0 1.2,6.4 M23.9,88.6 q-1.2,2.5 -2.5,4.9 M54.4,46.0 q-1.9,0.6 -1.9,3.6 M36.0,85.9 q1.4,0.6 1.6,3.1 M21.1,75.0 q0.4,1.6 -0.4,5.6 M75.6,80.9 q0.8,1.6 1.7,3.2 M37.9,51.1 q0.5,2.9 0.4,3.7 M29.4,73.6 q0.5,3.2 -1.0,3.7 M44.9,66.0 q-1.3,4.0 -2.0,5.3 M69.7,61.9 q0.4,3.7 1.3,4.5 M71.5,90.6 q-2.5,3.5 -2.3,6.8 M81.3,91.7 q1.1,2.1 1.3,4.9 M54.0,48.5 q-1.2,1.7 0.4,5.5 M82.1,83.8 q-0.4,3.9 -2.7,5.5 M76.6,46.7 q0.2,1.5 -0.6,4.3 M54.7,91.2 q-0.2,1.9 -0.5,4.2 M80.9,59.4 q-0.5,3.3 1.3,6.1 " fill="none" stroke="#000" stroke-opacity="0.075" stroke-width="1.4" stroke-linecap="round" filter="url(#bl1)"/><g fill="#222" fill-opacity="0.5"><circle cx="5.1" cy="31.1" r="0.75"/><circle cx="5.6" cy="24.0" r="0.75"/><circle cx="10.0" cy="16.9" r="0.75"/><circle cx="14.8" cy="11.1" r="0.75"/><circle cx="22.3" cy="6.8" r="0.75"/><circle cx="30.7" cy="2.8" r="0.75"/><circle cx="39.6" cy="1.1" r="0.75"/><circle cx="50.9" cy="0.4" r="0.75"/><circle cx="60.1" cy="1.1" r="0.75"/><circle cx="68.8" cy="3.3" r="0.75"/><circle cx="77.9" cy="6.4" r="0.75"/><circle cx="85.6" cy="10.9" r="0.75"/><circle cx="90.9" cy="16.1" r="0.75"/><circle cx="94.9" cy="23.0" r="0.75"/><circle cx="97.4" cy="30.0" r="0.75"/><circle cx="12.2" cy="31.3" r="0.75"/><circle cx="16.0" cy="24.1" r="0.75"/><circle cx="20.0" cy="18.3" r="0.75"/><circle cx="26.1" cy="14.0" r="0.75"/><circle cx="34.5" cy="9.7" r="0.75"/><circle cx="43.7" cy="6.2" r="0.75"/><circle cx="55.1" cy="6.6" r="0.75"/><circle cx="63.1" cy="8.1" r="0.75"/><circle cx="72.7" cy="12.1" r="0.75"/><circle cx="79.3" cy="15.9" r="0.75"/><circle cx="86.4" cy="22.9" r="0.75"/><circle cx="87.7" cy="28.9" r="0.75"/><circle cx="22.8" cy="32.6" r="0.75"/><circle cx="25.9" cy="26.2" r="0.75"/><circle cx="31.8" cy="19.8" r="0.75"/><circle cx="39.6" cy="16.2" r="0.75"/><circle cx="49.1" cy="13.9" r="0.75"/><circle cx="58.8" cy="14.9" r="0.75"/><circle cx="67.9" cy="16.7" r="0.75"/><circle cx="74.7" cy="21.4" r="0.75"/><circle cx="78.6" cy="29.0" r="0.75"/><circle cx="35.1" cy="33.9" r="0.75"/><circle cx="38.0" cy="27.2" r="0.75"/><circle cx="44.8" cy="24.3" r="0.75"/><circle cx="52.6" cy="22.3" r="0.75"/><circle cx="60.1" cy="24.5" r="0.75"/><circle cx="65.9" cy="28.7" r="0.75"/><circle cx="20.0" cy="39.6" r="0.75"/><circle cx="35.0" cy="40.2" r="0.75"/><circle cx="50.0" cy="39.5" r="0.75"/><circle cx="65.0" cy="39.3" r="0.75"/><circle cx="80.0" cy="41.1" r="0.75"/><circle cx="28.0" cy="51.4" r="0.75"/><circle cx="50.0" cy="50.0" r="0.75"/><circle cx="72.0" cy="49.8" r="0.75"/></g></g><g transform="translate(131,564) scale(0.7500,1.0100)" clip-path="url(#c_top)"><g filter="url(#bl)"><rect x="-30" y="-30" width="160" height="160" fill="#0094ff"/><ellipse cx="20" cy="26" rx="22.0" ry="20.0" fill="#0080ff"/><ellipse cx="20" cy="26" rx="20.4" ry="18.6" fill="#006aff"/><ellipse cx="20" cy="26" rx="18.9" ry="17.1" fill="#0054ff"/><ellipse cx="20" cy="26" rx="17.3" ry="15.7" fill="#003eff"/><ellipse cx="20" cy="26" rx="15.7" ry="14.3" fill="#0028ff"/><ellipse cx="20" cy="26" rx="14.1" ry="12.9" fill="#0012ff"/><ellipse cx="20" cy="26" rx="12.6" ry="11.4" fill="#0000fb"/><ellipse cx="20" cy="26" rx="11.0" ry="10.0" fill="#0000e6"/><ellipse cx="60" cy="37" rx="36.0" ry="12.0" fill="#00c7ff"/><ellipse cx="60" cy="37" rx="33.4" ry="11.1" fill="#00ddff"/><ellipse cx="60" cy="37" rx="30.9" ry="10.3" fill="#00f3ff"/><ellipse cx="60" cy="37" rx="28.3" ry="9.4" fill="#09fff6"/><ellipse cx="60" cy="37" rx="25.7" ry="8.6" fill="#1fffe0"/><ellipse cx="60" cy="37" rx="23.1" ry="7.7" fill="#35ffca"/><ellipse cx="60" cy="37" rx="20.6" ry="6.9" fill="#4bffb4"/><ellipse cx="60" cy="37" rx="18.0" ry="6.0" fill="#61ff9e"/><ellipse cx="57" cy="69" rx="47.0" ry="24.0" fill="#0080ff"/><ellipse cx="57" cy="69" rx="44.4" ry="22.7" fill="#005fff"/><ellipse cx="57" cy="69" rx="41.9" ry="21.4" fill="#003fff"/><ellipse cx="57" cy="69" rx="39.3" ry="20.1" fill="#001fff"/><ellipse cx="57" cy="69" rx="36.8" ry="18.8" fill="#0000fe"/><ellipse cx="57" cy="69" rx="34.2" ry="17.5" fill="#0000de"/><ellipse cx="57" cy="69" rx="31.7" ry="16.2" fill="#0000be"/><ellipse cx="57" cy="69" rx="29.1" ry="14.9" fill="#00009e"/><ellipse cx="100" cy="42" rx="9.0" ry="14.0" fill="#4dffb3"/><ellipse cx="100" cy="42" rx="8.4" ry="13.0" fill="#7dff82"/><ellipse cx="100" cy="42" rx="7.7" ry="12.0" fill="#adff52"/><ellipse cx="100" cy="42" rx="7.1" ry="11.0" fill="#ddff22"/><ellipse cx="100" cy="42" rx="6.4" ry="10.0" fill="#fff100"/><ellipse cx="100" cy="42" rx="5.8" ry="9.0" fill="#ffc100"/><ellipse cx="100" cy="42" rx="5.1" ry="8.0" fill="#ff9100"/><ellipse cx="100" cy="42" rx="4.5" ry="7.0" fill="#ff6100"/><ellipse cx="0" cy="60" rx="11.0" ry="10.0" fill="#4dffb3"/><ellipse cx="0" cy="60" rx="10.6" ry="9.6" fill="#74ff8b"/><ellipse cx="0" cy="60" rx="10.1" ry="9.2" fill="#9bff64"/><ellipse cx="0" cy="60" rx="9.7" ry="8.8" fill="#c3ff3c"/><ellipse cx="0" cy="60" rx="9.2" ry="8.4" fill="#eaff15"/><ellipse cx="0" cy="60" rx="8.8" ry="8.0" fill="#ffed00"/><ellipse cx="0" cy="60" rx="8.4" ry="7.6" fill="#ffc500"/><ellipse cx="0" cy="60" rx="7.9" ry="7.2" fill="#ff9e00"/><ellipse cx="40" cy="105" rx="40.0" ry="11.0" fill="#00f0ff"/><ellipse cx="40" cy="105" rx="37.1" ry="10.2" fill="#11ffee"/><ellipse cx="40" cy="105" rx="34.3" ry="9.4" fill="#31ffce"/><ellipse cx="40" cy="105" rx="31.4" ry="8.6" fill="#51ffae"/><ellipse cx="40" cy="105" rx="28.6" ry="7.9" fill="#71ff8e"/><ellipse cx="40" cy="105" rx="25.7" ry="7.1" fill="#91ff6e"/><ellipse cx="40" cy="105" rx="22.9" ry="6.3" fill="#b1ff4e"/><ellipse cx="40" cy="105" rx="20.0" ry="5.5" fill="#d1ff2e"/></g><rect x="0" y="0" width="100" height="100" fill="url(#shr)"/><g fill="#222" fill-opacity="0.5"><circle cx="31.4" cy="16.8" r="0.75"/><circle cx="40.3" cy="17.4" r="0.75"/><circle cx="50.2" cy="16.4" r="0.75"/><circle cx="59.8" cy="16.8" r="0.75"/><circle cx="68.7" cy="17.9" r="0.75"/><circle cx="16.4" cy="25.8" r="0.75"/><circle cx="26.9" cy="27.2" r="0.75"/><circle cx="37.5" cy="25.5" r="0.75"/><circle cx="50.1" cy="26.4" r="0.75"/><circle cx="62.3" cy="26.9" r="0.75"/><circle cx="73.1" cy="27.4" r="0.75"/><circle cx="84.5" cy="26.4" r="0.75"/><circle cx="15.9" cy="35.4" r="0.75"/><circle cx="26.7" cy="35.8" r="0.75"/><circle cx="38.2" cy="36.5" r="0.75"/><circle cx="50.4" cy="35.7" r="0.75"/><circle cx="60.7" cy="35.3" r="0.75"/><circle cx="72.8" cy="35.7" r="0.75"/><circle cx="84.6" cy="36.4" r="0.75"/><circle cx="16.4" cy="44.8" r="0.75"/><circle cx="26.9" cy="45.0" r="0.75"/><circle cx="39.5" cy="44.5" r="0.75"/><circle cx="50.1" cy="45.4" r="0.75"/><circle cx="60.8" cy="44.4" r="0.75"/><circle cx="74.0" cy="45.5" r="0.75"/><circle cx="84.5" cy="44.0" r="0.75"/><circle cx="16.3" cy="54.4" r="0.75"/><circle cx="27.6" cy="55.0" r="0.75"/><circle cx="39.3" cy="53.8" r="0.75"/><circle cx="49.3" cy="53.6" r="0.75"/><circle cx="61.5" cy="54.0" r="0.75"/><circle cx="72.4" cy="53.4" r="0.75"/><circle cx="84.8" cy="54.2" r="0.75"/><circle cx="15.2" cy="64.2" r="0.75"/><circle cx="27.3" cy="62.3" r="0.75"/><circle cx="38.3" cy="63.8" r="0.75"/><circle cx="49.6" cy="63.6" r="0.75"/><circle cx="60.5" cy="62.8" r="0.75"/><circle cx="73.7" cy="63.4" r="0.75"/><circle cx="84.8" cy="62.6" r="0.75"/><circle cx="15.5" cy="72.5" r="0.75"/><circle cx="26.5" cy="72.7" r="0.75"/><circle cx="38.6" cy="73.4" r="0.75"/><circle cx="50.1" cy="72.2" r="0.75"/><circle cx="60.7" cy="71.7" r="0.75"/><circle cx="73.5" cy="71.6" r="0.75"/><circle cx="83.7" cy="71.7" r="0.75"/><circle cx="15.5" cy="82.2" r="0.75"/><circle cx="27.2" cy="82.2" r="0.75"/><circle cx="37.6" cy="80.6" r="0.75"/><circle cx="50.5" cy="81.2" r="0.75"/><circle cx="61.9" cy="81.3" r="0.75"/><circle cx="72.3" cy="81.1" r="0.75"/><circle cx="83.7" cy="82.4" r="0.75"/><circle cx="32.2" cy="90.5" r="0.75"/><circle cx="40.9" cy="90.6" r="0.75"/><circle cx="49.1" cy="91.6" r="0.75"/><circle cx="59.2" cy="91.7" r="0.75"/><circle cx="67.9" cy="91.0" r="0.75"/></g></g><g transform="translate(213.5,570.5) scale(0.8550,0.8700)" clip-path="url(#c_side)"><g filter="url(#bl)"><rect x="-30" y="-30" width="160" height="160" fill="#b3ff4c"/><ellipse cx="8" cy="62" rx="40.0" ry="62.0" fill="#80ff80"/><ellipse cx="8" cy="62" rx="37.7" ry="58.5" fill="#6bff94"/><ellipse cx="8" cy="62" rx="35.4" ry="54.9" fill="#57ffa8"/><ellipse cx="8" cy="62" rx="33.1" ry="51.4" fill="#42ffbd"/><ellipse cx="8" cy="62" rx="30.9" ry="47.8" fill="#2effd1"/><ellipse cx="8" cy="62" rx="28.6" ry="44.3" fill="#1affe5"/><ellipse cx="8" cy="62" rx="26.3" ry="40.7" fill="#05fffa"/><ellipse cx="8" cy="62" rx="24.0" ry="37.2" fill="#00f0ff"/><ellipse cx="70" cy="56" rx="30.0" ry="40.0" fill="#bdff42"/><ellipse cx="70" cy="56" rx="28.3" ry="37.7" fill="#c7ff38"/><ellipse cx="70" cy="56" rx="26.6" ry="35.4" fill="#d1ff2e"/><ellipse cx="70" cy="56" rx="24.9" ry="33.1" fill="#dbff24"/><ellipse cx="70" cy="56" rx="23.1" ry="30.9" fill="#e5ff1a"/><ellipse cx="70" cy="56" rx="21.4" ry="28.6" fill="#f0ff0f"/><ellipse cx="70" cy="56" rx="19.7" ry="26.3" fill="#faff05"/><ellipse cx="70" cy="56" rx="18.0" ry="24.0" fill="#fffa00"/><ellipse cx="34" cy="18" rx="54.0" ry="24.0" fill="#05fffa" transform="rotate(-25 34 18)"/><ellipse cx="34" cy="18" rx="51.3" ry="22.8" fill="#00e7ff" transform="rotate(-25 34 18)"/><ellipse cx="34" cy="18" rx="48.6" ry="21.6" fill="#00caff" transform="rotate(-25 34 18)"/><ellipse cx="34" cy="18" rx="45.9" ry="20.4" fill="#00adff" transform="rotate(-25 34 18)"/><ellipse cx="34" cy="18" rx="43.2" ry="19.2" fill="#0090ff" transform="rotate(-25 34 18)"/><ellipse cx="34" cy="18" rx="40.5" ry="18.0" fill="#0072ff" transform="rotate(-25 34 18)"/><ellipse cx="34" cy="18" rx="37.8" ry="16.8" fill="#0055ff" transform="rotate(-25 34 18)"/><ellipse cx="34" cy="18" rx="35.1" ry="15.6" fill="#0038ff" transform="rotate(-25 34 18)"/><ellipse cx="30" cy="27" rx="20.0" ry="13.0" fill="#0038ff"/><ellipse cx="30" cy="27" rx="18.6" ry="12.1" fill="#0024ff"/><ellipse cx="30" cy="27" rx="17.1" ry="11.1" fill="#000fff"/><ellipse cx="30" cy="27" rx="15.7" ry="10.2" fill="#0000fa"/><ellipse cx="30" cy="27" rx="14.3" ry="9.3" fill="#0000e6"/><ellipse cx="30" cy="27" rx="12.9" ry="8.4" fill="#0000d1"/><ellipse cx="30" cy="27" rx="11.4" ry="7.4" fill="#0000bd"/><ellipse cx="30" cy="27" rx="10.0" ry="6.5" fill="#0000a8"/><ellipse cx="70" cy="4" rx="20.0" ry="8.0" fill="#00b3ff"/><ellipse cx="70" cy="4" rx="18.6" ry="7.4" fill="#00a1ff"/><ellipse cx="70" cy="4" rx="17.1" ry="6.9" fill="#0090ff"/><ellipse cx="70" cy="4" rx="15.7" ry="6.3" fill="#007eff"/><ellipse cx="70" cy="4" rx="14.3" ry="5.7" fill="#006dff"/><ellipse cx="70" cy="4" rx="12.9" ry="5.1" fill="#005bff"/><ellipse cx="70" cy="4" rx="11.4" ry="4.6" fill="#004aff"/><ellipse cx="70" cy="4" rx="10.0" ry="4.0" fill="#0038ff"/><ellipse cx="68" cy="43" rx="19.0" ry="22.0" fill="#e5ff1a"/><ellipse cx="68" cy="43" rx="17.6" ry="20.4" fill="#fdff02"/><ellipse cx="68" cy="43" rx="16.3" ry="18.9" fill="#ffea00"/><ellipse cx="68" cy="43" rx="14.9" ry="17.3" fill="#ffd300"/><ellipse cx="68" cy="43" rx="13.6" ry="15.7" fill="#ffbb00"/><ellipse cx="68" cy="43" rx="12.2" ry="14.1" fill="#ffa400"/><ellipse cx="68" cy="43" rx="10.9" ry="12.6" fill="#ff8d00"/><ellipse cx="68" cy="43" rx="9.5" ry="11.0" fill="#ff7500"/></g><rect x="0" y="0" width="100" height="100" fill="url(#shd)"/><rect x="0" y="0" width="100" height="100" fill="url(#hl)"/><path d="M37.5,56.8 q0.9,4.5 3.0,6.6 M72.6,67.8 q2.7,4.2 5.4,5.6 M37.1,71.4 q0.7,2.8 2.5,3.3 M52.0,88.3 q1.3,-0.1 3.5,1.6 M82.2,67.2 q1.4,0.9 2.6,2.5 M47.0,57.7 q3.0,0.3 6.8,2.1 M33.9,66.9 q1.9,0.2 2.9,1.3 M31.7,84.6 q3.1,-0.5 4.2,1.2 M49.5,90.1 q0.6,2.3 2.0,3.2 M45.4,95.3 q3.6,0.7 7.2,3.0 M50.1,60.5 q2.5,2.0 2.6,3.4 M44.8,65.3 q2.5,0.3 2.8,2.9 M53.8,77.8 q2.7,2.0 6.2,3.0 M57.2,68.1 q0.5,2.0 2.9,1.9 M41.9,82.8 q2.4,0.8 5.6,1.7 M40.4,57.8 q0.7,1.6 3.6,2.0 M39.5,71.9 q2.6,4.2 3.0,6.2 M30.2,66.6 q3.6,0.2 6.3,1.3 M47.6,82.7 q2.3,1.2 2.6,3.3 M61.0,62.6 q4.3,1.7 7.2,2.2 M24.5,56.7 q1.3,0.3 3.8,1.3 M24.4,68.1 q2.3,1.7 2.6,2.9 M66.4,65.7 q2.1,0.4 5.2,3.8 M73.7,87.6 q2.5,1.1 2.9,1.5 M24.9,65.3 q2.5,2.2 6.7,2.0 M68.5,58.6 q2.3,2.9 3.1,3.9 M39.4,58.8 q2.3,2.9 2.0,4.7 M67.8,89.9 q0.4,2.5 3.5,3.9 M48.6,76.5 q1.5,0.3 1.5,3.3 M65.6,88.8 q4.0,1.7 5.2,2.5 M55.7,65.5 q2.1,-0.3 4.7,1.1 M41.3,60.7 q1.2,1.7 3.9,5.0 M54.0,73.7 q0.4,3.3 1.9,4.4 M30.8,78.7 q3.2,2.6 6.1,3.5 " fill="none" stroke="#000" stroke-opacity="0.075" stroke-width="1.4" stroke-linecap="round" filter="url(#bl1)"/><path d="M45,57 q3,-4 6,-2 q-3,3 -3,6 M43,64 q4,4 9,2 M47,70 q3,3 8,0 M40,74 q4,3 8,2" fill="none" stroke="#000" stroke-opacity="0.22" stroke-width="1.4" stroke-linecap="round" filter="url(#bl1)"/><g fill="#222" fill-opacity="0.5"><circle cx="13.3" cy="36.9" r="0.75"/><circle cx="17.3" cy="26.5" r="0.75"/><circle cx="23.1" cy="18.3" r="0.75"/><circle cx="29.3" cy="9.9" r="0.75"/><circle cx="38.9" cy="4.3" r="0.75"/><circle cx="48.5" cy="1.4" r="0.75"/><circle cx="59.4" cy="1.7" r="0.75"/><circle cx="70.4" cy="2.5" r="0.75"/><circle cx="79.8" cy="7.7" r="0.75"/><circle cx="88.2" cy="13.6" r="0.75"/><circle cx="94.0" cy="21.6" r="0.75"/><circle cx="100.0" cy="32.7" r="0.75"/><circle cx="22.5" cy="38.6" r="0.75"/><circle cx="26.7" cy="30.5" r="0.75"/><circle cx="29.3" cy="23.4" r="0.75"/><circle cx="35.8" cy="17.0" r="0.75"/><circle cx="43.2" cy="12.4" r="0.75"/><circle cx="51.9" cy="11.3" r="0.75"/><circle cx="59.6" cy="11.5" r="0.75"/><circle cx="67.9" cy="11.7" r="0.75"/><circle cx="74.6" cy="14.9" r="0.75"/><circle cx="80.7" cy="21.3" r="0.75"/><circle cx="87.3" cy="26.9" r="0.75"/><circle cx="89.2" cy="35.0" r="0.75"/><circle cx="33.4" cy="40.7" r="0.75"/><circle cx="34.9" cy="32.5" r="0.75"/><circle cx="41.8" cy="26.0" r="0.75"/><circle cx="48.2" cy="20.6" r="0.75"/><circle cx="57.7" cy="19.5" r="0.75"/><circle cx="65.2" cy="21.4" r="0.75"/><circle cx="72.6" cy="26.1" r="0.75"/><circle cx="77.9" cy="31.0" r="0.75"/><circle cx="81.5" cy="40.1" r="0.75"/><circle cx="52.0" cy="37.3" r="0.75"/><circle cx="60.0" cy="36.8" r="0.75"/><circle cx="68.0" cy="37.6" r="0.75"/><circle cx="76.0" cy="37.8" r="0.75"/></g></g><g transform="translate(395.5,569.5) scale(-0.8550,0.8800)" clip-path="url(#c_side)"><g filter="url(#bl)"><rect x="-30" y="-30" width="160" height="160" fill="#9eff61"/><ellipse cx="4" cy="56" rx="28.0" ry="56.0" fill="#80ff80"/><ellipse cx="4" cy="56" rx="26.4" ry="52.8" fill="#6bff94"/><ellipse cx="4" cy="56" rx="24.8" ry="49.6" fill="#57ffa8"/><ellipse cx="4" cy="56" rx="23.2" ry="46.4" fill="#42ffbd"/><ellipse cx="4" cy="56" rx="21.6" ry="43.2" fill="#2effd1"/><ellipse cx="4" cy="56" rx="20.0" ry="40.0" fill="#1affe5"/><ellipse cx="4" cy="56" rx="18.4" ry="36.8" fill="#05fffa"/><ellipse cx="4" cy="56" rx="16.8" ry="33.6" fill="#00f0ff"/><ellipse cx="15" cy="32" rx="15.0" ry="20.0" fill="#00f0ff"/><ellipse cx="15" cy="32" rx="13.9" ry="18.6" fill="#00e3ff"/><ellipse cx="15" cy="32" rx="12.9" ry="17.1" fill="#00d5ff"/><ellipse cx="15" cy="32" rx="11.8" ry="15.7" fill="#00c8ff"/><ellipse cx="15" cy="32" rx="10.7" ry="14.3" fill="#00bbff"/><ellipse cx="15" cy="32" rx="9.6" ry="12.9" fill="#00aeff"/><ellipse cx="15" cy="32" rx="8.6" ry="11.4" fill="#00a1ff"/><ellipse cx="15" cy="32" rx="7.5" ry="10.0" fill="#0094ff"/><ellipse cx="92" cy="50" rx="14.0" ry="25.0" fill="#80ff80"/><ellipse cx="92" cy="50" rx="13.0" ry="23.2" fill="#78ff87"/><ellipse cx="92" cy="50" rx="12.0" ry="21.4" fill="#71ff8e"/><ellipse cx="92" cy="50" rx="11.0" ry="19.6" fill="#6aff95"/><ellipse cx="92" cy="50" rx="10.0" ry="17.9" fill="#62ff9d"/><ellipse cx="92" cy="50" rx="9.0" ry="16.1" fill="#5bffa4"/><ellipse cx="92" cy="50" rx="8.0" ry="14.3" fill="#54ffab"/><ellipse cx="92" cy="50" rx="7.0" ry="12.5" fill="#4dffb3"/><ellipse cx="70" cy="9" rx="28.0" ry="18.0" fill="#2effd1"/><ellipse cx="70" cy="9" rx="26.2" ry="16.8" fill="#00feff"/><ellipse cx="70" cy="9" rx="24.4" ry="15.7" fill="#00d0ff"/><ellipse cx="70" cy="9" rx="22.6" ry="14.5" fill="#00a1ff"/><ellipse cx="70" cy="9" rx="20.8" ry="13.4" fill="#0072ff"/><ellipse cx="70" cy="9" rx="19.0" ry="12.2" fill="#0044ff"/><ellipse cx="70" cy="9" rx="17.2" ry="11.1" fill="#0015ff"/><ellipse cx="70" cy="9" rx="15.4" ry="9.9" fill="#0000e6"/><ellipse cx="72" cy="7" rx="17.0" ry="9.0" fill="#0000e6"/><ellipse cx="72" cy="7" rx="15.8" ry="8.4" fill="#0000db"/><ellipse cx="72" cy="7" rx="14.6" ry="7.7" fill="#0000d1"/><ellipse cx="72" cy="7" rx="13.4" ry="7.1" fill="#0000c7"/><ellipse cx="72" cy="7" rx="12.1" ry="6.4" fill="#0000bd"/><ellipse cx="72" cy="7" rx="10.9" ry="5.8" fill="#0000b3"/><ellipse cx="72" cy="7" rx="9.7" ry="5.1" fill="#0000a8"/><ellipse cx="72" cy="7" rx="8.5" ry="4.5" fill="#00009e"/><ellipse cx="45" cy="37" rx="22.0" ry="28.0" fill="#b3ff4c" transform="rotate(25 45 37)"/><ellipse cx="45" cy="37" rx="20.6" ry="26.2" fill="#c0ff3f" transform="rotate(25 45 37)"/><ellipse cx="45" cy="37" rx="19.2" ry="24.4" fill="#cdff32" transform="rotate(25 45 37)"/><ellipse cx="45" cy="37" rx="17.8" ry="22.6" fill="#daff25" transform="rotate(25 45 37)"/><ellipse cx="45" cy="37" rx="16.3" ry="20.8" fill="#e7ff18" transform="rotate(25 45 37)"/><ellipse cx="45" cy="37" rx="14.9" ry="19.0" fill="#f4ff0b" transform="rotate(25 45 37)"/><ellipse cx="45" cy="37" rx="13.5" ry="17.2" fill="#fffd00" transform="rotate(25 45 37)"/><ellipse cx="45" cy="37" rx="12.1" ry="15.4" fill="#fff000" transform="rotate(25 45 37)"/><ellipse cx="45" cy="31" rx="13.0" ry="16.0" fill="#fff000"/><ellipse cx="45" cy="31" rx="12.1" ry="14.9" fill="#ffd500"/><ellipse cx="45" cy="31" rx="11.1" ry="13.7" fill="#ffbb00"/><ellipse cx="45" cy="31" rx="10.2" ry="12.6" fill="#ffa100"/><ellipse cx="45" cy="31" rx="9.3" ry="11.4" fill="#ff8700"/><ellipse cx="45" cy="31" rx="8.4" ry="10.3" fill="#ff6d00"/><ellipse cx="45" cy="31" rx="7.4" ry="9.1" fill="#ff5200"/><ellipse cx="45" cy="31" rx="6.5" ry="8.0" fill="#ff3800"/></g><rect x="0" y="0" width="100" height="100" fill="url(#shd)"/><rect x="0" y="0" width="100" height="100" fill="url(#hl)"/><path d="M52.7,76.0 q2.4,-0.5 4.2,1.5 M64.7,61.9 q1.9,1.0 6.3,4.7 M49.2,63.0 q1.9,2.3 1.8,2.4 M70.8,72.9 q2.9,1.2 5.6,2.9 M43.0,73.4 q3.5,1.7 4.6,5.5 M40.3,73.6 q0.8,0.4 3.4,3.3 M42.1,74.3 q2.5,4.9 2.8,7.0 M81.6,81.0 q1.4,1.7 1.7,2.8 M40.4,79.0 q1.5,1.9 2.1,5.0 M43.3,92.2 q2.5,0.2 3.9,0.8 M27.3,82.7 q2.2,1.7 5.0,3.2 M57.0,71.6 q3.0,0.7 3.7,1.1 M29.0,91.2 q1.7,-0.0 3.1,1.5 M52.3,78.3 q1.5,1.2 5.4,2.3 M58.5,58.4 q1.2,2.0 2.8,1.9 M56.1,85.0 q2.5,2.1 2.0,2.9 M28.3,89.9 q3.0,1.3 3.2,2.1 M70.0,60.7 q0.1,1.0 1.8,2.7 M22.9,80.0 q2.7,0.6 4.1,1.7 M77.1,81.1 q2.6,3.7 2.7,5.1 M32.4,86.3 q3.5,2.7 5.9,3.5 M29.6,70.7 q2.9,1.8 4.5,6.3 M59.4,59.2 q1.4,3.7 5.1,4.8 M63.9,65.7 q3.4,1.2 4.9,1.9 M29.0,55.9 q2.4,1.2 6.7,2.0 M40.0,83.9 q2.7,1.1 3.1,2.0 M64.8,88.9 q0.1,0.4 1.2,2.8 M53.1,91.7 q-0.1,2.3 1.7,2.7 M64.1,71.5 q2.5,0.9 3.0,2.4 M76.1,80.7 q1.4,1.8 4.5,1.2 M58.5,56.8 q2.2,1.1 4.5,1.7 M46.0,69.9 q2.4,-0.9 5.8,1.1 M50.5,96.4 q2.3,-0.3 3.6,0.8 M38.9,76.0 q2.7,2.6 5.3,2.5 " fill="none" stroke="#000" stroke-opacity="0.075" stroke-width="1.4" stroke-linecap="round" filter="url(#bl1)"/><path d="M45,57 q3,-4 6,-2 q-3,3 -3,6 M43,64 q4,4 9,2 M47,70 q3,3 8,0 M40,74 q4,3 8,2" fill="none" stroke="#000" stroke-opacity="0.22" stroke-width="1.4" stroke-linecap="round" filter="url(#bl1)"/><g fill="#222" fill-opacity="0.5"><circle cx="14.9" cy="35.6" r="0.75"/><circle cx="17.2" cy="27.1" r="0.75"/><circle cx="23.3" cy="18.2" r="0.75"/><circle cx="30.4" cy="10.6" r="0.75"/><circle cx="39.0" cy="4.5" r="0.75"/><circle cx="50.0" cy="2.6" r="0.75"/><circle cx="60.9" cy="1.7" r="0.75"/><circle cx="70.1" cy="3.8" r="0.75"/><circle cx="80.6" cy="7.7" r="0.75"/><circle cx="88.7" cy="14.0" r="0.75"/><circle cx="94.9" cy="22.4" r="0.75"/><circle cx="98.1" cy="31.9" r="0.75"/><circle cx="23.0" cy="39.2" r="0.75"/><circle cx="25.7" cy="30.1" r="0.75"/><circle cx="29.5" cy="22.9" r="0.75"/><circle cx="35.6" cy="16.9" r="0.75"/><circle cx="42.1" cy="14.2" r="0.75"/><circle cx="51.0" cy="10.9" r="0.75"/><circle cx="59.5" cy="10.2" r="0.75"/><circle cx="66.9" cy="11.3" r="0.75"/><circle cx="74.7" cy="15.2" r="0.75"/><circle cx="82.1" cy="20.8" r="0.75"/><circle cx="87.5" cy="26.9" r="0.75"/><circle cx="90.7" cy="34.9" r="0.75"/><circle cx="31.8" cy="39.2" r="0.75"/><circle cx="35.8" cy="32.9" r="0.75"/><circle cx="40.8" cy="26.0" r="0.75"/><circle cx="48.4" cy="22.0" r="0.75"/><circle cx="56.1" cy="19.8" r="0.75"/><circle cx="66.2" cy="20.8" r="0.75"/><circle cx="72.4" cy="24.5" r="0.75"/><circle cx="77.7" cy="31.4" r="0.75"/><circle cx="81.7" cy="39.2" r="0.75"/><circle cx="52.0" cy="35.6" r="0.75"/><circle cx="60.0" cy="34.8" r="0.75"/><circle cx="68.0" cy="36.4" r="0.75"/><circle cx="76.0" cy="37.5" r="0.75"/></g></g><g transform="translate(135,670) scale(0.6900,0.9000)" clip-path="url(#c_top)"><g filter="url(#bl)"><rect x="-30" y="-30" width="160" height="160" fill="#24ffdb"/><ellipse cx="45" cy="30" rx="24.0" ry="11.0" fill="#4dffb3"/><ellipse cx="45" cy="30" rx="22.3" ry="10.2" fill="#6aff95"/><ellipse cx="45" cy="30" rx="20.6" ry="9.4" fill="#87ff78"/><ellipse cx="45" cy="30" rx="18.9" ry="8.6" fill="#a4ff5b"/><ellipse cx="45" cy="30" rx="17.1" ry="7.9" fill="#c1ff3e"/><ellipse cx="45" cy="30" rx="15.4" ry="7.1" fill="#deff21"/><ellipse cx="45" cy="30" rx="13.7" ry="6.3" fill="#fbff04"/><ellipse cx="45" cy="30" rx="12.0" ry="5.5" fill="#ffe500"/><ellipse cx="6" cy="32" rx="10.0" ry="18.0" fill="#00e5ff"/><ellipse cx="6" cy="32" rx="9.3" ry="16.7" fill="#00c5ff"/><ellipse cx="6" cy="32" rx="8.6" ry="15.4" fill="#00a5ff"/><ellipse cx="6" cy="32" rx="7.9" ry="14.1" fill="#0085ff"/><ellipse cx="6" cy="32" rx="7.1" ry="12.9" fill="#0065ff"/><ellipse cx="6" cy="32" rx="6.4" ry="11.6" fill="#0045ff"/><ellipse cx="6" cy="32" rx="5.7" ry="10.3" fill="#0025ff"/><ellipse cx="6" cy="32" rx="5.0" ry="9.0" fill="#0005ff"/><ellipse cx="52" cy="62" rx="150.0" ry="19.0" fill="#1affe5"/><ellipse cx="52" cy="62" rx="140.4" ry="17.8" fill="#00e8ff"/><ellipse cx="52" cy="62" rx="130.7" ry="16.6" fill="#00b8ff"/><ellipse cx="52" cy="62" rx="121.1" ry="15.3" fill="#0088ff"/><ellipse cx="52" cy="62" rx="111.4" ry="14.1" fill="#0058ff"/><ellipse cx="52" cy="62" rx="101.8" ry="12.9" fill="#0028ff"/><ellipse cx="52" cy="62" rx="92.1" ry="11.7" fill="#0000f7"/><ellipse cx="52" cy="62" rx="82.5" ry="10.5" fill="#0000c7"/><ellipse cx="70" cy="60" rx="18.0" ry="9.0" fill="#0000c7"/><ellipse cx="70" cy="60" rx="16.7" ry="8.4" fill="#0000bd"/><ellipse cx="70" cy="60" rx="15.4" ry="7.7" fill="#0000b3"/><ellipse cx="70" cy="60" rx="14.1" ry="7.1" fill="#0000a8"/><ellipse cx="70" cy="60" rx="12.9" ry="6.4" fill="#00009e"/><ellipse cx="70" cy="60" rx="11.6" ry="5.8" fill="#000094"/><ellipse cx="70" cy="60" rx="10.3" ry="5.1" fill="#00008a"/><ellipse cx="70" cy="60" rx="9.0" ry="4.5" fill="#000080"/><ellipse cx="50" cy="108" rx="54.0" ry="24.0" fill="#80ff80"/><ellipse cx="50" cy="108" rx="50.9" ry="22.6" fill="#a8ff57"/><ellipse cx="50" cy="108" rx="47.8" ry="21.3" fill="#d1ff2e"/><ellipse cx="50" cy="108" rx="44.7" ry="19.9" fill="#faff05"/><ellipse cx="50" cy="108" rx="41.7" ry="18.5" fill="#ffdb00"/><ellipse cx="50" cy="108" rx="38.6" ry="17.1" fill="#ffb300"/><ellipse cx="50" cy="108" rx="35.5" ry="15.8" fill="#ff8a00"/><ellipse cx="50" cy="108" rx="32.4" ry="14.4" fill="#ff6100"/><ellipse cx="0" cy="63" rx="11.0" ry="10.0" fill="#80ff80"/><ellipse cx="0" cy="63" rx="10.6" ry="9.6" fill="#a0ff5f"/><ellipse cx="0" cy="63" rx="10.1" ry="9.2" fill="#c0ff3f"/><ellipse cx="0" cy="63" rx="9.7" ry="8.8" fill="#e0ff1f"/><ellipse cx="0" cy="63" rx="9.2" ry="8.4" fill="#fffe00"/><ellipse cx="0" cy="63" rx="8.8" ry="8.0" fill="#ffde00"/><ellipse cx="0" cy="63" rx="8.4" ry="7.6" fill="#ffbe00"/><ellipse cx="0" cy="63" rx="7.9" ry="7.2" fill="#ff9e00"/></g><rect x="0" y="0" width="100" height="100" fill="url(#shr)"/><g fill="#222" fill-opacity="0.5"><circle cx="32.3" cy="16.6" r="0.75"/><circle cx="41.5" cy="18.1" r="0.75"/><circle cx="50.2" cy="16.4" r="0.75"/><circle cx="59.6" cy="18.0" r="0.75"/><circle cx="67.7" cy="16.5" r="0.75"/><circle cx="27.1" cy="27.2" r="0.75"/><circle cx="38.8" cy="27.2" r="0.75"/><circle cx="49.4" cy="26.1" r="0.75"/><circle cx="62.0" cy="26.7" r="0.75"/><circle cx="72.8" cy="26.8" r="0.75"/><circle cx="84.2" cy="25.5" r="0.75"/><circle cx="15.3" cy="34.7" r="0.75"/><circle cx="27.3" cy="35.3" r="0.75"/><circle cx="38.5" cy="35.8" r="0.75"/><circle cx="49.5" cy="35.5" r="0.75"/><circle cx="60.5" cy="36.5" r="0.75"/><circle cx="73.1" cy="36.6" r="0.75"/><circle cx="83.6" cy="35.8" r="0.75"/><circle cx="15.9" cy="44.5" r="0.75"/><circle cx="26.2" cy="44.1" r="0.75"/><circle cx="37.8" cy="45.3" r="0.75"/><circle cx="49.2" cy="45.4" r="0.75"/><circle cx="61.3" cy="44.9" r="0.75"/><circle cx="73.2" cy="44.9" r="0.75"/><circle cx="84.8" cy="45.0" r="0.75"/><circle cx="15.2" cy="54.5" r="0.75"/><circle cx="26.5" cy="54.4" r="0.75"/><circle cx="39.0" cy="54.6" r="0.75"/><circle cx="49.6" cy="54.5" r="0.75"/><circle cx="62.5" cy="53.9" r="0.75"/><circle cx="72.6" cy="54.0" r="0.75"/><circle cx="85.4" cy="53.3" r="0.75"/><circle cx="14.5" cy="63.2" r="0.75"/><circle cx="27.3" cy="63.7" r="0.75"/><circle cx="38.2" cy="64.2" r="0.75"/><circle cx="49.5" cy="63.7" r="0.75"/><circle cx="60.7" cy="62.3" r="0.75"/><circle cx="72.3" cy="62.3" r="0.75"/><circle cx="84.5" cy="63.3" r="0.75"/><circle cx="14.9" cy="73.3" r="0.75"/><circle cx="26.7" cy="71.7" r="0.75"/><circle cx="37.9" cy="72.9" r="0.75"/><circle cx="50.8" cy="71.7" r="0.75"/><circle cx="60.6" cy="73.0" r="0.75"/><circle cx="72.5" cy="73.4" r="0.75"/><circle cx="84.5" cy="72.7" r="0.75"/><circle cx="15.2" cy="82.2" r="0.75"/><circle cx="26.9" cy="81.2" r="0.75"/><circle cx="39.3" cy="80.8" r="0.75"/><circle cx="50.5" cy="80.7" r="0.75"/><circle cx="61.8" cy="81.4" r="0.75"/><circle cx="73.7" cy="80.7" r="0.75"/><circle cx="84.6" cy="81.4" r="0.75"/><circle cx="32.8" cy="91.7" r="0.75"/><circle cx="41.3" cy="90.2" r="0.75"/><circle cx="49.5" cy="90.3" r="0.75"/><circle cx="58.9" cy="90.3" r="0.75"/><circle cx="67.4" cy="91.3" r="0.75"/></g></g><g transform="translate(223,671) scale(0.6550,0.9400)" clip-path="url(#c_back)"><g filter="url(#bl)"><rect x="-30" y="-30" width="160" height="160" fill="#ffb300"/><ellipse cx="50" cy="-4" rx="72.0" ry="35.0" fill="#ffdb00"/><ellipse cx="50" cy="-4" rx="66.3" ry="32.2" fill="#cdff32"/><ellipse cx="50" cy="-4" rx="60.7" ry="29.5" fill="#77ff88"/><ellipse cx="50" cy="-4" rx="55.0" ry="26.8" fill="#21ffde"/><ellipse cx="50" cy="-4" rx="49.4" ry="24.0" fill="#00caff"/><ellipse cx="50" cy="-4" rx="43.7" ry="21.2" fill="#0074ff"/><ellipse cx="50" cy="-4" rx="38.1" ry="18.5" fill="#001eff"/><ellipse cx="50" cy="-4" rx="32.4" ry="15.7" fill="#0000c7"/><ellipse cx="8" cy="52" rx="16.0" ry="22.0" fill="#ff8a00"/><ellipse cx="8" cy="52" rx="14.9" ry="20.4" fill="#ff7500"/><ellipse cx="8" cy="52" rx="13.7" ry="18.9" fill="#ff6100"/><ellipse cx="8" cy="52" rx="12.6" ry="17.3" fill="#ff4c00"/><ellipse cx="8" cy="52" rx="11.4" ry="15.7" fill="#ff3800"/><ellipse cx="8" cy="52" rx="10.3" ry="14.1" fill="#ff2400"/><ellipse cx="8" cy="52" rx="9.1" ry="12.6" fill="#ff0f00"/><ellipse cx="8" cy="52" rx="8.0" ry="11.0" fill="#fa0000"/><ellipse cx="50" cy="98" rx="38.0" ry="17.0" fill="#ffc700"/><ellipse cx="50" cy="98" rx="35.3" ry="15.8" fill="#ffd100"/><ellipse cx="50" cy="98" rx="32.6" ry="14.6" fill="#ffdb00"/><ellipse cx="50" cy="98" rx="29.9" ry="13.4" fill="#ffe500"/><ellipse cx="50" cy="98" rx="27.1" ry="12.1" fill="#fff000"/><ellipse cx="50" cy="98" rx="24.4" ry="10.9" fill="#fffa00"/><ellipse cx="50" cy="98" rx="21.7" ry="9.7" fill="#faff05"/><ellipse cx="50" cy="98" rx="19.0" ry="8.5" fill="#f0ff0f"/><ellipse cx="96" cy="55" rx="9.0" ry="22.0" fill="#ffe500"/><ellipse cx="96" cy="55" rx="8.4" ry="20.4" fill="#fff700"/><ellipse cx="96" cy="55" rx="7.7" ry="18.9" fill="#f6ff09"/><ellipse cx="96" cy="55" rx="7.1" ry="17.3" fill="#e4ff1b"/><ellipse cx="96" cy="55" rx="6.4" ry="15.7" fill="#d3ff2c"/><ellipse cx="96" cy="55" rx="5.8" ry="14.1" fill="#c1ff3e"/><ellipse cx="96" cy="55" rx="5.1" ry="12.6" fill="#b0ff4f"/><ellipse cx="96" cy="55" rx="4.5" ry="11.0" fill="#9eff61"/><ellipse cx="50" cy="45" rx="30.0" ry="14.0" fill="#ff9e00"/><ellipse cx="50" cy="45" rx="27.9" ry="13.0" fill="#ff9800"/><ellipse cx="50" cy="45" rx="25.7" ry="12.0" fill="#ff9200"/><ellipse cx="50" cy="45" rx="23.6" ry="11.0" fill="#ff8d00"/><ellipse cx="50" cy="45" rx="21.4" ry="10.0" fill="#ff8700"/><ellipse cx="50" cy="45" rx="19.3" ry="9.0" fill="#ff8100"/><ellipse cx="50" cy="45" rx="17.1" ry="8.0" fill="#ff7b00"/><ellipse cx="50" cy="45" rx="15.0" ry="7.0" fill="#ff7500"/></g><rect x="0" y="0" width="100" height="100" fill="url(#shd)"/><rect x="0" y="0" width="100" height="100" fill="url(#hl)"/><path d="M61.1,59.9 q-0.8,0.7 -2.0,3.5 M75.2,88.5 q1.8,2.6 1.6,6.6 M41.2,69.3 q-0.2,2.0 -1.5,3.5 M49.0,74.0 q0.4,1.4 -1.6,3.7 M69.9,88.2 q2.7,2.9 2.4,6.9 M21.6,50.6 q0.5,0.3 -1.5,2.7 M67.1,49.9 q-0.1,2.5 2.2,6.0 M78.8,80.8 q-2.9,2.8 -3.1,7.3 M70.7,79.5 q0.5,2.2 2.6,4.9 M26.7,46.0 q0.0,0.9 -2.3,4.0 M51.2,51.8 q0.7,0.9 0.3,3.9 M67.2,70.0 q0.9,3.4 1.9,4.4 M42.4,55.8 q-1.0,2.6 -3.5,6.5 M31.3,58.2 q0.7,1.2 1.4,2.9 M55.6,63.1 q2.0,2.9 3.2,5.6 M55.1,79.5 q-1.1,2.9 -3.6,6.4 M40.4,66.0 q-1.5,1.9 -2.3,4.3 M29.2,94.9 q2.8,1.9 3.0,5.2 M59.1,63.8 q-0.6,3.0 1.1,3.8 M70.2,90.4 q0.9,3.3 2.9,5.8 M55.1,60.8 q0.0,2.4 -1.4,2.6 M52.6,74.6 q-0.6,2.5 -2.1,3.6 M44.2,80.6 q0.7,3.3 0.6,5.6 M40.6,76.4 q0.2,1.4 -0.2,4.1 M78.2,68.7 q-0.7,1.9 -1.3,5.5 M29.1,91.4 q-0.0,3.7 -0.2,5.6 M35.3,53.6 q-0.5,3.5 -1.8,5.0 M77.2,88.4 q2.1,3.1 2.3,4.4 M27.9,52.7 q0.0,2.6 0.9,3.4 M53.4,67.6 q2.5,2.8 2.1,4.5 " fill="none" stroke="#000" stroke-opacity="0.075" stroke-width="1.4" stroke-linecap="round" filter="url(#bl1)"/><g fill="#222" fill-opacity="0.5"><circle cx="4.1" cy="31.0" r="0.75"/><circle cx="6.7" cy="24.6" r="0.75"/><circle cx="9.2" cy="18.0" r="0.75"/><circle cx="15.3" cy="11.8" r="0.75"/><circle cx="22.2" cy="6.7" r="0.75"/><circle cx="30.8" cy="3.1" r="0.75"/><circle cx="39.5" cy="0.4" r="0.75"/><circle cx="50.3" cy="-0.7" r="0.75"/><circle cx="59.3" cy="1.2" r="0.75"/><circle cx="68.9" cy="2.5" r="0.75"/><circle cx="77.4" cy="6.9" r="0.75"/><circle cx="84.6" cy="11.2" r="0.75"/><circle cx="92.0" cy="16.0" r="0.75"/><circle cx="95.3" cy="23.6" r="0.75"/><circle cx="97.9" cy="29.6" r="0.75"/><circle cx="12.2" cy="31.5" r="0.75"/><circle cx="15.0" cy="25.1" r="0.75"/><circle cx="19.5" cy="18.1" r="0.75"/><circle cx="26.9" cy="13.7" r="0.75"/><circle cx="34.6" cy="9.0" r="0.75"/><circle cx="44.6" cy="7.9" r="0.75"/><circle cx="53.7" cy="7.7" r="0.75"/><circle cx="64.4" cy="8.0" r="0.75"/><circle cx="73.1" cy="11.2" r="0.75"/><circle cx="79.3" cy="16.9" r="0.75"/><circle cx="85.2" cy="22.5" r="0.75"/><circle cx="88.4" cy="30.1" r="0.75"/><circle cx="23.6" cy="31.3" r="0.75"/><circle cx="25.8" cy="25.4" r="0.75"/><circle cx="31.1" cy="20.4" r="0.75"/><circle cx="39.0" cy="15.7" r="0.75"/><circle cx="49.3" cy="13.8" r="0.75"/><circle cx="58.2" cy="14.6" r="0.75"/><circle cx="67.7" cy="17.8" r="0.75"/><circle cx="74.4" cy="22.2" r="0.75"/><circle cx="77.1" cy="29.1" r="0.75"/><circle cx="35.2" cy="33.5" r="0.75"/><circle cx="38.4" cy="26.6" r="0.75"/><circle cx="43.7" cy="22.7" r="0.75"/><circle cx="53.0" cy="21.7" r="0.75"/><circle cx="59.4" cy="25.1" r="0.75"/><circle cx="65.6" cy="28.2" r="0.75"/><circle cx="20.0" cy="40.7" r="0.75"/><circle cx="35.0" cy="40.8" r="0.75"/><circle cx="50.0" cy="39.9" r="0.75"/><circle cx="65.0" cy="38.2" r="0.75"/><circle cx="80.0" cy="40.8" r="0.75"/><circle cx="28.0" cy="49.7" r="0.75"/><circle cx="50.0" cy="50.3" r="0.75"/><circle cx="72.0" cy="52.0" r="0.75"/></g></g><g transform="translate(135,811) scale(0.7000,0.9150)" clip-path="url(#c_top)"><g filter="url(#bl)"><rect x="-30" y="-30" width="160" height="160" fill="#0024ff"/><ellipse cx="25" cy="40" rx="18.0" ry="14.0" fill="#002eff"/><ellipse cx="25" cy="40" rx="16.7" ry="13.0" fill="#0038ff"/><ellipse cx="25" cy="40" rx="15.4" ry="12.0" fill="#0042ff"/><ellipse cx="25" cy="40" rx="14.1" ry="11.0" fill="#004dff"/><ellipse cx="25" cy="40" rx="12.9" ry="10.0" fill="#0057ff"/><ellipse cx="25" cy="40" rx="11.6" ry="9.0" fill="#0061ff"/><ellipse cx="25" cy="40" rx="10.3" ry="8.0" fill="#006bff"/><ellipse cx="25" cy="40" rx="9.0" ry="7.0" fill="#0075ff"/><ellipse cx="62" cy="73" rx="31.0" ry="22.0" fill="#001aff"/><ellipse cx="62" cy="73" rx="28.8" ry="20.4" fill="#000bff"/><ellipse cx="62" cy="73" rx="26.6" ry="18.9" fill="#0000fb"/><ellipse cx="62" cy="73" rx="24.4" ry="17.3" fill="#0000ed"/><ellipse cx="62" cy="73" rx="22.1" ry="15.7" fill="#0000de"/><ellipse cx="62" cy="73" rx="19.9" ry="14.1" fill="#0000d0"/><ellipse cx="62" cy="73" rx="17.7" ry="12.6" fill="#0000c1"/><ellipse cx="62" cy="73" rx="15.5" ry="11.0" fill="#0000b3"/><ellipse cx="100" cy="45" rx="7.0" ry="12.0" fill="#00c7ff"/><ellipse cx="100" cy="45" rx="6.5" ry="11.1" fill="#17ffe8"/><ellipse cx="100" cy="45" rx="6.0" ry="10.3" fill="#65ff9a"/><ellipse cx="100" cy="45" rx="5.5" ry="9.4" fill="#b4ff4b"/><ellipse cx="100" cy="45" rx="5.0" ry="8.6" fill="#fffb00"/><ellipse cx="100" cy="45" rx="4.5" ry="7.7" fill="#ffad00"/><ellipse cx="100" cy="45" rx="4.0" ry="6.9" fill="#ff5e00"/><ellipse cx="100" cy="45" rx="3.5" ry="6.0" fill="#ff0f00"/><ellipse cx="0" cy="62" rx="11.0" ry="10.0" fill="#0080ff"/><ellipse cx="0" cy="62" rx="10.6" ry="9.6" fill="#0090ff"/><ellipse cx="0" cy="62" rx="10.1" ry="9.2" fill="#00a0ff"/><ellipse cx="0" cy="62" rx="9.7" ry="8.8" fill="#00b0ff"/><ellipse cx="0" cy="62" rx="9.2" ry="8.4" fill="#00c0ff"/><ellipse cx="0" cy="62" rx="8.8" ry="8.0" fill="#00d0ff"/><ellipse cx="0" cy="62" rx="8.4" ry="7.6" fill="#00e0ff"/><ellipse cx="0" cy="62" rx="7.9" ry="7.2" fill="#00f0ff"/><ellipse cx="50" cy="3" rx="9.0" ry="7.0" fill="#004dff"/><ellipse cx="50" cy="3" rx="8.4" ry="6.5" fill="#005bff"/><ellipse cx="50" cy="3" rx="7.7" ry="6.0" fill="#006aff"/><ellipse cx="50" cy="3" rx="7.1" ry="5.5" fill="#0078ff"/><ellipse cx="50" cy="3" rx="6.4" ry="5.0" fill="#0087ff"/><ellipse cx="50" cy="3" rx="5.8" ry="4.5" fill="#0095ff"/><ellipse cx="50" cy="3" rx="5.1" ry="4.0" fill="#00a4ff"/><ellipse cx="50" cy="3" rx="4.5" ry="3.5" fill="#00b3ff"/></g><rect x="0" y="0" width="100" height="100" fill="url(#shr)"/><g fill="#222" fill-opacity="0.5"><circle cx="32.6" cy="17.9" r="0.75"/><circle cx="40.3" cy="16.9" r="0.75"/><circle cx="50.0" cy="16.2" r="0.75"/><circle cx="60.0" cy="16.7" r="0.75"/><circle cx="67.5" cy="16.8" r="0.75"/><circle cx="27.7" cy="26.5" r="0.75"/><circle cx="38.5" cy="26.2" r="0.75"/><circle cx="49.1" cy="26.0" r="0.75"/><circle cx="62.2" cy="27.0" r="0.75"/><circle cx="73.7" cy="25.9" r="0.75"/><circle cx="83.9" cy="25.5" r="0.75"/><circle cx="15.6" cy="35.3" r="0.75"/><circle cx="26.9" cy="35.6" r="0.75"/><circle cx="38.7" cy="35.3" r="0.75"/><circle cx="50.6" cy="35.0" r="0.75"/><circle cx="62.3" cy="35.7" r="0.75"/><circle cx="72.1" cy="35.2" r="0.75"/><circle cx="84.6" cy="35.4" r="0.75"/><circle cx="15.6" cy="44.4" r="0.75"/><circle cx="26.5" cy="45.4" r="0.75"/><circle cx="38.1" cy="45.2" r="0.75"/><circle cx="50.6" cy="45.0" r="0.75"/><circle cx="61.4" cy="45.7" r="0.75"/><circle cx="72.9" cy="45.6" r="0.75"/><circle cx="83.6" cy="44.7" r="0.75"/><circle cx="15.8" cy="53.1" r="0.75"/><circle cx="27.7" cy="53.1" r="0.75"/><circle cx="38.7" cy="53.4" r="0.75"/><circle cx="50.8" cy="54.1" r="0.75"/><circle cx="62.1" cy="54.0" r="0.75"/><circle cx="73.3" cy="54.3" r="0.75"/><circle cx="84.1" cy="53.4" r="0.75"/><circle cx="16.2" cy="62.5" r="0.75"/><circle cx="27.8" cy="62.6" r="0.75"/><circle cx="37.7" cy="62.4" r="0.75"/><circle cx="50.6" cy="64.1" r="0.75"/><circle cx="61.3" cy="63.5" r="0.75"/><circle cx="72.5" cy="64.0" r="0.75"/><circle cx="84.9" cy="62.5" r="0.75"/><circle cx="14.6" cy="72.8" r="0.75"/><circle cx="26.1" cy="73.1" r="0.75"/><circle cx="38.1" cy="71.9" r="0.75"/><circle cx="50.2" cy="72.0" r="0.75"/><circle cx="61.6" cy="71.7" r="0.75"/><circle cx="73.8" cy="72.0" r="0.75"/><circle cx="85.2" cy="71.7" r="0.75"/><circle cx="16.1" cy="82.6" r="0.75"/><circle cx="26.8" cy="80.7" r="0.75"/><circle cx="38.3" cy="81.9" r="0.75"/><circle cx="49.4" cy="81.7" r="0.75"/><circle cx="60.7" cy="81.5" r="0.75"/><circle cx="73.5" cy="81.5" r="0.75"/><circle cx="84.9" cy="80.8" r="0.75"/><circle cx="32.7" cy="90.0" r="0.75"/><circle cx="41.8" cy="91.8" r="0.75"/><circle cx="50.9" cy="90.9" r="0.75"/><circle cx="58.6" cy="90.5" r="0.75"/><circle cx="68.5" cy="90.8" r="0.75"/></g></g><g transform="translate(222.5,810.5) scale(0.8350,0.8400)" clip-path="url(#c_side)"><g filter="url(#bl)"><rect x="-30" y="-30" width="160" height="160" fill="#008aff"/><ellipse cx="60" cy="3" rx="40.0" ry="12.0" fill="#0061ff"/><ellipse cx="60" cy="3" rx="37.1" ry="11.1" fill="#0052ff"/><ellipse cx="60" cy="3" rx="34.3" ry="10.3" fill="#0044ff"/><ellipse cx="60" cy="3" rx="31.4" ry="9.4" fill="#0035ff"/><ellipse cx="60" cy="3" rx="28.6" ry="8.6" fill="#0027ff"/><ellipse cx="60" cy="3" rx="25.7" ry="7.7" fill="#0018ff"/><ellipse cx="60" cy="3" rx="22.9" ry="6.9" fill="#0009ff"/><ellipse cx="60" cy="3" rx="20.0" ry="6.0" fill="#0000fa"/><ellipse cx="26" cy="22" rx="22.0" ry="14.0" fill="#0061ff"/><ellipse cx="26" cy="22" rx="20.4" ry="13.0" fill="#0052ff"/><ellipse cx="26" cy="22" rx="18.9" ry="12.0" fill="#0044ff"/><ellipse cx="26" cy="22" rx="17.3" ry="11.0" fill="#0035ff"/><ellipse cx="26" cy="22" rx="15.7" ry="10.0" fill="#0027ff"/><ellipse cx="26" cy="22" rx="14.1" ry="9.0" fill="#0018ff"/><ellipse cx="26" cy="22" rx="12.6" ry="8.0" fill="#0009ff"/><ellipse cx="26" cy="22" rx="11.0" ry="7.0" fill="#0000fa"/><ellipse cx="52" cy="28" rx="22.0" ry="24.0" fill="#009eff"/><ellipse cx="52" cy="28" rx="20.4" ry="22.3" fill="#00b0ff"/><ellipse cx="52" cy="28" rx="18.9" ry="20.6" fill="#00c1ff"/><ellipse cx="52" cy="28" rx="17.3" ry="18.9" fill="#00d3ff"/><ellipse cx="52" cy="28" rx="15.7" ry="17.1" fill="#00e4ff"/><ellipse cx="52" cy="28" rx="14.1" ry="15.4" fill="#00f6ff"/><ellipse cx="52" cy="28" rx="12.6" ry="13.7" fill="#08fff7"/><ellipse cx="52" cy="28" rx="11.0" ry="12.0" fill="#1affe5"/><ellipse cx="50" cy="92" rx="44.0" ry="20.0" fill="#0080ff"/><ellipse cx="50" cy="92" rx="40.9" ry="18.6" fill="#0087ff"/><ellipse cx="50" cy="92" rx="37.7" ry="17.1" fill="#008eff"/><ellipse cx="50" cy="92" rx="34.6" ry="15.7" fill="#0095ff"/><ellipse cx="50" cy="92" rx="31.4" ry="14.3" fill="#009dff"/><ellipse cx="50" cy="92" rx="28.3" ry="12.9" fill="#00a4ff"/><ellipse cx="50" cy="92" rx="25.1" ry="11.4" fill="#00abff"/><ellipse cx="50" cy="92" rx="22.0" ry="10.0" fill="#00b3ff"/></g><rect x="0" y="0" width="100" height="100" fill="url(#shd)"/><rect x="0" y="0" width="100" height="100" fill="url(#hl)"/><path d="M79.6,58.9 q3.1,2.4 5.7,4.6 M27.5,60.9 q4.4,0.8 6.7,3.3 M79.3,56.4 q2.3,4.1 5.5,5.6 M62.7,57.1 q1.5,2.0 4.5,2.6 M33.1,88.1 q1.7,-0.4 3.0,1.6 M56.2,88.1 q0.5,1.9 3.7,3.8 M28.0,82.2 q2.4,0.5 5.6,1.8 M63.1,61.9 q3.1,2.4 7.2,2.7 M76.2,75.2 q2.8,-0.6 3.3,1.1 M52.8,77.5 q1.5,0.9 5.1,1.6 M53.4,70.4 q1.4,-0.2 4.7,1.9 M36.9,91.6 q1.4,3.7 5.7,4.8 M52.3,88.2 q1.5,3.0 4.6,4.5 M31.5,66.1 q2.5,-0.1 4.9,1.0 M77.2,58.5 q1.8,2.3 3.0,2.9 M66.1,57.6 q4.2,-0.1 5.4,2.5 M60.3,84.1 q2.1,1.9 2.4,4.0 M79.1,55.5 q0.7,1.1 2.0,4.6 M37.2,85.8 q0.7,0.4 2.4,2.9 M34.3,64.2 q4.9,2.8 6.8,3.9 M51.7,75.9 q2.8,3.6 4.1,6.3 M34.3,81.3 q0.5,3.7 3.4,6.0 M43.7,61.8 q1.9,1.9 2.4,5.9 M73.4,94.4 q2.5,3.9 2.9,6.1 M58.6,73.3 q2.9,2.4 3.5,6.0 M81.6,77.3 q2.1,2.5 1.4,3.3 M37.6,90.2 q1.7,0.0 3.6,1.6 M52.5,93.1 q1.7,3.4 4.1,5.1 M71.2,83.7 q1.1,2.0 2.8,6.5 M62.5,90.1 q3.6,2.4 5.2,3.0 M22.3,75.5 q2.7,0.1 3.5,0.7 M59.5,74.2 q1.3,2.1 3.5,2.0 M60.4,67.3 q2.7,0.4 4.2,1.1 M63.0,88.9 q1.7,1.9 6.1,1.9 " fill="none" stroke="#000" stroke-opacity="0.075" stroke-width="1.4" stroke-linecap="round" filter="url(#bl1)"/><path d="M45,57 q3,-4 6,-2 q-3,3 -3,6 M43,64 q4,4 9,2 M47,70 q3,3 8,0 M40,74 q4,3 8,2" fill="none" stroke="#000" stroke-opacity="0.22" stroke-width="1.4" stroke-linecap="round" filter="url(#bl1)"/><g fill="#222" fill-opacity="0.5"><circle cx="13.3" cy="36.1" r="0.75"/><circle cx="18.0" cy="26.3" r="0.75"/><circle cx="22.0" cy="18.4" r="0.75"/><circle cx="30.3" cy="11.1" r="0.75"/><circle cx="39.0" cy="4.9" r="0.75"/><circle cx="50.3" cy="1.9" r="0.75"/><circle cx="61.0" cy="0.7" r="0.75"/><circle cx="71.2" cy="2.6" r="0.75"/><circle cx="80.2" cy="6.7" r="0.75"/><circle cx="87.8" cy="15.2" r="0.75"/><circle cx="94.8" cy="23.2" r="0.75"/><circle cx="98.5" cy="31.9" r="0.75"/><circle cx="22.5" cy="38.3" r="0.75"/><circle cx="26.5" cy="30.4" r="0.75"/><circle cx="29.8" cy="24.2" r="0.75"/><circle cx="36.7" cy="18.0" r="0.75"/><circle cx="42.2" cy="13.7" r="0.75"/><circle cx="50.9" cy="11.9" r="0.75"/><circle cx="59.1" cy="10.9" r="0.75"/><circle cx="67.8" cy="11.9" r="0.75"/><circle cx="75.2" cy="16.0" r="0.75"/><circle cx="82.4" cy="20.7" r="0.75"/><circle cx="86.3" cy="28.2" r="0.75"/><circle cx="89.0" cy="35.4" r="0.75"/><circle cx="33.0" cy="39.9" r="0.75"/><circle cx="35.5" cy="32.4" r="0.75"/><circle cx="41.9" cy="25.9" r="0.75"/><circle cx="49.1" cy="20.3" r="0.75"/><circle cx="56.7" cy="19.1" r="0.75"/><circle cx="66.4" cy="22.1" r="0.75"/><circle cx="72.2" cy="25.7" r="0.75"/><circle cx="78.5" cy="31.0" r="0.75"/><circle cx="81.1" cy="40.3" r="0.75"/><circle cx="52.0" cy="36.6" r="0.75"/><circle cx="60.0" cy="35.1" r="0.75"/><circle cx="68.0" cy="37.0" r="0.75"/><circle cx="76.0" cy="35.2" r="0.75"/></g></g><g transform="translate(400,810.5) scale(-0.8300,0.8650)" clip-path="url(#c_side)"><g filter="url(#bl)"><rect x="-30" y="-30" width="160" height="160" fill="#00bdff"/><ellipse cx="60" cy="4" rx="40.0" ry="16.0" fill="#0080ff"/><ellipse cx="60" cy="4" rx="37.1" ry="14.9" fill="#0067ff"/><ellipse cx="60" cy="4" rx="34.3" ry="13.7" fill="#004eff"/><ellipse cx="60" cy="4" rx="31.4" ry="12.6" fill="#0035ff"/><ellipse cx="60" cy="4" rx="28.6" ry="11.4" fill="#001cff"/><ellipse cx="60" cy="4" rx="25.7" ry="10.3" fill="#0004ff"/><ellipse cx="60" cy="4" rx="22.9" ry="9.1" fill="#0000ea"/><ellipse cx="60" cy="4" rx="20.0" ry="8.0" fill="#0000d1"/><ellipse cx="45" cy="36" rx="24.0" ry="24.0" fill="#00c7ff"/><ellipse cx="45" cy="36" rx="22.3" ry="22.3" fill="#00d5ff"/><ellipse cx="45" cy="36" rx="20.6" ry="20.6" fill="#00e4ff"/><ellipse cx="45" cy="36" rx="18.9" ry="18.9" fill="#00f3ff"/><ellipse cx="45" cy="36" rx="17.1" ry="17.1" fill="#02fffd"/><ellipse cx="45" cy="36" rx="15.4" ry="15.4" fill="#11ffee"/><ellipse cx="45" cy="36" rx="13.7" ry="13.7" fill="#1fffe0"/><ellipse cx="45" cy="36" rx="12.0" ry="12.0" fill="#2effd1"/><ellipse cx="45" cy="33" rx="15.0" ry="16.0" fill="#2effd1"/><ellipse cx="45" cy="33" rx="13.9" ry="14.9" fill="#68ff97"/><ellipse cx="45" cy="33" rx="12.9" ry="13.7" fill="#a2ff5d"/><ellipse cx="45" cy="33" rx="11.8" ry="12.6" fill="#ddff22"/><ellipse cx="45" cy="33" rx="10.7" ry="11.4" fill="#ffe700"/><ellipse cx="45" cy="33" rx="9.6" ry="10.3" fill="#ffad00"/><ellipse cx="45" cy="33" rx="8.6" ry="9.1" fill="#ff7200"/><ellipse cx="45" cy="33" rx="7.5" ry="8.0" fill="#ff3800"/><ellipse cx="12" cy="45" rx="15.0" ry="30.0" fill="#0094ff"/><ellipse cx="12" cy="45" rx="13.9" ry="27.9" fill="#0082ff"/><ellipse cx="12" cy="45" rx="12.9" ry="25.7" fill="#0071ff"/><ellipse cx="12" cy="45" rx="11.8" ry="23.6" fill="#005fff"/><ellipse cx="12" cy="45" rx="10.7" ry="21.4" fill="#004eff"/><ellipse cx="12" cy="45" rx="9.6" ry="19.3" fill="#003cff"/><ellipse cx="12" cy="45" rx="8.6" ry="17.1" fill="#002bff"/><ellipse cx="12" cy="45" rx="7.5" ry="15.0" fill="#001aff"/><ellipse cx="88" cy="55" rx="12.0" ry="24.0" fill="#00d1ff"/><ellipse cx="88" cy="55" rx="11.1" ry="22.3" fill="#00d7ff"/><ellipse cx="88" cy="55" rx="10.3" ry="20.6" fill="#00ddff"/><ellipse cx="88" cy="55" rx="9.4" ry="18.9" fill="#00e3ff"/><ellipse cx="88" cy="55" rx="8.6" ry="17.1" fill="#00e8ff"/><ellipse cx="88" cy="55" rx="7.7" ry="15.4" fill="#00eeff"/><ellipse cx="88" cy="55" rx="6.9" ry="13.7" fill="#00f4ff"/><ellipse cx="88" cy="55" rx="6.0" ry="12.0" fill="#00faff"/><ellipse cx="55" cy="92" rx="30.0" ry="14.0" fill="#00d1ff"/><ellipse cx="55" cy="92" rx="27.9" ry="13.0" fill="#00d8ff"/><ellipse cx="55" cy="92" rx="25.7" ry="12.0" fill="#00e0ff"/><ellipse cx="55" cy="92" rx="23.6" ry="11.0" fill="#00e7ff"/><ellipse cx="55" cy="92" rx="21.4" ry="10.0" fill="#00eeff"/><ellipse cx="55" cy="92" rx="19.3" ry="9.0" fill="#00f6ff"/><ellipse cx="55" cy="92" rx="17.1" ry="8.0" fill="#00fdff"/><ellipse cx="55" cy="92" rx="15.0" ry="7.0" fill="#05fffa"/></g><rect x="0" y="0" width="100" height="100" fill="url(#shd)"/><rect x="0" y="0" width="100" height="100" fill="url(#hl)"/><path d="M55.7,72.7 q2.0,3.4 2.3,5.8 M45.6,95.4 q1.3,1.5 3.9,5.1 M57.7,89.7 q0.2,2.0 2.5,4.0 M76.4,61.8 q0.6,0.2 2.2,3.1 M40.5,71.1 q0.5,3.0 2.9,7.2 M80.5,63.3 q1.1,0.5 4.5,2.5 M46.4,71.2 q-0.1,3.2 1.6,4.0 M49.9,90.2 q1.7,1.5 4.6,5.1 M68.9,74.7 q3.1,1.5 4.6,4.4 M44.5,93.5 q2.0,0.8 3.3,3.0 M69.8,56.7 q1.0,3.8 3.0,5.0 M38.5,65.2 q3.5,1.2 5.6,1.4 M47.6,88.9 q2.6,2.1 4.3,1.3 M61.3,84.1 q2.7,2.8 2.7,4.1 M43.2,71.5 q0.3,3.1 2.5,4.0 M55.0,76.9 q1.3,2.4 4.8,5.8 M26.1,72.4 q3.3,2.6 5.6,4.7 M47.0,79.1 q4.1,2.6 6.5,3.2 M31.4,83.2 q2.8,3.5 3.1,4.5 M68.1,89.5 q1.3,3.4 4.9,5.6 M65.6,80.7 q1.8,1.7 3.0,1.5 M38.9,63.9 q2.1,2.1 3.2,1.4 M71.7,70.1 q2.1,0.8 2.1,2.6 M22.2,81.4 q0.8,0.5 4.2,1.4 M56.4,88.9 q2.3,-0.1 7.0,1.5 M61.0,69.3 q1.7,2.3 5.1,2.9 M35.0,90.3 q0.1,3.3 3.0,4.8 M23.8,76.2 q1.7,1.6 2.7,1.9 M58.3,71.8 q1.4,3.0 4.5,3.9 M83.7,88.8 q2.3,0.9 1.8,4.3 M51.6,60.6 q3.2,1.8 5.1,3.9 M43.2,63.0 q0.9,1.9 3.7,2.5 M54.0,73.4 q2.1,0.5 6.0,2.4 M56.7,84.5 q2.6,4.4 2.5,6.3 " fill="none" stroke="#000" stroke-opacity="0.075" stroke-width="1.4" stroke-linecap="round" filter="url(#bl1)"/><path d="M45,57 q3,-4 6,-2 q-3,3 -3,6 M43,64 q4,4 9,2 M47,70 q3,3 8,0 M40,74 q4,3 8,2" fill="none" stroke="#000" stroke-opacity="0.22" stroke-width="1.4" stroke-linecap="round" filter="url(#bl1)"/><g fill="#222" fill-opacity="0.5"><circle cx="14.4" cy="37.0" r="0.75"/><circle cx="16.2" cy="26.0" r="0.75"/><circle cx="21.6" cy="18.4" r="0.75"/><circle cx="30.5" cy="10.5" r="0.75"/><circle cx="38.8" cy="4.6" r="0.75"/><circle cx="48.7" cy="2.1" r="0.75"/><circle cx="61.0" cy="0.9" r="0.75"/><circle cx="69.6" cy="2.7" r="0.75"/><circle cx="79.9" cy="8.5" r="0.75"/><circle cx="89.0" cy="14.2" r="0.75"/><circle cx="94.0" cy="21.8" r="0.75"/><circle cx="98.3" cy="32.8" r="0.75"/><circle cx="23.3" cy="39.2" r="0.75"/><circle cx="26.6" cy="31.0" r="0.75"/><circle cx="30.0" cy="24.0" r="0.75"/><circle cx="35.2" cy="16.8" r="0.75"/><circle cx="43.2" cy="13.4" r="0.75"/><circle cx="50.5" cy="10.5" r="0.75"/><circle cx="58.4" cy="11.4" r="0.75"/><circle cx="68.0" cy="13.0" r="0.75"/><circle cx="76.1" cy="15.5" r="0.75"/><circle cx="82.1" cy="20.5" r="0.75"/><circle cx="87.2" cy="27.9" r="0.75"/><circle cx="89.1" cy="33.8" r="0.75"/><circle cx="32.1" cy="40.0" r="0.75"/><circle cx="35.4" cy="30.9" r="0.75"/><circle cx="41.8" cy="26.0" r="0.75"/><circle cx="48.5" cy="20.4" r="0.75"/><circle cx="57.8" cy="19.9" r="0.75"/><circle cx="64.6" cy="20.9" r="0.75"/><circle cx="73.1" cy="26.2" r="0.75"/><circle cx="78.4" cy="32.2" r="0.75"/><circle cx="80.7" cy="39.3" r="0.75"/><circle cx="52.0" cy="37.6" r="0.75"/><circle cx="60.0" cy="35.5" r="0.75"/><circle cx="68.0" cy="34.4" r="0.75"/><circle cx="76.0" cy="36.4" r="0.75"/></g></g><g transform="translate(134,916) scale(0.7000,0.9150)" clip-path="url(#c_top)"><g filter="url(#bl)"><rect x="-30" y="-30" width="160" height="160" fill="#57ffa8"/><ellipse cx="74" cy="12" rx="22.0" ry="12.0" fill="#00b3ff"/><ellipse cx="74" cy="12" rx="20.4" ry="11.1" fill="#008eff"/><ellipse cx="74" cy="12" rx="18.9" ry="10.3" fill="#006aff"/><ellipse cx="74" cy="12" rx="17.3" ry="9.4" fill="#0045ff"/><ellipse cx="74" cy="12" rx="15.7" ry="8.6" fill="#0021ff"/><ellipse cx="74" cy="12" rx="14.1" ry="7.7" fill="#0000fb"/><ellipse cx="74" cy="12" rx="12.6" ry="6.9" fill="#0000d7"/><ellipse cx="74" cy="12" rx="11.0" ry="6.0" fill="#0000b3"/><ellipse cx="40" cy="28" rx="30.0" ry="14.0" fill="#57ffa8"/><ellipse cx="40" cy="28" rx="27.9" ry="13.0" fill="#67ff98"/><ellipse cx="40" cy="28" rx="25.7" ry="12.0" fill="#77ff88"/><ellipse cx="40" cy="28" rx="23.6" ry="11.0" fill="#87ff78"/><ellipse cx="40" cy="28" rx="21.4" ry="10.0" fill="#97ff68"/><ellipse cx="40" cy="28" rx="19.3" ry="9.0" fill="#a7ff58"/><ellipse cx="40" cy="28" rx="17.1" ry="8.0" fill="#b7ff48"/><ellipse cx="40" cy="28" rx="15.0" ry="7.0" fill="#c7ff38"/><ellipse cx="50" cy="64" rx="150.0" ry="19.0" fill="#1affe5"/><ellipse cx="50" cy="64" rx="140.4" ry="17.8" fill="#00eaff"/><ellipse cx="50" cy="64" rx="130.7" ry="16.6" fill="#00bbff"/><ellipse cx="50" cy="64" rx="121.1" ry="15.3" fill="#008dff"/><ellipse cx="50" cy="64" rx="111.4" ry="14.1" fill="#005eff"/><ellipse cx="50" cy="64" rx="101.8" ry="12.9" fill="#002fff"/><ellipse cx="50" cy="64" rx="92.1" ry="11.7" fill="#0001ff"/><ellipse cx="50" cy="64" rx="82.5" ry="10.5" fill="#0000d1"/><ellipse cx="20" cy="65" rx="15.0" ry="9.0" fill="#0000d1"/><ellipse cx="20" cy="65" rx="13.9" ry="8.4" fill="#0000c5"/><ellipse cx="20" cy="65" rx="12.9" ry="7.7" fill="#0000ba"/><ellipse cx="20" cy="65" rx="11.8" ry="7.1" fill="#0000ae"/><ellipse cx="20" cy="65" rx="10.7" ry="6.4" fill="#0000a2"/><ellipse cx="20" cy="65" rx="9.6" ry="5.8" fill="#000097"/><ellipse cx="20" cy="65" rx="8.6" ry="5.1" fill="#00008b"/><ellipse cx="20" cy="65" rx="7.5" ry="4.5" fill="#000080"/><ellipse cx="45" cy="108" rx="54.0" ry="25.0" fill="#80ff80"/><ellipse cx="45" cy="108" rx="50.9" ry="23.6" fill="#a7ff58"/><ellipse cx="45" cy="108" rx="47.8" ry="22.1" fill="#ceff31"/><ellipse cx="45" cy="108" rx="44.7" ry="20.7" fill="#f6ff09"/><ellipse cx="45" cy="108" rx="41.7" ry="19.3" fill="#ffe100"/><ellipse cx="45" cy="108" rx="38.6" ry="17.9" fill="#ffba00"/><ellipse cx="45" cy="108" rx="35.5" ry="16.4" fill="#ff9200"/><ellipse cx="45" cy="108" rx="32.4" ry="15.0" fill="#ff6b00"/><ellipse cx="0" cy="63" rx="11.0" ry="10.0" fill="#80ff80"/><ellipse cx="0" cy="63" rx="10.6" ry="9.6" fill="#a8ff57"/><ellipse cx="0" cy="63" rx="10.1" ry="9.2" fill="#d1ff2e"/><ellipse cx="0" cy="63" rx="9.7" ry="8.8" fill="#faff05"/><ellipse cx="0" cy="63" rx="9.2" ry="8.4" fill="#ffdb00"/><ellipse cx="0" cy="63" rx="8.8" ry="8.0" fill="#ffb300"/><ellipse cx="0" cy="63" rx="8.4" ry="7.6" fill="#ff8a00"/><ellipse cx="0" cy="63" rx="7.9" ry="7.2" fill="#ff6100"/></g><rect x="0" y="0" width="100" height="100" fill="url(#shr)"/><g fill="#222" fill-opacity="0.5"><circle cx="31.3" cy="16.6" r="0.75"/><circle cx="40.9" cy="17.4" r="0.75"/><circle cx="50.3" cy="17.6" r="0.75"/><circle cx="58.9" cy="16.3" r="0.75"/><circle cx="68.4" cy="16.3" r="0.75"/><circle cx="26.8" cy="26.7" r="0.75"/><circle cx="38.9" cy="25.9" r="0.75"/><circle cx="50.3" cy="26.8" r="0.75"/><circle cx="61.4" cy="25.7" r="0.75"/><circle cx="73.8" cy="26.6" r="0.75"/><circle cx="83.6" cy="25.9" r="0.75"/><circle cx="16.5" cy="35.1" r="0.75"/><circle cx="26.8" cy="36.2" r="0.75"/><circle cx="39.1" cy="35.9" r="0.75"/><circle cx="50.5" cy="34.7" r="0.75"/><circle cx="60.7" cy="36.6" r="0.75"/><circle cx="73.6" cy="34.7" r="0.75"/><circle cx="83.6" cy="35.1" r="0.75"/><circle cx="16.4" cy="44.2" r="0.75"/><circle cx="27.3" cy="45.7" r="0.75"/><circle cx="38.8" cy="45.6" r="0.75"/><circle cx="49.5" cy="44.1" r="0.75"/><circle cx="60.5" cy="45.3" r="0.75"/><circle cx="72.2" cy="45.7" r="0.75"/><circle cx="84.9" cy="44.2" r="0.75"/><circle cx="16.1" cy="53.3" r="0.75"/><circle cx="27.0" cy="53.2" r="0.75"/><circle cx="39.1" cy="54.8" r="0.75"/><circle cx="50.8" cy="53.0" r="0.75"/><circle cx="62.2" cy="54.1" r="0.75"/><circle cx="73.6" cy="54.0" r="0.75"/><circle cx="84.7" cy="54.2" r="0.75"/><circle cx="16.1" cy="62.4" r="0.75"/><circle cx="26.1" cy="63.3" r="0.75"/><circle cx="38.1" cy="63.0" r="0.75"/><circle cx="49.0" cy="63.7" r="0.75"/><circle cx="60.5" cy="63.9" r="0.75"/><circle cx="73.6" cy="63.1" r="0.75"/><circle cx="83.7" cy="63.5" r="0.75"/><circle cx="14.9" cy="72.3" r="0.75"/><circle cx="26.2" cy="73.4" r="0.75"/><circle cx="38.6" cy="72.1" r="0.75"/><circle cx="49.2" cy="72.9" r="0.75"/><circle cx="62.2" cy="73.1" r="0.75"/><circle cx="72.2" cy="72.1" r="0.75"/><circle cx="84.1" cy="72.9" r="0.75"/><circle cx="14.8" cy="81.8" r="0.75"/><circle cx="28.0" cy="82.1" r="0.75"/><circle cx="37.5" cy="80.7" r="0.75"/><circle cx="49.2" cy="82.0" r="0.75"/><circle cx="61.7" cy="81.6" r="0.75"/><circle cx="72.9" cy="81.4" r="0.75"/><circle cx="84.7" cy="81.9" r="0.75"/><circle cx="32.8" cy="91.3" r="0.75"/><circle cx="41.6" cy="91.6" r="0.75"/><circle cx="50.7" cy="91.2" r="0.75"/><circle cx="58.1" cy="91.2" r="0.75"/><circle cx="68.7" cy="90.7" r="0.75"/></g></g><g transform="translate(222.5,903) scale(0.7100,1.0075)" clip-path="url(#c_back)"><g filter="url(#bl)"><rect x="-30" y="-30" width="160" height="160" fill="#faff05"/><ellipse cx="50" cy="4" rx="64.0" ry="33.0" fill="#bdff42"/><ellipse cx="50" cy="4" rx="61.3" ry="31.6" fill="#9aff65"/><ellipse cx="50" cy="4" rx="58.5" ry="30.2" fill="#77ff88"/><ellipse cx="50" cy="4" rx="55.8" ry="28.8" fill="#54ffab"/><ellipse cx="50" cy="4" rx="53.0" ry="27.3" fill="#31ffce"/><ellipse cx="50" cy="4" rx="50.3" ry="25.9" fill="#0efff1"/><ellipse cx="50" cy="4" rx="47.5" ry="24.5" fill="#00eaff"/><ellipse cx="50" cy="4" rx="44.8" ry="23.1" fill="#00c7ff"/><ellipse cx="93" cy="36" rx="20.0" ry="28.0" fill="#80ff80"/><ellipse cx="93" cy="36" rx="18.6" ry="26.0" fill="#6eff91"/><ellipse cx="93" cy="36" rx="17.1" ry="24.0" fill="#5dffa2"/><ellipse cx="93" cy="36" rx="15.7" ry="22.0" fill="#4bffb4"/><ellipse cx="93" cy="36" rx="14.3" ry="20.0" fill="#3affc5"/><ellipse cx="93" cy="36" rx="12.9" ry="18.0" fill="#28ffd7"/><ellipse cx="93" cy="36" rx="11.4" ry="16.0" fill="#17ffe8"/><ellipse cx="93" cy="36" rx="10.0" ry="14.0" fill="#05fffa"/><ellipse cx="38" cy="1" rx="42.0" ry="19.0" fill="#00b3ff"/><ellipse cx="38" cy="1" rx="39.6" ry="17.9" fill="#0091ff"/><ellipse cx="38" cy="1" rx="37.2" ry="16.8" fill="#006fff"/><ellipse cx="38" cy="1" rx="34.8" ry="15.7" fill="#004eff"/><ellipse cx="38" cy="1" rx="32.4" ry="14.7" fill="#002cff"/><ellipse cx="38" cy="1" rx="30.0" ry="13.6" fill="#000bff"/><ellipse cx="38" cy="1" rx="27.6" ry="12.5" fill="#0000e8"/><ellipse cx="38" cy="1" rx="25.2" ry="11.4" fill="#0000c7"/><ellipse cx="38" cy="50" rx="40.0" ry="21.0" fill="#fff000"/><ellipse cx="38" cy="50" rx="37.1" ry="19.5" fill="#ffde00"/><ellipse cx="38" cy="50" rx="34.3" ry="18.0" fill="#ffcd00"/><ellipse cx="38" cy="50" rx="31.4" ry="16.5" fill="#ffbb00"/><ellipse cx="38" cy="50" rx="28.6" ry="15.0" fill="#ffaa00"/><ellipse cx="38" cy="50" rx="25.7" ry="13.5" fill="#ff9800"/><ellipse cx="38" cy="50" rx="22.9" ry="12.0" fill="#ff8700"/><ellipse cx="38" cy="50" rx="20.0" ry="10.5" fill="#ff7500"/><ellipse cx="14" cy="58" rx="15.0" ry="17.0" fill="#ff7500"/><ellipse cx="14" cy="58" rx="13.9" ry="15.8" fill="#ff6b00"/><ellipse cx="14" cy="58" rx="12.9" ry="14.6" fill="#ff6100"/><ellipse cx="14" cy="58" rx="11.8" ry="13.4" fill="#ff5700"/><ellipse cx="14" cy="58" rx="10.7" ry="12.1" fill="#ff4d00"/><ellipse cx="14" cy="58" rx="9.6" ry="10.9" fill="#ff4200"/><ellipse cx="14" cy="58" rx="8.6" ry="9.7" fill="#ff3800"/><ellipse cx="14" cy="58" rx="7.5" ry="8.5" fill="#ff2e00"/><ellipse cx="55" cy="98" rx="32.0" ry="13.0" fill="#faff05"/><ellipse cx="55" cy="98" rx="29.7" ry="12.1" fill="#f3ff0c"/><ellipse cx="55" cy="98" rx="27.4" ry="11.1" fill="#ebff14"/><ellipse cx="55" cy="98" rx="25.1" ry="10.2" fill="#e4ff1b"/><ellipse cx="55" cy="98" rx="22.9" ry="9.3" fill="#ddff22"/><ellipse cx="55" cy="98" rx="20.6" ry="8.4" fill="#d5ff2a"/><ellipse cx="55" cy="98" rx="18.3" ry="7.4" fill="#ceff31"/><ellipse cx="55" cy="98" rx="16.0" ry="6.5" fill="#c7ff38"/></g><rect x="0" y="0" width="100" height="100" fill="url(#shd)"/><rect x="0" y="0" width="100" height="100" fill="url(#hl)"/><path d="M76.2,54.0 q-0.5,1.6 -2.3,4.7 M39.2,62.4 q0.1,3.2 0.6,3.4 M61.9,91.6 q0.5,4.2 -1.9,6.9 M37.5,57.5 q-0.7,2.7 0.3,3.1 M78.9,61.4 q0.2,4.2 -1.9,6.6 M54.0,50.2 q-0.4,1.8 -1.5,4.3 M54.4,93.3 q1.4,2.8 2.0,5.3 M80.0,65.4 q0.0,1.7 -2.7,5.9 M33.6,59.4 q-1.4,2.0 -1.3,2.8 M83.3,53.8 q0.8,3.9 0.4,6.4 M68.2,57.4 q1.0,0.6 0.8,3.0 M36.6,93.2 q0.0,3.2 -0.9,5.9 M64.5,60.2 q-0.7,1.1 1.5,3.0 M29.1,50.6 q0.6,3.2 0.1,7.8 M69.2,53.9 q0.6,2.6 1.8,4.1 M48.5,81.4 q1.1,4.5 3.2,7.0 M22.0,86.4 q1.9,4.0 2.1,7.0 M37.8,45.5 q0.2,4.0 2.4,7.1 M57.6,78.1 q-0.6,3.2 1.2,3.5 M44.5,77.6 q-1.5,0.6 -0.3,4.1 M74.6,51.5 q-0.5,1.0 -2.2,4.3 M70.4,57.6 q-0.8,2.0 0.8,5.6 M70.9,59.3 q-0.4,2.5 0.8,6.8 M34.0,64.2 q0.4,4.2 0.9,6.1 M23.2,78.2 q-2.1,1.8 -1.4,3.9 M27.4,68.0 q-1.5,1.6 -0.8,3.4 M31.1,56.5 q-1.2,1.4 0.2,3.6 M50.0,91.8 q-0.9,2.4 -0.2,3.4 M56.0,88.5 q-2.9,4.6 -3.4,6.5 M53.6,57.0 q0.4,2.2 2.5,6.9 " fill="none" stroke="#000" stroke-opacity="0.075" stroke-width="1.4" stroke-linecap="round" filter="url(#bl1)"/><g fill="#222" fill-opacity="0.5"><circle cx="3.7" cy="31.9" r="0.75"/><circle cx="6.0" cy="24.6" r="0.75"/><circle cx="9.0" cy="17.5" r="0.75"/><circle cx="15.2" cy="11.2" r="0.75"/><circle cx="23.0" cy="6.7" r="0.75"/><circle cx="30.4" cy="4.3" r="0.75"/><circle cx="40.4" cy="0.4" r="0.75"/><circle cx="49.2" cy="0.5" r="0.75"/><circle cx="60.0" cy="-0.2" r="0.75"/><circle cx="69.3" cy="3.3" r="0.75"/><circle cx="78.0" cy="5.7" r="0.75"/><circle cx="85.4" cy="11.1" r="0.75"/><circle cx="91.6" cy="15.9" r="0.75"/><circle cx="96.0" cy="23.9" r="0.75"/><circle cx="98.1" cy="30.6" r="0.75"/><circle cx="12.9" cy="32.4" r="0.75"/><circle cx="14.7" cy="24.1" r="0.75"/><circle cx="20.1" cy="19.1" r="0.75"/><circle cx="25.7" cy="12.5" r="0.75"/><circle cx="34.0" cy="9.1" r="0.75"/><circle cx="43.7" cy="6.4" r="0.75"/><circle cx="54.8" cy="6.9" r="0.75"/><circle cx="64.9" cy="8.1" r="0.75"/><circle cx="73.2" cy="10.6" r="0.75"/><circle cx="81.0" cy="15.9" r="0.75"/><circle cx="85.4" cy="22.5" r="0.75"/><circle cx="89.3" cy="29.2" r="0.75"/><circle cx="24.1" cy="32.5" r="0.75"/><circle cx="25.1" cy="26.1" r="0.75"/><circle cx="30.6" cy="20.7" r="0.75"/><circle cx="39.1" cy="15.2" r="0.75"/><circle cx="49.5" cy="13.6" r="0.75"/><circle cx="58.1" cy="14.2" r="0.75"/><circle cx="67.4" cy="16.5" r="0.75"/><circle cx="73.7" cy="21.8" r="0.75"/><circle cx="78.7" cy="27.8" r="0.75"/><circle cx="35.3" cy="32.5" r="0.75"/><circle cx="37.8" cy="27.5" r="0.75"/><circle cx="44.7" cy="22.8" r="0.75"/><circle cx="51.9" cy="21.8" r="0.75"/><circle cx="61.1" cy="23.9" r="0.75"/><circle cx="64.8" cy="29.2" r="0.75"/><circle cx="20.0" cy="40.3" r="0.75"/><circle cx="35.0" cy="41.5" r="0.75"/><circle cx="50.0" cy="38.2" r="0.75"/><circle cx="65.0" cy="38.9" r="0.75"/><circle cx="80.0" cy="38.7" r="0.75"/><circle cx="28.0" cy="50.3" r="0.75"/><circle cx="50.0" cy="49.8" r="0.75"/><circle cx="72.0" cy="49.6" r="0.75"/></g></g><g transform="translate(130,1042) scale(0.6750,0.8900)" clip-path="url(#c_top)"><g filter="url(#bl)"><rect x="-30" y="-30" width="160" height="160" fill="#00faff"/><ellipse cx="50" cy="25" rx="34.0" ry="17.0" fill="#57ffa8"/><ellipse cx="50" cy="25" rx="31.6" ry="15.8" fill="#80ff80"/><ellipse cx="50" cy="25" rx="29.1" ry="14.6" fill="#a8ff57"/><ellipse cx="50" cy="25" rx="26.7" ry="13.4" fill="#d1ff2e"/><ellipse cx="50" cy="25" rx="24.3" ry="12.1" fill="#faff05"/><ellipse cx="50" cy="25" rx="21.9" ry="10.9" fill="#ffdb00"/><ellipse cx="50" cy="25" rx="19.4" ry="9.7" fill="#ffb300"/><ellipse cx="50" cy="25" rx="17.0" ry="8.5" fill="#ff8a00"/><ellipse cx="5" cy="32" rx="9.0" ry="14.0" fill="#00c7ff"/><ellipse cx="5" cy="32" rx="8.4" ry="13.0" fill="#00abff"/><ellipse cx="5" cy="32" rx="7.7" ry="12.0" fill="#0090ff"/><ellipse cx="5" cy="32" rx="7.1" ry="11.0" fill="#0074ff"/><ellipse cx="5" cy="32" rx="6.4" ry="10.0" fill="#0058ff"/><ellipse cx="5" cy="32" rx="5.8" ry="9.0" fill="#003cff"/><ellipse cx="5" cy="32" rx="5.1" ry="8.0" fill="#0021ff"/><ellipse cx="5" cy="32" rx="4.5" ry="7.0" fill="#0005ff"/><ellipse cx="50" cy="64" rx="150.0" ry="21.0" fill="#00dbff"/><ellipse cx="50" cy="64" rx="142.5" ry="19.9" fill="#00c8ff"/><ellipse cx="50" cy="64" rx="135.0" ry="18.9" fill="#00b5ff"/><ellipse cx="50" cy="64" rx="127.5" ry="17.8" fill="#00a2ff"/><ellipse cx="50" cy="64" rx="120.0" ry="16.8" fill="#0090ff"/><ellipse cx="50" cy="64" rx="112.5" ry="15.8" fill="#007dff"/><ellipse cx="50" cy="64" rx="105.0" ry="14.7" fill="#006aff"/><ellipse cx="50" cy="64" rx="97.5" ry="13.7" fill="#0057ff"/><ellipse cx="50" cy="108" rx="56.0" ry="22.0" fill="#80ff80"/><ellipse cx="50" cy="108" rx="52.8" ry="20.7" fill="#c0ff3f"/><ellipse cx="50" cy="108" rx="49.6" ry="19.5" fill="#fffe00"/><ellipse cx="50" cy="108" rx="46.4" ry="18.2" fill="#ffbe00"/><ellipse cx="50" cy="108" rx="43.2" ry="17.0" fill="#ff7e00"/><ellipse cx="50" cy="108" rx="40.0" ry="15.7" fill="#ff3e00"/><ellipse cx="50" cy="108" rx="36.8" ry="14.5" fill="#fd0000"/><ellipse cx="50" cy="108" rx="33.6" ry="13.2" fill="#bd0000"/><ellipse cx="0" cy="62" rx="11.0" ry="10.0" fill="#e5ff1a"/><ellipse cx="0" cy="62" rx="10.6" ry="9.6" fill="#ffe700"/><ellipse cx="0" cy="62" rx="10.1" ry="9.2" fill="#ffb500"/><ellipse cx="0" cy="62" rx="9.7" ry="8.8" fill="#ff8400"/><ellipse cx="0" cy="62" rx="9.2" ry="8.4" fill="#ff5200"/><ellipse cx="0" cy="62" rx="8.8" ry="8.0" fill="#ff2100"/><ellipse cx="0" cy="62" rx="8.4" ry="7.6" fill="#ee0000"/><ellipse cx="0" cy="62" rx="7.9" ry="7.2" fill="#bd0000"/></g><rect x="0" y="0" width="100" height="100" fill="url(#shr)"/><g fill="#222" fill-opacity="0.5"><circle cx="32.8" cy="17.5" r="0.75"/><circle cx="41.7" cy="18.1" r="0.75"/><circle cx="49.5" cy="18.1" r="0.75"/><circle cx="58.8" cy="16.3" r="0.75"/><circle cx="68.8" cy="16.4" r="0.75"/><circle cx="26.6" cy="26.0" r="0.75"/><circle cx="39.4" cy="27.1" r="0.75"/><circle cx="49.8" cy="26.5" r="0.75"/><circle cx="62.2" cy="27.0" r="0.75"/><circle cx="73.3" cy="26.4" r="0.75"/><circle cx="83.7" cy="25.9" r="0.75"/><circle cx="15.8" cy="35.8" r="0.75"/><circle cx="27.6" cy="36.4" r="0.75"/><circle cx="39.4" cy="35.0" r="0.75"/><circle cx="49.2" cy="36.4" r="0.75"/><circle cx="61.6" cy="35.0" r="0.75"/><circle cx="73.4" cy="35.1" r="0.75"/><circle cx="84.0" cy="35.3" r="0.75"/><circle cx="15.5" cy="45.2" r="0.75"/><circle cx="26.1" cy="45.3" r="0.75"/><circle cx="38.7" cy="44.7" r="0.75"/><circle cx="50.3" cy="45.4" r="0.75"/><circle cx="60.5" cy="44.8" r="0.75"/><circle cx="73.4" cy="45.2" r="0.75"/><circle cx="84.8" cy="44.2" r="0.75"/><circle cx="16.4" cy="54.6" r="0.75"/><circle cx="26.5" cy="53.9" r="0.75"/><circle cx="39.4" cy="53.4" r="0.75"/><circle cx="49.8" cy="54.9" r="0.75"/><circle cx="62.3" cy="53.5" r="0.75"/><circle cx="73.5" cy="53.7" r="0.75"/><circle cx="84.8" cy="54.5" r="0.75"/><circle cx="14.8" cy="62.6" r="0.75"/><circle cx="26.4" cy="62.7" r="0.75"/><circle cx="37.6" cy="62.5" r="0.75"/><circle cx="49.8" cy="63.0" r="0.75"/><circle cx="60.7" cy="63.4" r="0.75"/><circle cx="73.9" cy="63.4" r="0.75"/><circle cx="84.2" cy="63.6" r="0.75"/><circle cx="15.4" cy="71.8" r="0.75"/><circle cx="27.0" cy="71.4" r="0.75"/><circle cx="38.9" cy="71.7" r="0.75"/><circle cx="49.7" cy="73.3" r="0.75"/><circle cx="62.0" cy="73.1" r="0.75"/><circle cx="73.3" cy="72.7" r="0.75"/><circle cx="84.9" cy="73.3" r="0.75"/><circle cx="14.9" cy="82.1" r="0.75"/><circle cx="26.6" cy="81.1" r="0.75"/><circle cx="39.1" cy="81.8" r="0.75"/><circle cx="50.7" cy="82.4" r="0.75"/><circle cx="61.7" cy="81.0" r="0.75"/><circle cx="72.0" cy="81.7" r="0.75"/><circle cx="85.0" cy="81.1" r="0.75"/><circle cx="31.1" cy="89.8" r="0.75"/><circle cx="40.3" cy="91.2" r="0.75"/><circle cx="49.0" cy="90.3" r="0.75"/><circle cx="58.5" cy="91.2" r="0.75"/><circle cx="69.0" cy="89.8" r="0.75"/></g></g><g transform="translate(214,1046) scale(0.8150,0.8100)" clip-path="url(#c_side)"><g filter="url(#bl)"><rect x="-30" y="-30" width="160" height="160" fill="#e5ff1a"/><ellipse cx="82" cy="66" rx="38.0" ry="52.0" fill="#ffdb00"/><ellipse cx="82" cy="66" rx="36.4" ry="49.8" fill="#ffb800"/><ellipse cx="82" cy="66" rx="34.7" ry="47.5" fill="#ff9500"/><ellipse cx="82" cy="66" rx="33.1" ry="45.3" fill="#ff7200"/><ellipse cx="82" cy="66" rx="31.5" ry="43.1" fill="#ff4f00"/><ellipse cx="82" cy="66" rx="29.9" ry="40.9" fill="#ff2c00"/><ellipse cx="82" cy="66" rx="28.2" ry="38.6" fill="#ff0900"/><ellipse cx="82" cy="66" rx="26.6" ry="36.4" fill="#e50000"/><ellipse cx="75" cy="51" rx="25.0" ry="29.0" fill="#e50000"/><ellipse cx="75" cy="51" rx="24.2" ry="28.1" fill="#d70000"/><ellipse cx="75" cy="51" rx="23.4" ry="27.2" fill="#c80000"/><ellipse cx="75" cy="51" rx="22.6" ry="26.3" fill="#ba0000"/><ellipse cx="75" cy="51" rx="21.9" ry="25.4" fill="#ab0000"/><ellipse cx="75" cy="51" rx="21.1" ry="24.4" fill="#9d0000"/><ellipse cx="75" cy="51" rx="20.3" ry="23.5" fill="#8e0000"/><ellipse cx="75" cy="51" rx="19.5" ry="22.6" fill="#800000"/><ellipse cx="45" cy="84" rx="12.0" ry="24.0" fill="#faff05"/><ellipse cx="45" cy="84" rx="11.1" ry="22.3" fill="#fff800"/><ellipse cx="45" cy="84" rx="10.3" ry="20.6" fill="#ffed00"/><ellipse cx="45" cy="84" rx="9.4" ry="18.9" fill="#ffe100"/><ellipse cx="45" cy="84" rx="8.6" ry="17.1" fill="#ffd500"/><ellipse cx="45" cy="84" rx="7.7" ry="15.4" fill="#ffca00"/><ellipse cx="45" cy="84" rx="6.9" ry="13.7" fill="#ffbe00"/><ellipse cx="45" cy="84" rx="6.0" ry="12.0" fill="#ffb300"/><ellipse cx="47" cy="19" rx="60.0" ry="16.0" fill="#80ff80" transform="rotate(-22 47 19)"/><ellipse cx="47" cy="19" rx="56.6" ry="15.1" fill="#57ffa8" transform="rotate(-22 47 19)"/><ellipse cx="47" cy="19" rx="53.1" ry="14.2" fill="#2effd1" transform="rotate(-22 47 19)"/><ellipse cx="47" cy="19" rx="49.7" ry="13.3" fill="#05fffa" transform="rotate(-22 47 19)"/><ellipse cx="47" cy="19" rx="46.3" ry="12.3" fill="#00dbff" transform="rotate(-22 47 19)"/><ellipse cx="47" cy="19" rx="42.9" ry="11.4" fill="#00b3ff" transform="rotate(-22 47 19)"/><ellipse cx="47" cy="19" rx="39.4" ry="10.5" fill="#008aff" transform="rotate(-22 47 19)"/><ellipse cx="47" cy="19" rx="36.0" ry="9.6" fill="#0061ff" transform="rotate(-22 47 19)"/><ellipse cx="30" cy="31" rx="15.0" ry="9.0" fill="#0061ff"/><ellipse cx="30" cy="31" rx="13.9" ry="8.4" fill="#004aff"/><ellipse cx="30" cy="31" rx="12.9" ry="7.7" fill="#0032ff"/><ellipse cx="30" cy="31" rx="11.8" ry="7.1" fill="#001bff"/><ellipse cx="30" cy="31" rx="10.7" ry="6.4" fill="#0004ff"/><ellipse cx="30" cy="31" rx="9.6" ry="5.8" fill="#0000eb"/><ellipse cx="30" cy="31" rx="8.6" ry="5.1" fill="#0000d4"/><ellipse cx="30" cy="31" rx="7.5" ry="4.5" fill="#0000bd"/><ellipse cx="68" cy="9" rx="17.0" ry="8.0" fill="#0061ff"/><ellipse cx="68" cy="9" rx="15.8" ry="7.4" fill="#004fff"/><ellipse cx="68" cy="9" rx="14.6" ry="6.9" fill="#003eff"/><ellipse cx="68" cy="9" rx="13.4" ry="6.3" fill="#002cff"/><ellipse cx="68" cy="9" rx="12.1" ry="5.7" fill="#001bff"/><ellipse cx="68" cy="9" rx="10.9" ry="5.1" fill="#0009ff"/><ellipse cx="68" cy="9" rx="9.7" ry="4.6" fill="#0000f7"/><ellipse cx="68" cy="9" rx="8.5" ry="4.0" fill="#0000e6"/><ellipse cx="26" cy="4" rx="17.0" ry="8.0" fill="#bdff42"/><ellipse cx="26" cy="4" rx="16.0" ry="7.5" fill="#d4ff2b"/><ellipse cx="26" cy="4" rx="15.1" ry="7.1" fill="#ebff14"/><ellipse cx="26" cy="4" rx="14.1" ry="6.6" fill="#fffb00"/><ellipse cx="26" cy="4" rx="13.1" ry="6.2" fill="#ffe400"/><ellipse cx="26" cy="4" rx="12.1" ry="5.7" fill="#ffcd00"/><ellipse cx="26" cy="4" rx="11.2" ry="5.3" fill="#ffb500"/><ellipse cx="26" cy="4" rx="10.2" ry="4.8" fill="#ff9e00"/><ellipse cx="3" cy="64" rx="20.0" ry="32.0" fill="#a8ff57"/><ellipse cx="3" cy="64" rx="18.6" ry="29.7" fill="#98ff67"/><ellipse cx="3" cy="64" rx="17.1" ry="27.4" fill="#88ff77"/><ellipse cx="3" cy="64" rx="15.7" ry="25.1" fill="#78ff87"/><ellipse cx="3" cy="64" rx="14.3" ry="22.9" fill="#68ff97"/><ellipse cx="3" cy="64" rx="12.9" ry="20.6" fill="#58ffa7"/><ellipse cx="3" cy="64" rx="11.4" ry="18.3" fill="#48ffb7"/><ellipse cx="3" cy="64" rx="10.0" ry="16.0" fill="#38ffc7"/></g><rect x="0" y="0" width="100" height="100" fill="url(#shd)"/><rect x="0" y="0" width="100" height="100" fill="url(#hl)"/><path d="M29.1,94.3 q0.2,1.8 1.4,3.5 M41.8,72.5 q0.3,0.1 3.3,2.7 M32.1,58.8 q1.5,3.3 4.4,4.8 M67.2,69.4 q2.8,1.4 3.0,2.5 M25.2,61.5 q2.2,1.1 3.1,3.9 M71.4,88.7 q1.9,1.4 5.7,1.6 M71.8,88.2 q2.1,0.9 3.2,1.4 M30.6,63.1 q1.7,0.5 2.5,2.5 M38.0,72.8 q1.1,2.9 4.9,4.4 M35.7,67.2 q2.5,3.6 4.3,4.8 M34.7,68.1 q0.4,0.8 2.8,3.3 M69.8,89.7 q3.2,2.5 4.7,6.2 M41.6,85.3 q1.7,-0.7 5.9,1.4 M53.9,61.4 q1.4,2.5 3.0,6.7 M29.4,76.3 q2.5,1.7 3.6,3.2 M70.1,59.5 q2.3,-0.1 4.8,1.2 M63.4,64.3 q3.0,2.1 4.7,2.6 M45.0,73.8 q1.9,2.3 3.2,7.0 M50.3,81.7 q2.9,1.9 2.8,1.4 M30.0,74.6 q0.2,2.4 3.1,3.3 M69.8,73.4 q1.2,2.0 4.8,1.3 M25.2,67.1 q-0.2,0.2 2.1,3.0 M32.2,77.3 q-0.0,2.5 1.9,3.3 M48.4,69.2 q3.4,-0.5 4.0,1.3 M38.1,86.1 q1.6,4.7 3.4,6.7 M59.5,67.1 q3.3,0.9 5.2,4.0 M34.0,95.2 q2.9,0.2 6.8,2.0 M37.8,74.7 q1.7,1.2 1.3,3.5 M32.7,86.3 q1.5,2.0 3.4,2.0 M75.5,79.1 q3.7,1.8 6.7,1.3 M81.0,68.7 q1.0,2.7 3.4,6.2 M45.2,69.8 q0.7,2.2 3.0,1.9 M47.5,81.7 q0.8,4.3 3.1,6.1 M71.9,96.6 q2.9,2.0 4.0,5.5 " fill="none" stroke="#000" stroke-opacity="0.075" stroke-width="1.4" stroke-linecap="round" filter="url(#bl1)"/><path d="M45,57 q3,-4 6,-2 q-3,3 -3,6 M43,64 q4,4 9,2 M47,70 q3,3 8,0 M40,74 q4,3 8,2" fill="none" stroke="#000" stroke-opacity="0.22" stroke-width="1.4" stroke-linecap="round" filter="url(#bl1)"/><g fill="#222" fill-opacity="0.5"><circle cx="14.3" cy="36.3" r="0.75"/><circle cx="17.8" cy="25.9" r="0.75"/><circle cx="22.6" cy="17.3" r="0.75"/><circle cx="30.7" cy="10.0" r="0.75"/><circle cx="39.9" cy="5.6" r="0.75"/><circle cx="50.2" cy="1.1" r="0.75"/><circle cx="60.9" cy="1.8" r="0.75"/><circle cx="70.9" cy="3.6" r="0.75"/><circle cx="79.3" cy="8.5" r="0.75"/><circle cx="88.5" cy="14.2" r="0.75"/><circle cx="94.5" cy="23.2" r="0.75"/><circle cx="99.6" cy="32.9" r="0.75"/><circle cx="22.7" cy="37.9" r="0.75"/><circle cx="25.3" cy="29.6" r="0.75"/><circle cx="29.7" cy="22.4" r="0.75"/><circle cx="36.5" cy="17.1" r="0.75"/><circle cx="42.2" cy="12.5" r="0.75"/><circle cx="51.5" cy="10.4" r="0.75"/><circle cx="59.3" cy="10.4" r="0.75"/><circle cx="68.2" cy="13.1" r="0.75"/><circle cx="74.7" cy="15.9" r="0.75"/><circle cx="82.4" cy="20.7" r="0.75"/><circle cx="87.4" cy="27.7" r="0.75"/><circle cx="89.5" cy="35.5" r="0.75"/><circle cx="32.8" cy="39.0" r="0.75"/><circle cx="35.8" cy="32.6" r="0.75"/><circle cx="41.2" cy="25.4" r="0.75"/><circle cx="48.4" cy="22.0" r="0.75"/><circle cx="57.3" cy="19.2" r="0.75"/><circle cx="65.2" cy="21.0" r="0.75"/><circle cx="73.8" cy="25.9" r="0.75"/><circle cx="77.6" cy="32.7" r="0.75"/><circle cx="80.4" cy="40.0" r="0.75"/><circle cx="52.0" cy="35.7" r="0.75"/><circle cx="60.0" cy="36.9" r="0.75"/><circle cx="68.0" cy="35.7" r="0.75"/><circle cx="76.0" cy="34.4" r="0.75"/></g></g><g transform="translate(387,1043.5) scale(-0.8150,0.8550)" clip-path="url(#c_side)"><g filter="url(#bl)"><rect x="-30" y="-30" width="160" height="160" fill="#e5ff1a"/><ellipse cx="92" cy="70" rx="33.0" ry="52.0" fill="#ffdb00"/><ellipse cx="92" cy="70" rx="31.1" ry="49.0" fill="#ffc100"/><ellipse cx="92" cy="70" rx="29.2" ry="46.1" fill="#ffa700"/><ellipse cx="92" cy="70" rx="27.3" ry="43.1" fill="#ff8d00"/><ellipse cx="92" cy="70" rx="25.5" ry="40.1" fill="#ff7200"/><ellipse cx="92" cy="70" rx="23.6" ry="37.1" fill="#ff5800"/><ellipse cx="92" cy="70" rx="21.7" ry="34.2" fill="#ff3e00"/><ellipse cx="92" cy="70" rx="19.8" ry="31.2" fill="#ff2400"/><ellipse cx="85" cy="98" rx="26.0" ry="15.0" fill="#ff4c00"/><ellipse cx="85" cy="98" rx="24.1" ry="13.9" fill="#ff3b00"/><ellipse cx="85" cy="98" rx="22.3" ry="12.9" fill="#ff2a00"/><ellipse cx="85" cy="98" rx="20.4" ry="11.8" fill="#ff1800"/><ellipse cx="85" cy="98" rx="18.6" ry="10.7" fill="#ff0700"/><ellipse cx="85" cy="98" rx="16.7" ry="9.6" fill="#f40000"/><ellipse cx="85" cy="98" rx="14.9" ry="8.6" fill="#e30000"/><ellipse cx="85" cy="98" rx="13.0" ry="7.5" fill="#d10000"/><ellipse cx="28" cy="68" rx="14.0" ry="28.0" fill="#d1ff2e"/><ellipse cx="28" cy="68" rx="13.0" ry="26.0" fill="#cbff34"/><ellipse cx="28" cy="68" rx="12.0" ry="24.0" fill="#c5ff3a"/><ellipse cx="28" cy="68" rx="11.0" ry="22.0" fill="#c0ff3f"/><ellipse cx="28" cy="68" rx="10.0" ry="20.0" fill="#baff45"/><ellipse cx="28" cy="68" rx="9.0" ry="18.0" fill="#b4ff4b"/><ellipse cx="28" cy="68" rx="8.0" ry="16.0" fill="#aeff51"/><ellipse cx="28" cy="68" rx="7.0" ry="14.0" fill="#a8ff57"/><ellipse cx="60" cy="8" rx="27.0" ry="14.0" fill="#4dffb3"/><ellipse cx="60" cy="8" rx="25.3" ry="13.1" fill="#1cffe3"/><ellipse cx="60" cy="8" rx="23.5" ry="12.2" fill="#00ebff"/><ellipse cx="60" cy="8" rx="21.8" ry="11.3" fill="#00bbff"/><ellipse cx="60" cy="8" rx="20.1" ry="10.4" fill="#008bff"/><ellipse cx="60" cy="8" rx="18.3" ry="9.5" fill="#005bff"/><ellipse cx="60" cy="8" rx="16.6" ry="8.6" fill="#002bff"/><ellipse cx="60" cy="8" rx="14.9" ry="7.7" fill="#0000fa"/><ellipse cx="32" cy="25" rx="20.0" ry="12.0" fill="#6bff94"/><ellipse cx="32" cy="25" rx="18.6" ry="11.1" fill="#51ffae"/><ellipse cx="32" cy="25" rx="17.1" ry="10.3" fill="#37ffc8"/><ellipse cx="32" cy="25" rx="15.7" ry="9.4" fill="#1cffe3"/><ellipse cx="32" cy="25" rx="14.3" ry="8.6" fill="#02fffd"/><ellipse cx="32" cy="25" rx="12.9" ry="7.7" fill="#00e7ff"/><ellipse cx="32" cy="25" rx="11.4" ry="6.9" fill="#00cdff"/><ellipse cx="32" cy="25" rx="10.0" ry="6.0" fill="#00b3ff"/><ellipse cx="18" cy="38" rx="14.0" ry="14.0" fill="#57ffa8"/><ellipse cx="18" cy="38" rx="13.0" ry="13.0" fill="#3fffc0"/><ellipse cx="18" cy="38" rx="12.0" ry="12.0" fill="#28ffd7"/><ellipse cx="18" cy="38" rx="11.0" ry="11.0" fill="#11ffee"/><ellipse cx="18" cy="38" rx="10.0" ry="10.0" fill="#00f8ff"/><ellipse cx="18" cy="38" rx="9.0" ry="9.0" fill="#00e1ff"/><ellipse cx="18" cy="38" rx="8.0" ry="8.0" fill="#00caff"/><ellipse cx="18" cy="38" rx="7.0" ry="7.0" fill="#00b3ff"/><ellipse cx="22" cy="5" rx="11.0" ry="6.0" fill="#e5ff1a"/><ellipse cx="22" cy="5" rx="10.2" ry="5.6" fill="#f7ff08"/><ellipse cx="22" cy="5" rx="9.4" ry="5.1" fill="#fff600"/><ellipse cx="22" cy="5" rx="8.6" ry="4.7" fill="#ffe400"/><ellipse cx="22" cy="5" rx="7.9" ry="4.3" fill="#ffd300"/><ellipse cx="22" cy="5" rx="7.1" ry="3.9" fill="#ffc100"/><ellipse cx="22" cy="5" rx="6.3" ry="3.4" fill="#ffb000"/><ellipse cx="22" cy="5" rx="5.5" ry="3.0" fill="#ff9e00"/><ellipse cx="6" cy="66" rx="16.0" ry="30.0" fill="#94ff6b"/><ellipse cx="6" cy="66" rx="14.9" ry="27.9" fill="#88ff77"/><ellipse cx="6" cy="66" rx="13.7" ry="25.7" fill="#7dff82"/><ellipse cx="6" cy="66" rx="12.6" ry="23.6" fill="#71ff8e"/><ellipse cx="6" cy="66" rx="11.4" ry="21.4" fill="#65ff9a"/><ellipse cx="6" cy="66" rx="10.3" ry="19.3" fill="#5affa5"/><ellipse cx="6" cy="66" rx="9.1" ry="17.1" fill="#4effb1"/><ellipse cx="6" cy="66" rx="8.0" ry="15.0" fill="#42ffbd"/></g><rect x="0" y="0" width="100" height="100" fill="url(#shd)"/><rect x="0" y="0" width="100" height="100" fill="url(#hl)"/><path d="M54.5,89.5 q0.5,2.7 2.6,4.0 M71.7,64.2 q1.6,3.2 3.6,7.1 M66.0,94.1 q1.6,1.5 4.2,1.7 M33.6,78.0 q1.4,3.4 4.9,4.1 M84.0,78.6 q2.3,1.8 2.1,3.3 M69.1,91.5 q2.4,0.6 6.5,4.0 M53.1,92.7 q1.7,4.8 3.4,7.0 M56.7,61.0 q2.1,2.9 4.7,5.2 M38.1,66.6 q2.2,0.4 4.5,3.2 M22.4,69.3 q1.2,2.0 4.1,5.4 M54.0,62.4 q1.7,3.0 5.2,5.4 M66.7,86.5 q1.3,3.6 4.0,5.2 M79.4,57.2 q-0.2,1.1 2.1,4.8 M71.4,83.5 q2.9,2.3 5.0,1.7 M42.8,87.2 q0.8,0.6 3.6,1.7 M60.3,67.7 q0.7,-0.2 3.9,1.4 M41.6,76.2 q2.3,2.4 5.0,1.9 M52.1,94.7 q1.8,0.2 3.1,2.5 M32.5,58.1 q2.1,2.7 4.8,6.2 M48.4,69.8 q0.5,3.0 3.1,3.9 M57.5,55.3 q1.2,3.3 3.2,5.8 M79.1,71.9 q2.0,1.8 3.6,2.6 M67.6,94.9 q3.3,1.6 4.6,1.5 M58.6,83.4 q3.5,1.7 6.7,3.9 M33.3,59.8 q0.1,2.6 3.1,6.3 M51.7,75.8 q2.7,2.1 6.4,3.9 M79.6,81.8 q1.5,1.8 3.6,2.9 M70.7,65.9 q1.7,2.6 4.2,2.6 M55.4,66.6 q2.1,2.3 6.2,3.5 M23.3,63.1 q2.4,0.0 6.8,1.6 M25.6,66.1 q3.2,4.0 3.9,5.3 M56.2,93.7 q3.5,0.1 7.4,2.0 M68.4,91.1 q2.6,1.7 2.9,1.9 M59.0,96.0 q0.5,-1.1 3.2,0.7 " fill="none" stroke="#000" stroke-opacity="0.075" stroke-width="1.4" stroke-linecap="round" filter="url(#bl1)"/><path d="M45,57 q3,-4 6,-2 q-3,3 -3,6 M43,64 q4,4 9,2 M47,70 q3,3 8,0 M40,74 q4,3 8,2" fill="none" stroke="#000" stroke-opacity="0.22" stroke-width="1.4" stroke-linecap="round" filter="url(#bl1)"/><g fill="#222" fill-opacity="0.5"><circle cx="14.4" cy="36.8" r="0.75"/><circle cx="16.3" cy="25.9" r="0.75"/><circle cx="21.9" cy="17.9" r="0.75"/><circle cx="30.4" cy="11.2" r="0.75"/><circle cx="38.9" cy="5.9" r="0.75"/><circle cx="49.3" cy="1.7" r="0.75"/><circle cx="59.6" cy="0.8" r="0.75"/><circle cx="71.5" cy="4.3" r="0.75"/><circle cx="80.6" cy="7.1" r="0.75"/><circle cx="87.8" cy="13.6" r="0.75"/><circle cx="94.5" cy="23.1" r="0.75"/><circle cx="98.1" cy="32.3" r="0.75"/><circle cx="23.7" cy="37.3" r="0.75"/><circle cx="25.6" cy="31.0" r="0.75"/><circle cx="30.2" cy="23.3" r="0.75"/><circle cx="36.7" cy="17.8" r="0.75"/><circle cx="42.8" cy="13.2" r="0.75"/><circle cx="51.9" cy="11.7" r="0.75"/><circle cx="60.2" cy="10.7" r="0.75"/><circle cx="66.9" cy="11.5" r="0.75"/><circle cx="74.9" cy="16.0" r="0.75"/><circle cx="80.6" cy="21.3" r="0.75"/><circle cx="87.2" cy="27.3" r="0.75"/><circle cx="88.9" cy="35.4" r="0.75"/><circle cx="32.5" cy="40.1" r="0.75"/><circle cx="35.7" cy="32.4" r="0.75"/><circle cx="40.9" cy="26.4" r="0.75"/><circle cx="49.5" cy="22.1" r="0.75"/><circle cx="57.2" cy="19.5" r="0.75"/><circle cx="65.2" cy="20.8" r="0.75"/><circle cx="73.7" cy="26.1" r="0.75"/><circle cx="79.0" cy="32.6" r="0.75"/><circle cx="82.3" cy="40.2" r="0.75"/><circle cx="52.0" cy="35.3" r="0.75"/><circle cx="60.0" cy="37.0" r="0.75"/><circle cx="68.0" cy="35.0" r="0.75"/><circle cx="76.0" cy="36.4" r="0.75"/></g></g><g transform="translate(130,1136) scale(0.6750,0.8750)" clip-path="url(#c_top)"><g filter="url(#bl)"><rect x="-30" y="-30" width="160" height="160" fill="#0000bd"/><ellipse cx="35" cy="32" rx="17.0" ry="12.0" fill="#0000bd"/><ellipse cx="35" cy="32" rx="15.8" ry="11.1" fill="#0000c8"/><ellipse cx="35" cy="32" rx="14.6" ry="10.3" fill="#0000d4"/><ellipse cx="35" cy="32" rx="13.4" ry="9.4" fill="#0000e0"/><ellipse cx="35" cy="32" rx="12.1" ry="8.6" fill="#0000eb"/><ellipse cx="35" cy="32" rx="10.9" ry="7.7" fill="#0000f7"/><ellipse cx="35" cy="32" rx="9.7" ry="6.9" fill="#0004ff"/><ellipse cx="35" cy="32" rx="8.5" ry="6.0" fill="#000fff"/><ellipse cx="0" cy="62" rx="11.0" ry="10.0" fill="#001aff"/><ellipse cx="0" cy="62" rx="10.6" ry="9.6" fill="#002bff"/><ellipse cx="0" cy="62" rx="10.1" ry="9.2" fill="#003cff"/><ellipse cx="0" cy="62" rx="9.7" ry="8.8" fill="#004eff"/><ellipse cx="0" cy="62" rx="9.2" ry="8.4" fill="#005fff"/><ellipse cx="0" cy="62" rx="8.8" ry="8.0" fill="#0071ff"/><ellipse cx="0" cy="62" rx="8.4" ry="7.6" fill="#0082ff"/><ellipse cx="0" cy="62" rx="7.9" ry="7.2" fill="#0094ff"/></g><rect x="0" y="0" width="100" height="100" fill="url(#shr)"/><g fill="#222" fill-opacity="0.5"><circle cx="31.3" cy="17.9" r="0.75"/><circle cx="41.0" cy="16.8" r="0.75"/><circle cx="50.8" cy="16.4" r="0.75"/><circle cx="59.9" cy="17.7" r="0.75"/><circle cx="67.3" cy="17.7" r="0.75"/><circle cx="27.8" cy="26.6" r="0.75"/><circle cx="38.4" cy="27.3" r="0.75"/><circle cx="49.2" cy="27.0" r="0.75"/><circle cx="60.7" cy="26.0" r="0.75"/><circle cx="72.2" cy="27.1" r="0.75"/><circle cx="84.4" cy="26.9" r="0.75"/><circle cx="15.0" cy="36.1" r="0.75"/><circle cx="27.3" cy="34.8" r="0.75"/><circle cx="38.5" cy="36.0" r="0.75"/><circle cx="49.4" cy="35.9" r="0.75"/><circle cx="61.1" cy="35.3" r="0.75"/><circle cx="73.8" cy="36.5" r="0.75"/><circle cx="85.5" cy="35.5" r="0.75"/><circle cx="15.6" cy="45.4" r="0.75"/><circle cx="27.5" cy="44.7" r="0.75"/><circle cx="39.2" cy="44.6" r="0.75"/><circle cx="50.9" cy="44.7" r="0.75"/><circle cx="60.7" cy="45.3" r="0.75"/><circle cx="72.3" cy="45.2" r="0.75"/><circle cx="83.6" cy="45.8" r="0.75"/><circle cx="15.6" cy="54.5" r="0.75"/><circle cx="26.3" cy="54.3" r="0.75"/><circle cx="38.3" cy="53.5" r="0.75"/><circle cx="50.6" cy="53.1" r="0.75"/><circle cx="61.5" cy="53.2" r="0.75"/><circle cx="73.7" cy="54.8" r="0.75"/><circle cx="83.6" cy="53.9" r="0.75"/><circle cx="15.4" cy="63.6" r="0.75"/><circle cx="27.5" cy="62.9" r="0.75"/><circle cx="39.4" cy="62.6" r="0.75"/><circle cx="49.3" cy="63.8" r="0.75"/><circle cx="60.7" cy="62.6" r="0.75"/><circle cx="73.0" cy="62.9" r="0.75"/><circle cx="83.8" cy="64.1" r="0.75"/><circle cx="15.4" cy="73.0" r="0.75"/><circle cx="26.5" cy="73.2" r="0.75"/><circle cx="37.9" cy="73.2" r="0.75"/><circle cx="50.2" cy="73.3" r="0.75"/><circle cx="62.0" cy="72.7" r="0.75"/><circle cx="73.1" cy="73.1" r="0.75"/><circle cx="84.4" cy="71.6" r="0.75"/><circle cx="16.3" cy="82.2" r="0.75"/><circle cx="27.4" cy="82.1" r="0.75"/><circle cx="38.0" cy="81.5" r="0.75"/><circle cx="50.6" cy="82.5" r="0.75"/><circle cx="62.3" cy="80.9" r="0.75"/><circle cx="73.4" cy="81.7" r="0.75"/><circle cx="84.3" cy="80.9" r="0.75"/><circle cx="31.3" cy="90.7" r="0.75"/><circle cx="41.0" cy="90.3" r="0.75"/><circle cx="49.7" cy="90.9" r="0.75"/><circle cx="59.5" cy="91.0" r="0.75"/><circle cx="67.3" cy="91.6" r="0.75"/></g></g><g transform="translate(218.5,1134) scale(0.6500,0.8950)" clip-path="url(#c_back)"><g filter="url(#bl)"><rect x="-30" y="-30" width="160" height="160" fill="#0000c7"/><ellipse cx="50" cy="104" rx="75.0" ry="52.0" fill="#0000db"/><ellipse cx="50" cy="104" rx="69.6" ry="48.3" fill="#0000f6"/><ellipse cx="50" cy="104" rx="64.3" ry="44.6" fill="#0011ff"/><ellipse cx="50" cy="104" rx="58.9" ry="40.9" fill="#002bff"/><ellipse cx="50" cy="104" rx="53.6" ry="37.1" fill="#0045ff"/><ellipse cx="50" cy="104" rx="48.2" ry="33.4" fill="#005fff"/><ellipse cx="50" cy="104" rx="42.9" ry="29.7" fill="#007aff"/><ellipse cx="50" cy="104" rx="37.5" ry="26.0" fill="#0094ff"/><ellipse cx="2" cy="67" rx="7.0" ry="9.0" fill="#004dff"/><ellipse cx="2" cy="67" rx="6.5" ry="8.4" fill="#0058ff"/><ellipse cx="2" cy="67" rx="6.0" ry="7.7" fill="#0064ff"/><ellipse cx="2" cy="67" rx="5.5" ry="7.1" fill="#006fff"/><ellipse cx="2" cy="67" rx="5.0" ry="6.4" fill="#007bff"/><ellipse cx="2" cy="67" rx="4.5" ry="5.8" fill="#0087ff"/><ellipse cx="2" cy="67" rx="4.0" ry="5.1" fill="#0092ff"/><ellipse cx="2" cy="67" rx="3.5" ry="4.5" fill="#009eff"/><ellipse cx="98" cy="67" rx="7.0" ry="9.0" fill="#004dff"/><ellipse cx="98" cy="67" rx="6.5" ry="8.4" fill="#0058ff"/><ellipse cx="98" cy="67" rx="6.0" ry="7.7" fill="#0064ff"/><ellipse cx="98" cy="67" rx="5.5" ry="7.1" fill="#006fff"/><ellipse cx="98" cy="67" rx="5.0" ry="6.4" fill="#007bff"/><ellipse cx="98" cy="67" rx="4.5" ry="5.8" fill="#0087ff"/><ellipse cx="98" cy="67" rx="4.0" ry="5.1" fill="#0092ff"/><ellipse cx="98" cy="67" rx="3.5" ry="4.5" fill="#009eff"/></g><rect x="0" y="0" width="100" height="100" fill="url(#shd)"/><rect x="0" y="0" width="100" height="100" fill="url(#hl)"/><path d="M43.5,93.0 q-0.6,3.0 -1.8,3.2 M44.6,72.4 q-0.6,0.4 0.6,3.1 M38.2,76.5 q0.3,3.4 -0.5,7.7 M80.8,76.7 q0.3,3.2 -0.3,7.3 M58.7,60.0 q0.4,0.6 -2.0,3.7 M20.6,72.7 q-0.3,3.6 1.7,5.3 M62.8,79.2 q-1.2,4.2 -3.4,7.2 M20.1,47.5 q-0.3,4.1 0.6,7.8 M20.6,65.8 q-0.2,1.3 -2.4,5.4 M33.0,54.0 q0.7,1.0 -1.2,3.3 M76.4,70.8 q0.4,4.4 1.4,7.7 M24.3,86.5 q-0.1,0.9 -1.7,3.1 M29.5,63.2 q0.8,5.3 -1.3,7.7 M59.9,77.7 q1.3,2.7 2.3,6.2 M77.6,57.8 q-0.4,2.0 1.4,3.5 M71.3,53.0 q0.2,2.7 -0.0,5.9 M54.8,45.8 q0.4,3.1 2.3,4.6 M35.5,86.2 q0.4,1.3 0.9,3.3 M41.5,83.3 q1.9,2.9 1.8,6.1 M52.2,91.2 q-1.5,0.7 -0.4,3.9 M41.2,49.4 q-1.0,2.6 -0.8,5.1 M79.9,57.2 q0.3,3.3 1.6,4.2 M65.2,66.4 q-0.6,2.6 1.1,3.0 M61.5,52.8 q-0.2,1.1 -0.4,3.3 M26.6,82.1 q-1.6,3.2 -1.2,5.4 M47.7,78.1 q0.1,2.6 3.1,6.8 M45.5,54.9 q2.8,2.4 2.7,5.8 M37.0,78.5 q1.3,2.2 1.4,4.8 M30.0,48.5 q1.1,2.8 -0.4,7.9 M52.1,69.4 q1.0,3.9 2.0,6.0 " fill="none" stroke="#000" stroke-opacity="0.075" stroke-width="1.4" stroke-linecap="round" filter="url(#bl1)"/><g fill="#222" fill-opacity="0.5"><circle cx="3.8" cy="31.9" r="0.75"/><circle cx="6.7" cy="24.1" r="0.75"/><circle cx="9.2" cy="17.6" r="0.75"/><circle cx="14.8" cy="12.2" r="0.75"/><circle cx="23.1" cy="7.1" r="0.75"/><circle cx="32.1" cy="2.4" r="0.75"/><circle cx="40.9" cy="1.6" r="0.75"/><circle cx="49.4" cy="-0.2" r="0.75"/><circle cx="59.1" cy="0.9" r="0.75"/><circle cx="69.8" cy="2.5" r="0.75"/><circle cx="78.3" cy="6.0" r="0.75"/><circle cx="85.8" cy="10.5" r="0.75"/><circle cx="92.2" cy="16.4" r="0.75"/><circle cx="94.4" cy="22.2" r="0.75"/><circle cx="98.1" cy="30.6" r="0.75"/><circle cx="13.4" cy="30.9" r="0.75"/><circle cx="16.0" cy="25.1" r="0.75"/><circle cx="19.1" cy="18.1" r="0.75"/><circle cx="26.9" cy="12.0" r="0.75"/><circle cx="34.0" cy="8.9" r="0.75"/><circle cx="45.2" cy="8.0" r="0.75"/><circle cx="53.9" cy="7.6" r="0.75"/><circle cx="64.6" cy="9.0" r="0.75"/><circle cx="73.0" cy="12.5" r="0.75"/><circle cx="80.4" cy="17.3" r="0.75"/><circle cx="85.6" cy="21.8" r="0.75"/><circle cx="88.5" cy="29.2" r="0.75"/><circle cx="22.8" cy="32.0" r="0.75"/><circle cx="25.6" cy="25.7" r="0.75"/><circle cx="30.6" cy="19.3" r="0.75"/><circle cx="39.2" cy="15.7" r="0.75"/><circle cx="48.4" cy="14.2" r="0.75"/><circle cx="57.6" cy="14.6" r="0.75"/><circle cx="66.6" cy="18.0" r="0.75"/><circle cx="74.3" cy="23.0" r="0.75"/><circle cx="78.1" cy="28.3" r="0.75"/><circle cx="35.9" cy="33.0" r="0.75"/><circle cx="37.6" cy="27.0" r="0.75"/><circle cx="44.0" cy="24.0" r="0.75"/><circle cx="53.0" cy="22.5" r="0.75"/><circle cx="60.6" cy="24.0" r="0.75"/><circle cx="65.4" cy="28.8" r="0.75"/><circle cx="20.0" cy="39.2" r="0.75"/><circle cx="35.0" cy="39.4" r="0.75"/><circle cx="50.0" cy="41.0" r="0.75"/><circle cx="65.0" cy="40.9" r="0.75"/><circle cx="80.0" cy="38.8" r="0.75"/><circle cx="28.0" cy="48.9" r="0.75"/><circle cx="50.0" cy="51.1" r="0.75"/><circle cx="72.0" cy="50.6" r="0.75"/></g></g>
</svg>
</body></html>
